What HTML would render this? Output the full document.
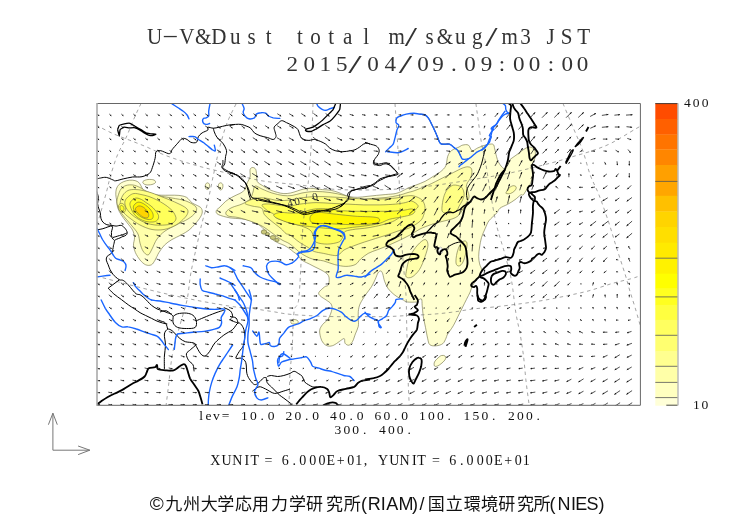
<!DOCTYPE html>
<html><head><meta charset="utf-8"><title>U-V&amp;Dust</title>
<style>
html,body{margin:0;padding:0;background:#fff;}
body{width:752px;height:532px;position:relative;overflow:hidden;}
</style></head><body>
<svg width="752" height="532" viewBox="0 0 752 532" style="position:absolute;left:0;top:0">
<defs><clipPath id="c"><rect x="96.8" y="103.5" width="543.6" height="301.8"/></clipPath></defs>
<g clip-path="url(#c)">
<path d="M216.3,210.7 C216.6,209.4 218.4,208.6 220.0,207.0 C221.6,205.4 223.8,202.9 225.7,201.3 C227.6,199.7 229.4,198.7 231.3,197.6 C233.2,196.5 235.0,195.8 236.9,194.8 C238.8,193.9 241.2,193.0 242.6,191.9 C244.0,190.8 244.6,189.8 245.4,188.2 C246.2,186.6 246.5,184.5 247.3,182.6 C248.1,180.7 249.6,179.1 250.1,176.9 C250.6,174.7 249.6,171.0 250.1,169.4 C250.6,167.8 252.0,167.5 252.9,167.5 C253.8,167.5 255.1,168.2 255.7,169.4 C256.3,170.7 256.4,173.0 256.7,175.0 C257.0,177.0 256.3,179.8 257.3,181.6 C258.3,183.4 260.6,184.3 262.6,185.6 C264.6,186.9 266.9,188.5 269.3,189.6 C271.7,190.7 274.8,191.6 277.2,192.3 C279.6,193.0 281.7,193.5 283.9,193.6 C286.1,193.7 288.3,193.4 290.5,193.0 C292.7,192.6 295.0,191.7 297.2,191.0 C299.4,190.3 301.6,189.4 303.8,189.0 C306.0,188.6 308.3,188.3 310.5,188.3 C312.7,188.3 315.1,188.8 317.1,189.0 C319.1,189.2 320.0,189.4 322.4,189.6 C324.8,189.8 328.6,189.9 331.3,190.4 C334.0,190.9 336.0,191.6 338.8,192.6 C341.6,193.6 345.1,195.6 348.2,196.4 C351.3,197.2 354.5,197.3 357.6,197.3 C360.7,197.3 363.9,196.7 367.0,196.4 C370.1,196.1 373.3,195.7 376.4,195.4 C379.5,195.1 382.7,194.8 385.8,194.5 C388.9,194.2 392.7,194.1 395.2,193.6 C397.7,193.1 398.6,192.6 400.8,191.7 C403.0,190.8 405.8,189.0 408.3,187.9 C410.8,186.8 413.0,186.2 415.8,185.1 C418.6,184.0 422.4,182.7 425.2,181.3 C428.0,179.9 430.3,178.2 432.8,176.6 C435.3,175.0 438.1,173.7 440.3,171.9 C442.5,170.1 444.6,168.4 445.8,165.8 C447.0,163.2 446.8,158.9 447.7,156.4 C448.6,153.9 449.5,152.3 451.4,150.7 C453.3,149.1 457.1,147.9 459.0,147.0 C460.9,146.1 461.1,145.4 462.7,145.1 C464.3,144.8 466.8,144.2 468.4,145.1 C470.0,146.0 470.5,150.2 472.1,150.7 C473.7,151.2 475.6,148.8 477.8,147.9 C480.0,147.0 482.8,145.7 485.3,145.1 C487.8,144.5 491.2,143.6 492.8,144.2 C494.4,144.8 494.1,146.9 494.7,148.9 C495.3,150.9 495.9,154.2 496.5,156.4 C497.1,158.6 497.5,160.3 498.4,162.0 C499.3,163.7 500.6,165.7 501.7,166.8 C502.8,167.9 503.9,169.1 504.7,168.8 C505.5,168.5 505.9,166.2 506.7,164.8 C507.5,163.4 507.8,161.8 509.5,160.1 C511.2,158.4 514.5,156.4 517.0,154.5 C519.5,152.6 522.6,150.2 524.6,148.9 C526.6,147.7 527.6,147.1 529.0,147.0 C530.4,146.9 532.1,147.6 533.1,148.3 C534.1,149.0 534.9,149.8 535.2,151.2 C535.6,152.6 535.4,155.2 535.2,156.8 C535.0,158.4 534.4,159.6 533.8,161.0 C533.2,162.4 532.3,164.1 531.7,165.3 C531.1,166.5 530.2,167.4 530.3,168.1 C530.4,168.8 532.0,168.1 532.4,169.5 C532.8,170.9 532.6,174.5 532.4,176.6 C532.2,178.7 531.6,180.6 531.0,182.2 C530.4,183.8 529.7,185.0 528.9,186.4 C528.1,187.8 527.0,189.3 526.0,190.7 C525.0,192.1 524.1,194.2 523.2,194.9 C522.3,195.6 522.1,194.2 520.7,195.0 C519.3,195.8 517.2,198.1 515.0,199.7 C512.8,201.3 510.0,203.0 507.5,204.4 C505.0,205.8 501.8,206.7 500.0,208.2 C498.2,209.7 498.3,211.1 496.5,213.2 C494.7,215.3 490.9,218.2 489.0,220.7 C487.1,223.2 486.6,225.4 485.3,228.2 C484.1,231.0 482.4,234.5 481.5,237.6 C480.6,240.7 480.1,243.9 479.6,247.0 C479.1,250.1 478.7,253.6 478.7,256.4 C478.7,259.2 479.1,261.7 479.6,263.9 C480.1,266.1 481.5,267.6 481.5,269.5 C481.5,271.4 480.5,273.3 479.6,275.2 C478.7,277.1 477.1,278.9 475.9,280.8 C474.6,282.7 473.1,284.5 472.1,286.4 C471.2,288.3 471.1,289.9 470.2,292.0 C469.3,294.1 467.8,296.6 466.5,299.3 C465.2,302.0 463.6,305.1 462.2,308.0 C460.8,310.9 459.3,313.7 457.9,316.6 C456.5,319.5 455.0,322.7 453.6,325.2 C452.2,327.7 450.4,330.1 449.3,331.7 C448.2,333.3 447.7,333.9 447.1,335.0 C446.6,336.1 446.7,336.8 446.0,338.2 C445.3,339.6 444.4,342.3 442.8,343.6 C441.2,344.9 438.5,345.6 436.3,345.8 C434.1,346.0 431.2,346.0 429.8,344.7 C428.4,343.4 428.3,341.1 427.6,338.2 C426.9,335.3 426.2,331.0 425.5,327.4 C424.8,323.8 423.9,320.2 423.3,316.6 C422.8,313.0 422.5,308.7 422.2,305.8 C421.9,302.9 422.2,299.9 421.5,299.0 C420.8,298.1 418.8,300.0 418.0,300.5 C417.2,301.0 418.3,301.8 416.5,302.0 C414.7,302.2 409.3,302.3 407.1,302.0 C404.9,301.7 404.6,300.7 403.4,300.1 C402.1,299.5 401.2,299.1 399.6,298.2 C398.0,297.3 395.9,296.1 394.0,294.5 C392.1,292.9 389.9,291.0 388.3,288.8 C386.7,286.6 385.5,283.8 384.6,281.3 C383.7,278.8 383.3,275.5 382.7,273.8 C382.1,272.1 381.6,271.1 380.8,271.0 C380.0,270.9 378.9,271.5 378.0,272.9 C377.1,274.3 376.3,277.1 375.2,279.4 C374.1,281.7 373.0,284.4 371.4,286.9 C369.8,289.4 367.7,291.7 365.8,294.5 C363.9,297.3 361.4,301.1 360.1,303.9 C358.9,306.7 358.6,308.9 358.3,311.4 C358.0,313.9 358.3,316.4 358.3,318.9 C358.3,321.4 358.8,323.9 358.3,326.4 C357.8,328.9 356.3,331.4 355.4,333.9 C354.4,336.4 353.7,339.5 352.6,341.4 C351.5,343.3 350.1,344.9 348.9,345.2 C347.6,345.5 345.9,344.4 345.1,343.3 C344.3,342.2 345.1,338.9 344.2,338.6 C343.3,338.3 341.2,340.3 339.5,341.4 C337.8,342.5 335.7,344.4 333.8,345.2 C331.9,346.0 329.9,346.4 328.2,346.1 C326.5,345.8 324.8,344.7 323.5,343.3 C322.2,341.9 321.3,339.9 320.7,337.7 C320.1,335.5 319.4,332.4 319.7,330.2 C320.0,328.0 321.2,326.4 322.6,324.5 C324.0,322.6 326.6,321.4 328.2,318.9 C329.8,316.4 331.4,312.0 331.9,309.5 C332.4,307.0 331.9,305.5 331.0,303.9 C330.1,302.3 328.0,301.4 326.3,300.1 C324.6,298.8 321.9,297.6 320.7,296.3 C319.4,295.1 318.2,294.2 318.8,292.6 C319.4,291.1 322.8,288.3 324.4,287.0 C326.0,285.7 327.5,286.3 328.3,285.0 C329.1,283.7 329.2,280.8 329.2,279.2 C329.2,277.6 328.9,276.5 328.3,275.4 C327.7,274.3 326.8,273.5 325.5,272.6 C324.2,271.7 322.5,270.7 320.8,269.8 C319.1,268.9 317.0,267.9 315.1,267.0 C313.2,266.1 311.4,265.1 309.5,264.1 C307.6,263.2 305.4,262.2 303.8,261.3 C302.2,260.4 301.2,259.6 300.1,258.5 C299.0,257.4 298.4,255.8 297.3,254.7 C296.2,253.6 294.9,253.0 293.5,251.9 C292.1,250.8 290.4,249.3 288.8,248.2 C287.2,247.1 285.7,246.1 284.1,245.3 C282.5,244.5 281.1,244.3 279.4,243.5 C277.7,242.7 275.4,241.7 273.8,240.6 C272.2,239.5 271.7,238.8 270.0,236.9 C268.3,235.0 265.8,231.2 263.8,229.1 C261.8,227.0 260.4,225.8 258.2,224.4 C256.0,223.0 253.5,221.6 250.7,220.7 C247.9,219.8 244.8,219.3 241.3,218.8 C237.9,218.3 233.8,218.6 230.0,217.9 C226.2,217.2 220.5,215.7 218.2,214.5 C215.9,213.3 216.0,211.9 216.3,210.7Z" fill="#ffffd0" stroke="#6b6b40" stroke-width="0.6"/>
<path d="M115.8,194.7 C115.8,192.9 115.8,190.8 116.3,189.1 C116.8,187.4 117.8,185.7 119.1,184.4 C120.3,183.2 122.1,182.3 123.8,181.6 C125.5,180.9 127.5,180.4 129.4,180.2 C131.3,180.0 133.5,180.2 135.1,180.6 C136.7,181.0 137.9,181.7 138.8,182.5 C139.7,183.3 140.1,184.2 140.7,185.3 C141.3,186.4 142.0,188.0 142.6,189.1 C143.2,190.2 143.7,191.1 144.5,191.9 C145.3,192.7 146.1,193.3 147.3,193.8 C148.6,194.3 149.7,194.5 152.0,194.7 C154.3,194.9 158.4,195.1 161.4,195.2 C164.4,195.3 167.1,195.2 170.0,195.2 C172.9,195.2 176.2,195.1 178.9,195.4 C181.7,195.8 184.3,196.1 186.5,197.3 C188.7,198.6 190.2,201.5 192.1,202.9 C194.0,204.3 196.1,204.8 197.7,205.7 C199.3,206.6 200.8,207.2 201.5,208.5 C202.2,209.8 202.5,211.5 202.1,213.2 C201.7,214.9 200.6,216.9 199.3,218.8 C198.1,220.7 196.3,222.5 194.6,224.4 C192.9,226.3 191.2,228.4 189.0,230.1 C186.8,231.8 184.2,233.2 181.4,234.8 C178.6,236.4 174.8,237.8 172.0,239.5 C169.2,241.2 166.7,242.9 164.5,245.1 C162.3,247.3 160.5,250.1 158.9,252.6 C157.3,255.1 156.3,258.1 155.1,260.1 C153.8,262.1 153.0,264.0 151.4,264.8 C149.8,265.6 147.6,265.6 145.7,264.8 C143.8,264.0 141.8,262.1 140.1,260.1 C138.4,258.1 136.5,255.1 135.4,252.6 C134.3,250.1 133.7,247.6 133.5,245.1 C133.3,242.6 134.7,240.1 134.5,237.6 C134.3,235.1 133.8,232.6 132.6,230.1 C131.3,227.6 128.9,225.1 127.0,222.6 C125.1,220.1 122.9,217.5 121.3,215.0 C119.7,212.5 118.4,210.0 117.6,207.5 C116.8,205.0 116.9,202.1 116.6,200.0 C116.3,197.9 115.8,196.5 115.8,194.7Z" fill="#ffffd0" stroke="#6b6b40" stroke-width="0.6"/>
<path d="M143.5,181.0 C144.3,180.4 146.2,179.7 148.0,179.5 C149.8,179.3 152.8,179.5 154.0,180.0 C155.2,180.5 155.8,181.8 155.5,182.5 C155.2,183.2 153.6,184.1 152.0,184.5 C150.4,184.9 147.5,185.1 146.0,184.8 C144.5,184.6 143.4,183.6 143.0,183.0 C142.6,182.4 142.7,181.6 143.5,181.0Z" fill="#ffffd0" stroke="#6b6b40" stroke-width="0.6"/>
<path d="M205.5,184.5 C205.8,183.6 206.8,182.8 207.5,182.8 C208.2,182.8 209.2,183.6 209.5,184.5 C209.8,185.4 209.7,187.2 209.3,188.0 C208.9,188.8 207.9,189.5 207.3,189.5 C206.7,189.5 205.8,188.8 205.5,188.0 C205.2,187.2 205.2,185.4 205.5,184.5Z" fill="#ffffd0" stroke="#6b6b40" stroke-width="0.6"/>
<path d="M218.5,184.5 C218.8,183.6 219.8,182.8 220.5,182.8 C221.2,182.8 222.5,183.6 222.8,184.5 C223.1,185.4 222.9,187.6 222.5,188.5 C222.1,189.4 221.2,190.1 220.5,190.0 C219.8,189.9 218.8,188.9 218.5,188.0 C218.2,187.1 218.2,185.4 218.5,184.5Z" fill="#ffffd0" stroke="#6b6b40" stroke-width="0.6"/>
<path d="M434.5,362.0 C435.1,360.7 436.8,359.1 438.0,358.0 C439.2,356.9 440.3,355.8 441.5,355.5 C442.7,355.2 444.3,355.4 445.0,356.0 C445.7,356.6 446.0,357.8 445.5,359.0 C445.0,360.2 443.3,361.8 442.0,363.0 C440.7,364.2 438.8,365.5 437.5,366.0 C436.2,366.5 435.0,366.7 434.5,366.0 C434.0,365.3 433.9,363.3 434.5,362.0Z" fill="#ffffd0" stroke="#6b6b40" stroke-width="0.6"/>
<path d="M291.0,321.0 C291.4,320.3 292.9,319.6 294.0,319.5 C295.1,319.4 296.8,319.9 297.5,320.5 C298.2,321.1 298.5,322.4 298.0,323.0 C297.5,323.6 295.6,323.9 294.5,324.0 C293.4,324.1 292.1,324.0 291.5,323.5 C290.9,323.0 290.6,321.7 291.0,321.0Z" fill="#ffffd0" stroke="#6b6b40" stroke-width="0.6"/>
<path d="M118.0,196.0 C118.7,193.7 119.7,190.8 121.0,189.0 C122.3,187.2 124.0,186.2 126.0,185.5 C128.0,184.8 130.7,184.7 133.0,185.0 C135.3,185.3 137.7,186.4 140.0,187.5 C142.3,188.6 144.0,190.2 147.0,191.5 C150.0,192.8 153.8,194.4 158.0,195.5 C162.2,196.6 167.3,197.1 172.0,198.0 C176.7,198.9 182.0,199.5 186.0,201.0 C190.0,202.5 194.5,205.0 196.0,207.0 C197.5,209.0 196.3,211.0 195.0,213.0 C193.7,215.0 191.2,217.0 188.0,219.0 C184.8,221.0 179.8,223.0 176.0,225.0 C172.2,227.0 168.2,228.7 165.0,231.0 C161.8,233.3 159.2,236.0 157.0,239.0 C154.8,242.0 153.5,246.3 152.0,249.0 C150.5,251.7 149.5,254.7 148.0,255.0 C146.5,255.3 144.3,253.0 143.0,251.0 C141.7,249.0 140.8,245.8 140.0,243.0 C139.2,240.2 139.3,236.8 138.0,234.0 C136.7,231.2 134.0,228.5 132.0,226.0 C130.0,223.5 128.0,221.5 126.0,219.0 C124.0,216.5 121.5,213.7 120.0,211.0 C118.5,208.3 117.3,205.5 117.0,203.0 C116.7,200.5 117.3,198.3 118.0,196.0Z" fill="#ffffaa" stroke="#6b6b40" stroke-width="0.6"/>
<path d="M120.5,201.0 C120.9,199.0 121.8,196.8 123.0,195.0 C124.2,193.2 126.0,191.4 128.0,190.5 C130.0,189.6 132.5,189.5 135.0,189.5 C137.5,189.5 140.2,189.9 143.0,190.5 C145.8,191.1 149.0,192.0 152.0,193.0 C155.0,194.0 158.0,195.3 161.0,196.5 C164.0,197.7 167.0,198.8 170.0,200.0 C173.0,201.2 176.3,202.7 179.0,204.0 C181.7,205.3 184.5,206.7 186.0,208.0 C187.5,209.3 188.2,210.4 188.0,212.0 C187.8,213.6 187.0,215.3 185.0,217.5 C183.0,219.7 179.5,223.0 176.0,225.0 C172.5,227.0 168.0,228.8 164.0,229.5 C160.0,230.2 156.0,230.2 152.0,229.5 C148.0,228.8 143.5,226.8 140.0,225.0 C136.5,223.2 133.7,221.0 131.0,219.0 C128.3,217.0 125.8,215.0 124.0,213.0 C122.2,211.0 121.1,209.0 120.5,207.0 C119.9,205.0 120.1,203.0 120.5,201.0Z" fill="#ffff84" stroke="#6b6b40" stroke-width="0.6"/>
<path d="M125.0,201.0 C125.5,199.1 127.5,197.2 129.0,196.0 C130.5,194.8 132.0,193.8 134.0,193.5 C136.0,193.2 138.5,194.0 141.0,194.5 C143.5,195.0 146.3,195.6 149.0,196.5 C151.7,197.4 154.5,198.8 157.0,200.0 C159.5,201.2 161.8,202.6 164.0,204.0 C166.2,205.4 168.3,207.0 170.0,208.5 C171.7,210.0 173.0,211.2 174.0,213.0 C175.0,214.8 176.3,217.2 176.0,219.0 C175.7,220.8 173.8,222.5 172.0,223.5 C170.2,224.5 167.8,224.8 165.0,225.0 C162.2,225.2 158.2,225.3 155.0,225.0 C151.8,224.7 148.8,224.0 146.0,223.0 C143.2,222.0 140.5,220.5 138.0,219.0 C135.5,217.5 133.0,215.9 131.0,214.0 C129.0,212.1 127.0,209.7 126.0,207.5 C125.0,205.3 124.5,202.9 125.0,201.0Z" fill="#ffff5a" stroke="#6b6b40" stroke-width="0.6"/>
<path d="M130.0,203.0 C130.4,201.4 132.3,199.8 133.5,199.0 C134.7,198.2 135.7,197.9 137.0,198.0 C138.3,198.1 140.0,198.8 141.5,199.5 C143.0,200.2 144.4,201.4 146.0,202.5 C147.6,203.6 149.5,204.8 151.0,206.0 C152.5,207.2 153.8,208.4 155.0,210.0 C156.2,211.6 158.1,213.8 158.5,215.5 C158.9,217.2 158.4,218.9 157.5,220.0 C156.6,221.1 154.9,221.8 153.0,222.0 C151.1,222.2 148.3,222.1 146.0,221.5 C143.7,220.9 141.0,219.8 139.0,218.5 C137.0,217.2 135.3,215.7 134.0,214.0 C132.7,212.3 131.7,210.3 131.0,208.5 C130.3,206.7 129.6,204.6 130.0,203.0Z" fill="#ffff2a" stroke="#6b6b40" stroke-width="0.6"/>
<path d="M133.5,206.0 C134.0,204.8 135.8,203.1 137.0,202.5 C138.2,201.9 139.6,202.1 141.0,202.5 C142.4,202.9 144.0,203.9 145.5,205.0 C147.0,206.1 148.8,207.5 150.0,209.0 C151.2,210.5 152.6,212.4 153.0,214.0 C153.4,215.6 153.3,217.6 152.5,218.5 C151.7,219.4 149.8,219.7 148.0,219.5 C146.2,219.3 143.8,218.4 142.0,217.5 C140.2,216.6 138.3,215.2 137.0,214.0 C135.7,212.8 134.6,211.3 134.0,210.0 C133.4,208.7 133.0,207.2 133.5,206.0Z" fill="#fff600" stroke="#6b6b40" stroke-width="0.6"/>
<path d="M135.5,208.5 C135.8,207.6 137.4,206.3 138.5,206.0 C139.6,205.7 140.8,206.0 142.0,206.5 C143.2,207.0 144.4,207.8 145.5,209.0 C146.6,210.2 148.1,212.1 148.5,213.5 C148.9,214.9 148.8,216.8 148.0,217.5 C147.2,218.2 145.4,218.0 144.0,217.5 C142.6,217.0 140.8,215.5 139.5,214.5 C138.2,213.5 137.2,212.5 136.5,211.5 C135.8,210.5 135.2,209.4 135.5,208.5Z" fill="#ffd400" stroke="#6b6b40" stroke-width="0.6"/>
<path d="M118.5,206.0 C118.7,204.8 119.7,203.8 120.5,203.5 C121.3,203.2 122.7,203.3 123.5,204.0 C124.3,204.7 125.2,206.2 125.5,207.5 C125.8,208.8 125.6,210.7 125.0,211.5 C124.4,212.3 122.9,212.7 122.0,212.5 C121.1,212.3 120.1,211.6 119.5,210.5 C118.9,209.4 118.3,207.2 118.5,206.0Z" fill="#ffff5a" stroke="#6b6b40" stroke-width="0.6"/>
<path d="M120.0,206.5 C120.2,205.7 121.3,205.2 122.0,205.5 C122.7,205.8 123.8,207.2 124.0,208.0 C124.2,208.8 124.0,210.1 123.5,210.5 C123.0,210.9 121.6,211.2 121.0,210.5 C120.4,209.8 119.8,207.3 120.0,206.5Z" fill="#ffff2a" stroke="#6b6b40" stroke-width="0.6"/>
<path d="M226.0,212.0 C226.7,210.6 229.3,208.8 232.0,207.5 C234.7,206.2 239.0,205.4 242.0,204.0 C245.0,202.6 248.2,201.0 250.0,199.0 C251.8,197.0 252.2,194.2 253.0,192.0 C253.8,189.8 253.5,186.5 255.0,186.0 C256.5,185.5 259.2,187.8 262.0,189.0 C264.8,190.2 268.5,191.9 272.0,193.0 C275.5,194.1 279.7,195.1 283.0,195.5 C286.3,195.9 288.8,195.9 292.0,195.5 C295.2,195.1 298.2,193.7 302.0,193.0 C305.8,192.3 310.3,191.6 315.0,191.5 C319.7,191.4 325.0,191.8 330.0,192.5 C335.0,193.2 340.3,194.3 345.0,195.5 C349.7,196.7 353.5,199.0 358.0,199.5 C362.5,200.0 367.3,198.8 372.0,198.5 C376.7,198.2 381.7,198.0 386.0,197.5 C390.3,197.0 394.3,196.3 398.0,195.5 C401.7,194.7 405.3,193.3 408.0,192.5 C410.7,191.7 410.7,192.0 414.1,190.8 C417.5,189.6 423.5,187.2 428.2,185.1 C432.9,183.0 438.1,180.2 442.3,178.1 C446.5,176.0 450.3,174.1 453.6,172.4 C456.9,170.8 459.8,169.1 462.1,168.2 C464.5,167.3 466.2,166.8 467.7,166.8 C469.2,166.8 470.5,167.3 471.2,168.2 C471.9,169.1 472.0,170.8 471.9,172.4 C471.8,174.1 471.2,176.4 470.5,178.1 C469.8,179.8 468.4,180.9 467.7,182.3 C467.0,183.7 466.3,185.1 466.3,186.5 C466.3,187.9 467.2,189.2 467.7,190.8 C468.2,192.5 469.1,194.8 469.1,196.4 C469.1,198.0 468.4,199.2 467.7,200.6 C467.0,202.0 465.8,203.2 464.9,204.9 C464.0,206.6 463.2,208.7 462.1,210.5 C461.0,212.3 459.7,214.6 458.0,216.0 C456.3,217.4 454.3,218.2 452.0,219.0 C449.7,219.8 446.7,220.3 444.0,221.0 C441.3,221.7 438.3,222.3 436.0,223.0 C433.7,223.7 432.7,224.0 430.0,225.0 C427.3,226.0 423.3,227.3 420.0,229.0 C416.7,230.7 413.7,233.0 410.0,235.0 C406.3,237.0 401.9,239.2 398.0,241.0 C394.1,242.8 390.2,244.6 386.8,246.0 C383.4,247.4 380.6,248.5 377.5,249.7 C374.4,250.9 371.0,251.8 368.2,253.4 C365.4,255.0 362.9,257.1 360.7,259.0 C358.5,260.9 357.7,263.4 355.2,264.6 C352.7,265.8 349.3,266.4 345.9,266.4 C342.5,266.4 338.4,265.5 334.7,264.6 C331.0,263.7 327.2,261.8 323.5,260.9 C319.8,260.0 316.0,260.2 312.3,259.0 C308.6,257.8 304.9,255.9 301.2,253.4 C297.5,250.9 293.2,246.3 290.0,244.1 C286.8,241.9 285.0,241.8 282.0,240.0 C279.0,238.2 275.3,235.3 272.0,233.0 C268.7,230.7 265.7,228.0 262.0,226.0 C258.3,224.0 254.0,222.4 250.0,221.0 C246.0,219.6 241.7,218.3 238.0,217.5 C234.3,216.7 230.0,216.9 228.0,216.0 C226.0,215.1 225.3,213.4 226.0,212.0Z" fill="#ffffaa" stroke="#6b6b40" stroke-width="0.6"/>
<path d="M245.0,203.0 C245.5,201.8 251.7,199.3 255.0,198.5 C258.3,197.7 261.2,197.7 265.0,198.0 C268.8,198.3 273.8,200.2 278.0,200.5 C282.2,200.8 286.3,200.4 290.0,200.0 C293.7,199.6 295.7,198.6 300.0,198.0 C304.3,197.4 310.7,196.7 316.0,196.5 C321.3,196.3 326.7,196.8 332.0,197.0 C337.3,197.2 342.7,197.7 348.0,198.0 C353.3,198.3 358.7,198.8 364.0,199.0 C369.3,199.2 374.7,199.2 380.0,199.0 C385.3,198.8 391.7,198.5 396.0,198.0 C400.3,197.5 403.0,196.3 406.0,196.0 C409.0,195.7 411.3,195.3 414.0,196.0 C416.7,196.7 420.2,198.2 422.0,200.0 C423.8,201.8 424.7,204.7 425.0,207.0 C425.3,209.3 424.8,211.7 424.0,214.0 C423.2,216.3 422.8,218.7 420.3,221.0 C417.8,223.3 412.9,226.3 409.2,228.0 C405.5,229.7 401.7,229.8 398.0,231.0 C394.3,232.2 390.5,233.8 386.8,235.0 C383.1,236.2 379.3,237.3 375.6,238.5 C371.9,239.7 368.2,240.8 364.5,242.0 C360.8,243.2 356.7,244.7 353.3,246.0 C349.9,247.3 346.5,248.5 344.0,250.0 C341.5,251.5 340.3,254.1 338.4,255.0 C336.5,255.9 335.3,255.6 332.8,255.3 C330.3,255.0 326.6,254.0 323.5,253.4 C320.4,252.8 316.7,252.4 314.2,251.5 C311.7,250.6 311.1,249.4 308.6,247.8 C306.1,246.2 302.4,244.3 299.3,242.2 C296.2,240.1 292.2,236.4 290.0,235.0 C287.8,233.6 287.6,234.7 286.1,233.7 C284.6,232.7 283.0,230.4 281.2,228.8 C279.4,227.2 277.1,225.6 275.1,224.0 C273.1,222.4 270.8,220.7 269.0,219.1 C267.2,217.5 265.3,216.0 264.1,214.2 C262.9,212.4 263.6,209.5 261.6,208.1 C259.6,206.7 254.8,206.8 252.0,206.0 C249.2,205.2 244.5,204.2 245.0,203.0Z" fill="#ffff84" stroke="#6b6b40" stroke-width="0.6"/>
<path d="M262.0,205.0 C262.3,203.8 267.0,203.9 270.0,204.0 C273.0,204.1 276.7,205.2 280.0,205.5 C283.3,205.8 286.7,206.2 290.0,206.0 C293.3,205.8 295.7,204.7 300.0,204.1 C304.3,203.5 310.7,202.7 316.0,202.6 C321.3,202.5 326.6,203.2 331.9,203.4 C337.2,203.7 342.6,203.8 347.9,204.1 C353.2,204.3 358.5,204.8 363.8,204.9 C369.1,205.0 374.5,205.0 379.8,204.9 C385.1,204.8 391.4,204.5 395.7,204.1 C399.9,203.7 402.6,203.1 405.3,202.6 C408.0,202.1 409.6,200.5 411.7,201.0 C413.8,201.5 417.6,204.2 418.1,205.7 C418.7,207.2 416.4,208.8 415.0,210.0 C413.6,211.2 412.2,212.0 410.0,213.0 C407.8,214.0 404.3,214.9 401.7,216.2 C399.1,217.5 396.8,219.6 394.3,220.8 C391.8,222.0 389.9,222.7 386.8,223.6 C383.7,224.5 379.3,225.6 375.6,226.4 C371.9,227.2 367.9,227.8 364.5,228.3 C361.1,228.8 358.3,228.7 355.2,229.2 C352.1,229.7 347.8,230.3 345.9,231.1 C343.9,231.9 344.1,232.8 343.5,234.0 C342.9,235.2 343.0,237.1 342.1,238.5 C341.2,239.9 340.9,241.3 338.4,242.2 C335.9,243.1 330.9,244.1 327.2,244.1 C323.5,244.1 318.4,243.5 316.1,242.2 C313.8,240.8 314.5,238.0 313.5,236.0 C312.5,234.0 312.1,231.7 310.0,230.0 C307.9,228.3 304.5,227.2 301.2,226.0 C297.9,224.8 293.1,223.9 290.0,223.0 C286.9,222.1 284.7,221.2 282.4,220.3 C280.1,219.5 277.7,218.9 276.3,217.9 C274.9,216.9 275.2,215.3 273.8,214.2 C272.4,213.0 270.0,212.5 268.0,211.0 C266.0,209.5 261.7,206.2 262.0,205.0Z" fill="#ffff5a" stroke="#6b6b40" stroke-width="0.6"/>
<path d="M274.0,214.5 C274.8,213.8 277.3,212.8 280.0,212.5 C282.7,212.2 286.7,212.9 290.0,213.0 C293.3,213.1 297.0,213.3 300.0,212.9 C303.0,212.5 305.3,211.2 308.0,210.5 C310.7,209.8 312.6,209.2 316.0,208.9 C319.4,208.6 324.7,208.6 328.7,208.9 C332.7,209.2 335.4,210.1 339.9,210.5 C344.4,210.9 350.6,211.2 355.9,211.3 C361.2,211.4 366.5,211.3 371.8,211.3 C377.1,211.3 382.8,211.4 387.8,211.3 C392.9,211.2 398.1,210.9 402.1,210.5 C406.1,210.1 409.6,208.8 411.7,208.9 C413.8,209.0 414.9,210.4 414.9,211.3 C414.9,212.2 413.8,213.6 411.7,214.5 C409.6,215.4 405.8,216.1 402.1,216.9 C398.4,217.7 393.1,218.2 389.4,219.3 C385.7,220.4 383.5,222.2 379.8,223.3 C376.1,224.4 371.5,225.0 367.0,225.7 C362.5,226.4 357.2,226.8 352.7,227.3 C348.2,227.8 344.7,228.8 339.9,228.9 C335.1,229.0 328.9,228.5 323.9,228.1 C318.8,227.7 313.9,227.0 309.6,226.5 C305.3,226.0 301.6,225.7 298.0,225.0 C294.4,224.3 291.0,223.4 288.0,222.5 C285.0,221.6 282.2,220.4 280.0,219.5 C277.8,218.6 276.0,217.8 275.0,217.0 C274.0,216.2 273.2,215.2 274.0,214.5Z" fill="#ffff2a" stroke="#6b6b40" stroke-width="0.6"/>
<path d="M310.5,216.2 C311.4,214.5 313.6,212.7 317.9,212.4 C322.2,212.1 330.3,213.7 336.5,214.3 C342.7,214.9 349.0,215.7 355.2,216.2 C361.4,216.7 369.8,216.6 373.8,217.1 C377.8,217.6 378.8,218.1 379.4,219.0 C380.0,219.9 380.0,221.8 377.5,222.7 C375.0,223.6 369.8,224.2 364.5,224.5 C359.2,224.8 352.1,224.7 345.9,224.5 C339.7,224.3 332.8,223.9 327.2,223.6 C321.6,223.3 315.1,223.9 312.3,222.7 C309.5,221.5 309.6,217.9 310.5,216.2Z" fill="#fff600" stroke="#6b6b40" stroke-width="0.6"/>
<path d="M442.0,210.5 C441.6,208.3 442.4,203.1 443.0,200.0 C443.6,196.9 444.6,194.2 445.6,192.2 C446.6,190.2 447.7,189.2 449.0,188.0 C450.3,186.8 451.7,185.3 453.6,185.1 C455.5,184.8 459.0,185.6 460.6,186.5 C462.2,187.4 462.9,189.2 463.5,190.8 C464.1,192.4 464.2,194.2 464.0,195.9 C463.8,197.6 462.9,199.3 462.1,201.0 C461.3,202.7 460.1,204.3 459.2,206.0 C458.2,207.7 457.8,209.8 456.4,211.0 C454.9,212.2 452.3,212.7 450.5,213.0 C448.7,213.3 447.0,213.4 445.6,213.0 C444.2,212.6 442.4,212.7 442.0,210.5Z" fill="#ffff84" stroke="#6b6b40" stroke-width="0.6"/>
<path d="M406.3,271.4 C406.9,268.0 408.2,260.8 410.1,256.4 C412.0,252.0 415.1,247.9 417.6,245.1 C420.1,242.3 423.4,239.5 425.1,239.5 C426.8,239.5 428.0,242.3 428.0,245.1 C428.0,247.9 426.5,252.3 425.1,256.4 C423.7,260.5 421.7,266.1 419.5,269.5 C417.3,272.9 414.2,275.8 412.0,277.0 C409.8,278.2 407.2,277.9 406.3,277.0 C405.4,276.1 405.7,274.8 406.3,271.4Z" fill="#ffffaa" stroke="#6b6b40" stroke-width="0.6"/>
<path d="M457.0,253.0 C457.7,250.0 458.8,247.0 460.0,245.0 C461.2,243.0 462.8,241.3 464.0,241.0 C465.2,240.7 466.7,241.2 467.0,243.0 C467.3,244.8 466.7,248.8 466.0,252.0 C465.3,255.2 464.2,259.7 463.0,262.0 C461.8,264.3 460.2,265.8 459.0,266.0 C457.8,266.2 456.3,265.2 456.0,263.0 C455.7,260.8 456.3,256.0 457.0,253.0Z" fill="#ffffaa" stroke="#6b6b40" stroke-width="0.6"/>
<path d="M506.3,192.1 C506.8,191.2 507.9,189.0 509.1,187.9 C510.3,186.8 512.1,185.8 513.3,185.7 C514.5,185.6 516.0,186.3 516.2,187.1 C516.5,187.9 515.8,189.6 514.8,190.7 C513.8,191.8 511.9,193.0 510.5,193.5 C509.1,194.0 507.0,193.7 506.3,193.5 C505.6,193.3 505.8,193.0 506.3,192.1Z" fill="#ffffaa" stroke="#6b6b40" stroke-width="0.6"/>
<ellipse cx="264.0" cy="232.0" rx="2.8" ry="2.2" fill="#c9c77a" stroke="#6b6b40" stroke-width="0.6"/>
<ellipse cx="267.5" cy="234.0" rx="2.0" ry="1.5" fill="#c9c77a" stroke="#6b6b40" stroke-width="0.6"/>
<ellipse cx="273.0" cy="237.5" rx="2.8" ry="2.0" fill="#c9c77a" stroke="#6b6b40" stroke-width="0.6"/>
<ellipse cx="277.0" cy="240.0" rx="2.2" ry="1.6" fill="#c9c77a" stroke="#6b6b40" stroke-width="0.6"/>
<ellipse cx="440.3" cy="250.5" rx="2.4" ry="3.4" fill="#f4f4f4" stroke="#8a8a7a" stroke-width="0.5"/>
<path d="M141.0,103.5 C140.0,105.7 137.3,111.1 134.8,116.8 C132.3,122.5 129.0,131.2 126.1,137.6 C123.2,143.9 120.1,148.6 117.5,154.9 C114.9,161.2 112.3,169.8 110.6,175.7 C108.8,181.5 108.4,184.6 107.0,190.0 C105.6,195.4 103.8,201.7 102.0,208.0 C100.2,214.3 97.0,224.7 96.0,228.0" fill="none" stroke="#666" stroke-width="0.6" stroke-dasharray="3.5,3.5"/>
<path d="M236.0,104.0 C234.4,107.4 229.3,116.7 226.5,124.4 C223.7,132.1 221.2,141.5 219.0,150.0 C216.8,158.5 215.3,166.5 213.4,175.2 C211.5,183.8 209.7,194.0 207.8,201.9 C205.9,209.8 204.0,215.1 202.1,222.6 C200.2,230.1 198.4,238.6 196.5,247.0 C194.6,255.4 192.4,264.5 190.8,273.3 C189.2,282.1 188.9,291.0 187.1,299.6 C185.3,308.2 182.4,316.0 180.0,325.0 C177.6,334.0 174.4,343.5 172.5,353.8 C170.6,364.1 169.5,378.1 168.4,386.8 C167.3,395.5 166.4,402.8 166.0,406.0" fill="none" stroke="#666" stroke-width="0.6" stroke-dasharray="3.5,3.5"/>
<path d="M313.0,103.5 C312.8,109.2 312.4,125.7 311.7,137.6 C311.0,149.5 309.9,164.6 309.0,175.0 C308.1,185.4 307.0,191.5 306.0,200.0 C305.0,208.5 303.8,216.7 303.0,226.0 C302.2,235.3 302.1,243.7 301.4,256.0 C300.7,268.3 299.8,290.7 298.6,300.0 C297.4,309.3 295.1,303.4 294.0,312.0 C292.9,320.6 292.7,341.6 292.0,351.7 C291.3,361.8 290.5,363.3 290.0,372.4 C289.5,381.4 289.2,400.4 289.0,406.0" fill="none" stroke="#666" stroke-width="0.6" stroke-dasharray="3.5,3.5"/>
<path d="M395.0,103.5 C395.5,111.2 397.2,135.6 398.0,150.0 C398.8,164.4 399.0,176.7 399.5,190.0 C400.0,203.3 400.4,218.3 401.0,230.0 C401.6,241.7 402.2,249.2 403.0,260.0 C403.8,270.8 405.4,285.6 406.0,295.0 C406.6,304.4 406.3,309.4 406.5,316.6 C406.7,323.8 406.8,331.0 407.1,338.2 C407.4,345.4 408.0,352.6 408.2,359.8 C408.4,367.0 408.0,373.7 408.2,381.4 C408.4,389.1 409.1,401.9 409.3,406.0" fill="none" stroke="#666" stroke-width="0.6" stroke-dasharray="3.5,3.5"/>
<path d="M475.9,103.5 C476.2,106.0 477.1,112.2 478.0,118.8 C478.9,125.4 480.2,135.5 481.5,143.2 C482.8,150.9 484.6,157.2 486.0,165.0 C487.4,172.8 488.3,180.3 490.0,190.0 C491.7,199.7 493.7,212.8 496.0,222.9 C498.3,233.1 502.0,243.7 504.0,250.9 C506.0,258.1 506.7,260.7 508.0,266.0 C509.3,271.3 510.6,275.1 511.9,282.8 C513.2,290.6 514.4,303.8 515.8,312.5 C517.2,321.2 519.0,327.5 520.3,335.0 C521.6,342.5 522.8,350.1 523.7,357.6 C524.6,365.1 525.0,371.9 525.9,380.0 C526.8,388.1 528.7,401.7 529.3,406.0" fill="none" stroke="#666" stroke-width="0.6" stroke-dasharray="3.5,3.5"/>
<path d="M563.0,103.5 C564.7,107.6 570.1,120.3 573.4,128.2 C576.7,136.1 580.0,142.9 582.8,150.7 C585.6,158.5 587.6,167.8 590.3,175.2 C593.0,182.6 595.9,187.0 599.0,195.0 C602.1,203.0 606.1,214.4 609.0,223.2 C611.9,232.0 613.8,239.2 616.5,247.6 C619.2,256.1 622.8,266.8 625.0,273.9 C627.2,281.0 627.9,284.3 629.6,290.0 C631.3,295.7 633.3,301.7 635.2,308.0 C637.1,314.3 640.0,324.7 641.0,328.0" fill="none" stroke="#666" stroke-width="0.6" stroke-dasharray="3.5,3.5"/>
<path d="M96.0,125.0 C98.7,126.4 106.7,130.8 112.3,133.3 C117.9,135.8 123.8,137.9 129.6,140.2 C135.4,142.5 141.1,144.6 146.9,147.1 C152.7,149.6 158.4,152.6 164.2,154.9 C170.0,157.2 175.7,159.1 181.5,161.0 C187.3,162.9 193.0,164.6 198.8,166.2 C204.6,167.8 209.2,168.9 216.1,170.5 C223.0,172.1 231.8,174.2 240.0,176.0 C248.2,177.8 255.0,179.8 265.0,181.3 C275.0,182.8 289.2,183.7 300.0,185.0 C310.8,186.3 320.0,188.2 330.0,189.0 C340.0,189.8 348.7,190.0 360.0,190.0 C371.3,190.0 386.3,189.7 398.0,189.0 C409.7,188.3 418.0,187.5 430.0,186.0 C442.0,184.5 456.7,182.2 470.0,180.0 C483.3,177.8 496.4,175.9 510.0,173.0 C523.6,170.1 541.5,165.5 551.8,162.8 C562.1,160.1 565.1,158.9 571.8,156.9 C578.4,154.9 585.1,153.2 591.7,150.9 C598.4,148.6 604.4,146.6 611.7,142.9 C619.0,139.2 630.7,131.7 635.6,128.9 C640.5,126.1 640.1,126.5 641.0,126.0" fill="none" stroke="#666" stroke-width="0.6" stroke-dasharray="3.5,3.5"/>
<path d="M96.0,276.0 C105.0,278.3 134.3,286.2 150.0,290.0 C165.7,293.8 176.7,296.3 190.0,299.0 C203.3,301.7 219.9,304.6 230.0,306.2 C240.1,307.8 243.8,307.4 250.7,308.3 C257.6,309.2 264.5,310.4 271.4,311.4 C278.3,312.4 282.2,313.6 292.0,314.5 C301.8,315.4 317.8,316.1 330.0,316.5 C342.2,316.9 355.6,316.6 365.0,316.6 C374.4,316.6 379.4,316.8 386.6,316.6 C393.8,316.4 401.0,315.9 408.2,315.5 C415.4,315.1 422.6,314.9 429.8,314.4 C437.0,313.9 444.2,313.2 451.4,312.3 C458.6,311.4 465.8,309.9 473.0,309.0 C480.2,308.1 486.4,307.8 494.6,306.9 C502.9,306.0 514.1,304.6 522.5,303.5 C530.9,302.4 537.5,301.4 545.0,300.1 C552.5,298.8 560.1,297.2 567.6,295.6 C575.1,294.0 582.5,292.6 590.0,290.5 C597.5,288.4 605.9,285.3 612.8,283.3 C619.7,281.3 626.8,279.9 631.5,278.6 C636.2,277.3 639.4,276.0 641.0,275.5" fill="none" stroke="#666" stroke-width="0.6" stroke-dasharray="3.5,3.5"/>
<path d="M96.9,178.9 C97.5,178.8 99.1,178.2 100.6,178.0 C102.2,177.7 104.2,177.1 106.3,177.4 C108.3,177.7 111.3,179.3 112.9,179.9 C114.4,180.4 113.9,181.0 115.7,180.8 C117.4,180.6 120.4,179.6 123.2,178.9 C126.0,178.3 129.5,177.4 132.6,177.0 C135.7,176.7 139.2,177.3 142.0,176.7 C144.8,176.0 147.8,174.8 149.5,173.3 C151.2,171.8 151.4,170.2 152.3,167.7 C153.3,165.1 154.5,160.9 155.1,158.3 C155.8,155.6 155.1,152.9 156.1,151.7 C157.0,150.4 158.7,150.4 160.8,150.7 C162.8,151.1 166.6,153.2 168.3,153.6 C170.0,153.9 170.5,153.2 171.1,152.6 C171.7,152.0 171.0,151.4 172.0,149.8 C173.1,148.2 176.0,145.1 177.7,143.2 C179.4,141.3 180.8,139.1 182.4,138.5 C183.9,137.9 185.7,138.8 187.1,139.5 C188.5,140.1 189.3,141.8 190.8,142.3 C192.4,142.8 195.2,143.2 196.5,142.3 C197.7,141.3 197.4,138.2 198.4,136.6 C199.3,135.1 200.5,134.0 202.1,132.9 C203.7,131.8 206.8,131.0 207.8,130.1 C208.7,129.1 206.8,127.6 207.8,127.2 C208.7,126.9 211.5,128.2 213.4,128.2 C215.3,128.2 216.8,127.7 219.0,127.2 C221.2,126.8 223.9,125.8 226.5,125.4 C229.2,124.9 233.6,124.6 235.0,124.4" fill="none" stroke="#000" stroke-width="1.0" stroke-linejoin="round"/>
<path d="M213.4,128.2 C213.5,128.8 213.7,130.4 214.3,131.9 C215.0,133.5 215.7,135.7 217.1,137.6 C218.6,139.5 221.2,141.0 222.8,143.2 C224.4,145.4 226.1,148.5 226.5,150.7 C227.0,152.9 225.9,154.2 225.6,156.4 C225.3,158.6 225.1,162.0 224.7,163.9 C224.2,165.8 222.2,166.4 222.8,167.7 C223.4,168.9 226.4,170.3 228.4,171.4 C230.5,172.5 233.9,173.8 235.0,174.2" fill="none" stroke="#000" stroke-width="1.0" stroke-linejoin="round"/>
<path d="M230.0,125.4 C230.9,125.2 233.8,124.6 235.6,124.4 C237.5,124.3 239.4,124.1 241.3,124.4 C243.2,124.7 245.3,125.7 246.9,126.3 C248.5,126.9 249.4,127.1 250.7,128.2 C251.9,129.3 252.9,131.6 254.4,132.9 C256.0,134.1 257.9,134.9 260.1,135.7 C262.3,136.5 265.4,137.0 267.6,137.6 C269.8,138.2 271.8,139.6 273.2,139.5 C274.6,139.3 275.7,137.9 276.0,136.6 C276.4,135.4 275.4,133.5 275.1,131.9 C274.8,130.4 273.7,128.7 274.2,127.2 C274.6,125.8 276.7,124.6 277.9,123.5 C279.2,122.4 280.3,120.8 281.7,120.7 C283.1,120.5 284.7,121.8 286.4,122.6 C288.1,123.3 290.3,124.4 292.0,125.4 C293.7,126.3 295.6,127.2 296.7,128.2 C297.8,129.1 298.0,129.6 298.6,131.0 C299.2,132.4 299.7,135.2 300.5,136.6 C301.3,138.1 301.9,138.8 303.3,139.5 C304.7,140.1 307.0,140.4 308.9,140.4 C310.8,140.4 312.7,139.3 314.6,139.5 C316.4,139.6 318.3,140.6 320.2,141.3 C322.1,142.1 324.3,143.1 325.8,144.2 C327.4,145.3 328.0,146.8 329.6,147.9 C331.2,149.0 333.0,150.1 335.2,150.7 C337.4,151.4 340.2,151.7 342.8,151.7 C345.3,151.7 348.2,151.1 350.3,150.7 C352.3,150.4 353.4,150.4 355.0,149.8 C356.5,149.2 358.3,147.9 359.7,147.0 C361.1,146.0 362.2,144.8 363.4,144.2 C364.7,143.5 366.1,143.2 367.2,143.2 C368.3,143.2 369.5,144.0 370.0,144.2" fill="none" stroke="#000" stroke-width="1.0" stroke-linejoin="round"/>
<path d="M230.0,173.3 C231.3,173.6 235.3,174.1 237.5,175.2 C239.7,176.3 241.6,178.0 243.2,179.9 C244.7,181.7 246.0,184.1 246.9,186.4 C247.9,188.8 248.2,191.8 248.8,194.0 C249.4,196.2 250.4,198.7 250.7,199.6" fill="none" stroke="#000" stroke-width="1.0" stroke-linejoin="round"/>
<path d="M348.4,199.6 C348.7,198.3 349.3,193.6 350.3,192.1 C351.2,190.5 352.5,190.8 354.0,190.2 C355.6,189.6 357.8,188.9 359.7,188.3 C361.5,187.7 363.6,186.9 365.3,186.4 C367.0,186.0 369.2,185.7 370.0,185.5" fill="none" stroke="#000" stroke-width="1.0" stroke-linejoin="round"/>
<path d="M419.5,114.1 C420.4,114.3 423.6,114.3 425.1,115.0 C426.7,115.8 427.8,117.2 428.9,118.8 C430.0,120.4 430.8,122.6 431.7,124.4 C432.7,126.3 433.6,128.0 434.5,130.1 C435.5,132.1 436.4,134.5 437.3,136.6 C438.3,138.8 439.1,142.0 440.2,143.2 C441.3,144.5 442.4,144.0 443.9,144.2 C445.5,144.3 448.0,143.7 449.6,144.2 C451.1,144.6 452.1,146.0 453.3,147.0 C454.6,147.9 456.1,148.9 457.1,149.8 C458.0,150.7 458.3,151.5 459.0,152.6 C459.6,153.7 460.5,155.7 460.8,156.4" fill="none" stroke="#000" stroke-width="1.0" stroke-linejoin="round"/>
<path d="M365.0,142.3 C365.9,142.6 368.8,143.5 370.6,144.2 C372.5,144.8 374.9,145.1 376.3,146.0 C377.7,147.0 378.8,148.4 379.1,149.8 C379.4,151.2 378.8,153.1 378.2,154.5 C377.5,155.9 376.1,157.0 375.3,158.3 C374.6,159.5 373.6,160.9 373.5,162.0 C373.3,163.1 373.3,164.5 374.4,164.8 C375.5,165.1 378.0,164.2 380.0,163.9 C382.1,163.6 384.7,162.5 386.6,163.0 C388.5,163.4 389.9,165.5 391.3,166.7 C392.7,168.0 394.0,169.2 395.1,170.5 C396.2,171.7 398.5,173.3 397.9,174.2 C397.3,175.2 393.3,175.6 391.3,176.1 C389.3,176.6 387.6,176.6 385.7,177.0 C383.8,177.5 381.8,178.0 380.0,178.9 C378.3,179.9 376.9,181.6 375.3,182.7 C373.8,183.8 372.4,184.6 370.6,185.5 C368.9,186.4 365.9,187.9 365.0,188.3" fill="none" stroke="#000" stroke-width="1.0" stroke-linejoin="round"/>
<path d="M485.3,148.9 C485.0,150.1 484.0,153.9 483.4,156.4 C482.8,158.9 482.4,161.1 481.5,163.9 C480.6,166.7 479.0,170.8 477.8,173.3 C476.5,175.8 475.2,177.2 474.0,178.9 C472.7,180.6 471.3,182.1 470.2,183.6 C469.1,185.2 468.0,186.6 467.4,188.3 C466.8,190.0 466.5,192.0 466.5,194.0 C466.5,195.9 467.3,199.0 467.4,200.0" fill="none" stroke="#000" stroke-width="1.0" stroke-linejoin="round"/>
<path d="M258.2,200.0 C259.8,200.3 264.5,201.3 267.6,201.9 C270.7,202.5 273.8,203.1 277.0,203.8 C280.1,204.4 283.2,204.7 286.4,205.6 C289.5,206.6 293.0,208.1 295.8,209.4 C298.6,210.6 301.1,212.7 303.3,213.2 C305.5,213.6 306.7,212.7 308.9,212.2 C311.1,211.7 313.9,210.6 316.4,210.3 C318.9,210.0 321.5,210.6 324.0,210.3 C326.5,210.0 329.0,209.2 331.5,208.5 C334.0,207.7 336.8,206.6 339.0,205.6 C341.2,204.7 343.1,203.8 344.6,202.8 C346.2,201.9 347.8,200.5 348.4,200.0" fill="none" stroke="#000" stroke-width="1.0" stroke-linejoin="round"/>
<path d="M222.9,160.0 C222.9,160.6 223.0,162.5 222.9,163.8 C222.7,165.0 221.4,166.3 221.9,167.5 C222.4,168.8 223.8,170.3 225.7,171.3 C227.6,172.2 231.0,172.2 233.2,173.2 C235.4,174.1 237.3,175.7 238.8,176.9 C240.4,178.2 241.5,179.7 242.6,180.7 C243.7,181.6 244.5,181.3 245.4,182.6 C246.3,183.8 247.4,186.3 248.2,188.2 C249.0,190.1 249.5,192.3 250.1,193.8 C250.7,195.4 250.7,196.8 252.0,197.6 C253.2,198.4 255.4,198.1 257.6,198.5 C259.8,199.0 262.6,199.8 265.1,200.4 C267.6,201.0 270.1,201.7 272.7,202.3 C275.2,202.9 277.7,203.4 280.2,204.2 C282.7,204.9 285.2,205.9 287.7,207.0 C290.2,208.1 293.0,209.6 295.2,210.7 C297.4,211.8 299.3,212.9 300.8,213.6 C302.4,214.2 303.0,214.5 304.6,214.5 C306.2,214.5 308.0,214.0 310.2,213.6 C312.4,213.1 315.2,212.1 317.8,211.7 C320.3,211.2 322.8,211.1 325.3,210.7 C327.8,210.4 330.6,210.3 332.8,209.8 C335.0,209.3 336.9,208.7 338.4,207.9 C340.0,207.1 341.1,205.9 342.2,205.1 C343.3,204.3 344.5,203.5 345.0,203.2" fill="none" stroke="#000" stroke-width="1.0" stroke-linejoin="round"/>
<path d="M373.8,160.0 C374.0,160.6 373.8,162.8 374.8,163.8 C375.7,164.7 377.7,165.6 379.5,165.6 C381.2,165.6 383.2,163.8 385.1,163.8 C387.0,163.8 389.2,164.7 390.7,165.6 C392.3,166.6 393.4,168.1 394.5,169.4 C395.6,170.6 397.6,172.2 397.3,173.2 C397.0,174.1 394.3,174.4 392.6,175.0 C390.9,175.7 388.5,176.3 387.0,176.9 C385.4,177.5 384.8,178.0 383.2,178.8 C381.7,179.6 379.0,180.7 377.6,181.6 C376.2,182.6 376.0,183.6 374.8,184.4 C373.5,185.2 371.8,185.7 370.1,186.3 C368.3,186.9 366.3,187.7 364.4,188.2 C362.6,188.7 360.7,188.8 358.8,189.1 C356.9,189.4 354.7,189.6 353.2,190.1 C351.6,190.5 350.3,191.2 349.4,191.9 C348.5,192.7 347.7,193.8 347.5,194.8 C347.4,195.7 348.8,196.5 348.5,197.6 C348.1,198.7 346.6,200.1 345.6,201.3 C344.7,202.6 343.8,204.2 342.8,205.1 C341.9,206.0 340.5,206.7 340.0,207.0" fill="none" stroke="#000" stroke-width="1.0" stroke-linejoin="round"/>
<path d="M267.2,376.5 C267.9,376.3 269.6,375.5 271.4,375.5 C273.1,375.5 275.5,376.5 277.6,376.5 C279.6,376.5 281.7,376.0 283.8,375.5 C285.8,375.0 288.2,374.1 290.0,373.4 C291.7,372.7 292.7,371.3 294.1,371.3 C295.5,371.3 296.9,372.6 298.2,373.4 C299.6,374.3 301.3,375.1 302.4,376.5 C303.4,377.9 303.4,380.3 304.4,381.7 C305.5,383.1 307.2,383.9 308.6,384.8 C310.0,385.6 311.3,386.5 312.7,386.9 C314.1,387.2 316.2,386.9 316.9,386.9" fill="none" stroke="#000" stroke-width="1.0" stroke-linejoin="round"/>
<path d="M266.2,377.5 C266.4,378.4 266.4,381.2 267.2,382.7 C268.1,384.3 270.0,385.5 271.4,386.9 C272.7,388.2 274.1,389.6 275.5,391.0 C276.9,392.4 278.3,393.9 279.6,395.1 C281.0,396.3 282.4,397.2 283.8,398.2 C285.1,399.3 286.5,400.3 287.9,401.3 C289.3,402.4 291.3,403.9 292.0,404.4" fill="none" stroke="#000" stroke-width="1.0" stroke-linejoin="round"/>
<path d="M164.4,369.2 C164.4,367.0 164.2,360.0 164.4,356.0 C164.6,352.0 165.5,348.7 165.5,345.0 C165.5,341.3 164.0,336.6 164.4,334.0 C164.8,331.4 166.4,329.8 167.7,329.2 C169.0,328.6 170.8,329.9 172.1,330.7 C173.4,331.5 174.1,332.7 175.4,334.0 C176.7,335.3 178.2,337.1 179.8,338.4 C181.5,339.7 183.1,341.0 185.3,341.7 C187.5,342.4 191.3,342.2 193.0,342.8 C194.7,343.4 196.0,343.9 195.6,345.0 C195.2,346.1 192.3,347.9 190.8,349.4 C189.3,350.9 186.8,352.0 186.4,353.8 C186.0,355.6 187.5,358.6 188.6,360.4 C189.7,362.2 192.1,363.0 193.0,364.8 C193.9,366.6 193.9,370.3 194.1,371.4" fill="none" stroke="#000" stroke-width="1.0" stroke-linejoin="round"/>
<path d="M195.6,345.0 C196.4,346.5 199.1,352.0 200.7,353.8 C202.3,355.6 203.6,356.4 205.1,356.0 C206.6,355.6 207.8,353.8 209.5,351.6 C211.2,349.4 212.6,345.6 215.0,342.8 C217.4,340.1 220.9,337.3 223.8,335.1 C226.7,332.9 230.2,331.6 232.6,329.6 C235.0,327.6 236.4,323.6 238.1,323.0 C239.8,322.4 241.4,324.5 242.5,326.3 C243.6,328.1 244.5,330.9 244.7,334.0 C244.9,337.1 244.5,342.1 243.6,345.0 C242.7,347.9 240.5,349.4 239.2,351.6 C237.9,353.8 235.5,357.1 235.9,358.2 C236.3,359.3 239.8,357.5 241.4,358.2 C243.1,358.9 244.9,360.0 245.8,362.6 C246.7,365.2 246.2,370.7 246.9,373.6 C247.6,376.5 248.9,378.4 250.2,380.2 C251.5,382.0 253.1,384.2 254.6,384.6 C256.1,385.0 257.5,383.5 259.0,382.4 C260.5,381.3 262.2,378.8 263.4,378.0 C264.6,377.2 265.7,377.6 266.2,377.5" fill="none" stroke="#000" stroke-width="1.0" stroke-linejoin="round"/>
<path d="M223.8,307.6 C224.9,308.2 228.9,309.4 230.4,310.9 C231.9,312.4 232.6,314.9 232.6,316.4 C232.6,317.9 230.0,318.8 230.4,319.7 C230.8,320.6 233.5,321.3 234.8,321.9 C236.1,322.4 237.6,322.8 238.1,323.0" fill="none" stroke="#000" stroke-width="1.0" stroke-linejoin="round"/>
<path d="M252.4,391.2 C253.5,390.5 256.8,387.2 259.0,386.8 C261.2,386.4 263.0,387.9 265.6,389.0 C268.2,390.1 271.5,393.0 274.4,393.4 C277.3,393.8 280.6,391.9 283.2,391.2 C285.8,390.5 288.9,389.4 290.0,389.0" fill="none" stroke="#000" stroke-width="1.0" stroke-linejoin="round"/>
<path d="M173.2,316.4 C173.9,316.0 175.4,314.4 177.6,313.8 C179.8,313.2 183.8,312.9 186.4,313.1 C189.0,313.4 191.3,314.0 193.0,315.3 C194.7,316.6 195.9,318.8 196.3,320.8 C196.7,322.8 196.8,326.1 195.2,327.4 C193.5,328.7 189.3,328.5 186.4,328.5 C183.5,328.5 179.8,328.3 177.6,327.4 C175.4,326.5 173.9,324.8 173.2,323.0 C172.5,321.2 173.2,317.5 173.2,316.4" fill="none" stroke="#000" stroke-width="1.0" stroke-linejoin="round"/>
<path d="M160.0,312.0 C161.1,311.8 164.4,310.2 166.6,310.9 C168.8,311.6 172.1,315.5 173.2,316.4" fill="none" stroke="#000" stroke-width="1.0" stroke-linejoin="round"/>
<path d="M196.3,320.8 C197.6,320.2 200.9,318.8 204.0,317.5 C207.1,316.2 212.1,314.2 215.0,313.1 C217.9,312.0 219.9,311.4 221.6,310.9 C223.2,310.3 224.3,310.0 224.9,309.8" fill="none" stroke="#000" stroke-width="1.0" stroke-linejoin="round"/>
<path d="M160.0,320.8 C160.9,321.2 164.2,321.6 165.5,323.0 C166.8,324.4 167.3,328.2 167.7,329.2" fill="none" stroke="#000" stroke-width="1.0" stroke-linejoin="round"/>
<path d="M230.0,316.5 C231.0,316.8 234.7,316.9 236.0,318.0 C237.3,319.1 237.8,322.2 238.1,323.0" fill="none" stroke="#000" stroke-width="1.0" stroke-linejoin="round"/>
<path d="M96.3,190.5 C96.6,191.6 98.1,194.9 98.3,197.1 C98.5,199.3 97.5,201.7 97.6,203.7 C97.7,205.7 98.5,207.4 98.9,208.9 C99.4,210.4 100.0,211.4 100.3,212.9 C100.6,214.4 100.5,216.7 100.9,218.2 C101.3,219.7 101.9,221.0 102.9,222.1 C103.9,223.2 105.3,224.1 106.8,224.7 C108.3,225.2 110.5,225.2 112.1,225.4 C113.6,225.6 114.6,226.1 116.1,226.1 C117.6,226.1 119.8,225.0 121.3,225.4 C122.8,225.8 124.3,227.5 125.3,228.7 C126.3,229.9 127.1,231.5 127.2,232.6 C127.3,233.7 126.7,234.6 125.9,235.3 C125.1,236.0 123.6,236.2 122.6,236.6 C121.6,237.0 121.0,237.5 120.0,237.9 C119.0,238.3 117.6,238.8 116.7,239.2 C115.8,239.6 115.1,239.8 114.7,240.5 C114.3,241.2 114.3,242.3 114.1,243.2 C113.9,244.1 113.6,244.8 113.4,245.8 C113.2,246.8 113.2,248.1 112.9,249.0 C112.7,249.9 111.8,251.2 111.9,251.5 C112.1,251.8 114.1,250.2 113.8,250.7 C113.5,251.2 111.1,253.5 110.0,254.4 C108.9,255.3 107.8,255.4 107.2,256.3 C106.6,257.2 106.1,258.7 106.3,260.1 C106.5,261.5 107.6,263.2 108.2,264.8 C108.8,266.4 109.2,267.9 110.0,269.5 C110.8,271.1 112.0,272.9 112.9,274.2 C113.9,275.4 114.6,276.1 115.7,277.0 C116.8,277.9 118.2,279.2 119.4,279.8 C120.7,280.4 121.8,279.6 123.2,280.4 C124.6,281.2 126.3,282.9 127.9,284.5 C129.5,286.1 131.2,288.5 132.6,290.1 C134.0,291.7 135.1,293.1 136.3,293.9 C137.6,294.7 138.8,294.2 140.1,294.8 C141.4,295.4 142.7,296.5 143.9,297.6 C145.2,298.7 146.3,300.1 147.6,301.4 C148.8,302.7 149.8,303.9 151.4,305.2 C153.0,306.4 155.1,308.0 157.0,308.9 C158.9,309.8 160.9,310.2 162.6,310.8 C164.3,311.4 165.8,312.1 167.3,312.7 C168.9,313.2 171.1,313.9 171.9,314.1" fill="none" stroke="#000" stroke-width="1.0" stroke-linejoin="round"/>
<path d="M96.3,230.0 C97.4,229.8 100.3,229.3 102.9,228.7 C105.5,228.0 110.7,225.4 112.1,226.1 C113.5,226.8 111.4,230.6 111.4,232.6 C111.4,234.6 111.5,236.6 112.1,237.9 C112.6,239.2 114.3,240.1 114.7,240.5" fill="none" stroke="#000" stroke-width="1.0" stroke-linejoin="round"/>
<path d="M112.9,237.5 C114.0,237.2 117.4,236.2 119.4,235.6 C121.4,235.0 123.8,234.3 125.1,233.8 C126.4,233.3 126.8,232.8 127.2,232.6" fill="none" stroke="#000" stroke-width="1.0" stroke-linejoin="round"/>
<path d="M108.2,288.2 L119.4,279.8" fill="none" stroke="#000" stroke-width="1.0" stroke-linejoin="round"/>
<path d="M108.2,288.2 C109.1,289.1 111.6,292.0 113.8,293.9 C116.0,295.8 118.8,297.6 121.3,299.5 C123.8,301.4 126.6,303.6 128.8,305.2 C131.0,306.8 132.6,307.6 134.5,308.9 C136.4,310.1 138.2,311.6 140.1,312.7 C142.0,313.8 143.8,314.6 145.7,315.5 C147.6,316.4 149.5,317.4 151.4,318.3 C153.3,319.2 155.1,320.3 157.0,321.1 C158.9,321.9 160.9,322.5 162.6,323.0 C164.3,323.5 166.5,323.8 167.3,324.0" fill="none" stroke="#000" stroke-width="1.0" stroke-linejoin="round"/>
<path d="M445.7,249.3 C446.0,249.0 446.8,247.9 447.5,247.3 C448.2,246.7 448.7,246.3 449.8,245.7 C450.9,245.1 452.7,244.1 453.9,243.6 C455.1,243.1 456.0,242.9 457.0,242.6 C458.0,242.3 459.3,242.1 460.1,242.0 C460.9,241.9 461.7,242.2 462.0,242.3" fill="none" stroke="#000" stroke-width="1.0" stroke-linejoin="round"/>
<path d="M172.0,103.8 C173.0,104.4 175.8,106.3 177.7,107.5 C179.6,108.8 181.8,110.0 183.3,111.3 C184.9,112.5 186.1,113.8 187.1,115.0 C188.0,116.3 188.6,118.2 189.0,118.8" fill="none" stroke="#1a66ff" stroke-width="1.4" stroke-linejoin="round" stroke-linecap="round"/>
<path d="M210.0,103.8 C209.8,105.0 208.9,109.2 208.7,111.3 C208.5,113.3 209.2,114.9 208.7,116.0 C208.2,117.1 206.8,117.4 205.9,117.9 C204.9,118.3 203.5,118.0 203.1,118.8 C202.6,119.6 202.6,121.6 203.1,122.6 C203.5,123.5 204.8,124.3 205.9,124.4 C207.0,124.6 209.0,123.6 209.6,123.5" fill="none" stroke="#1a66ff" stroke-width="1.4" stroke-linejoin="round" stroke-linecap="round"/>
<path d="M189.0,136.6 C189.9,136.6 193.0,136.2 194.6,136.6 C196.2,137.1 196.9,138.5 198.4,139.5 C199.8,140.4 201.5,141.2 203.1,142.3 C204.6,143.4 206.2,144.8 207.8,146.0 C209.3,147.3 211.2,149.0 212.4,149.8 C213.7,150.6 215.0,151.5 215.3,150.7 C215.6,150.0 214.5,146.0 214.3,145.1" fill="none" stroke="#1a66ff" stroke-width="1.4" stroke-linejoin="round" stroke-linecap="round"/>
<path d="M242.2,103.8 C242.5,104.5 243.9,107.0 244.1,108.5 C244.3,109.9 243.0,111.0 243.2,112.2 C243.3,113.5 244.1,114.9 245.0,116.0 C246.0,117.1 247.2,118.5 248.8,118.8 C250.4,119.1 253.2,118.6 254.4,117.9 C255.7,117.1 255.2,114.9 256.3,114.1 C257.4,113.2 259.4,112.9 261.0,112.8 C262.6,112.6 264.5,112.6 265.7,113.2 C267.0,113.7 267.3,115.2 268.5,116.0 C269.8,116.8 271.3,117.4 273.2,117.9 C275.1,118.3 278.7,118.3 279.8,118.4" fill="none" stroke="#1a66ff" stroke-width="1.4" stroke-linejoin="round" stroke-linecap="round"/>
<path d="M316.8,103.8 C317.1,104.2 317.4,105.6 318.3,106.6 C319.2,107.5 320.8,108.8 322.1,109.4 C323.3,110.0 324.4,110.5 325.8,110.3 C327.2,110.2 329.1,108.9 330.5,108.5 C331.9,108.0 333.7,107.7 334.3,107.5" fill="none" stroke="#1a66ff" stroke-width="1.4" stroke-linejoin="round" stroke-linecap="round"/>
<path d="M385.7,151.7 C386.3,151.1 388.2,149.2 389.4,147.9 C390.7,146.7 392.2,145.9 393.2,144.2 C394.1,142.4 394.4,139.9 395.1,137.6 C395.7,135.2 396.3,132.1 396.9,130.1 C397.6,128.0 399.0,126.6 398.8,125.4 C398.7,124.1 396.3,123.8 396.0,122.6 C395.7,121.3 396.2,118.9 396.9,117.9 C397.7,116.8 399.1,116.6 400.7,116.0 C402.3,115.3 404.1,114.6 406.3,114.1 C408.5,113.6 411.7,113.2 413.9,113.2 C416.1,113.2 417.6,113.8 419.5,114.1 C421.4,114.4 423.6,114.3 425.1,115.0 C426.7,115.8 427.8,117.2 428.9,118.8 C430.0,120.4 430.8,122.6 431.7,124.4 C432.7,126.3 433.6,128.0 434.5,130.1 C435.5,132.1 436.4,134.5 437.3,136.6 C438.3,138.8 439.1,142.0 440.2,143.2 C441.3,144.5 442.4,144.0 443.9,144.2 C445.5,144.3 448.0,143.7 449.6,144.2 C451.1,144.6 452.1,146.0 453.3,147.0 C454.6,147.9 456.1,148.9 457.1,149.8 C458.0,150.7 458.3,151.5 459.0,152.6 C459.6,153.7 460.2,155.3 460.8,156.4 C461.5,157.5 461.3,158.9 462.7,159.2 C464.1,159.5 467.4,159.0 469.3,158.3 C471.2,157.5 472.6,155.6 474.0,154.5 C475.4,153.4 476.2,152.6 477.8,151.7 C479.3,150.7 481.8,150.0 483.4,148.9 C485.0,147.8 486.2,146.5 487.1,145.1 C488.1,143.7 488.4,142.0 489.0,140.4 C489.7,138.8 490.4,137.1 490.9,135.7 C491.4,134.3 491.5,133.2 491.8,131.9 C492.2,130.7 492.0,129.4 492.8,128.2 C493.6,126.9 495.6,125.7 496.5,124.4 C497.5,123.2 497.5,122.2 498.4,120.7 C499.4,119.1 501.1,116.6 502.2,115.0 C503.3,113.5 504.5,111.9 505.0,111.3" fill="none" stroke="#1a66ff" stroke-width="1.4" stroke-linejoin="round" stroke-linecap="round"/>
<path d="M387.6,151.7 C389.4,151.8 395.4,153.1 398.8,152.6 C402.3,152.1 406.7,149.2 408.2,148.5" fill="none" stroke="#1a66ff" stroke-width="1.4" stroke-linejoin="round" stroke-linecap="round"/>
<path d="M469.3,158.3 C468.5,158.9 466.0,160.9 464.6,162.0 C463.2,163.1 461.8,164.0 460.8,164.8 C459.9,165.6 459.3,166.4 459.0,166.7" fill="none" stroke="#1a66ff" stroke-width="1.4" stroke-linejoin="round" stroke-linecap="round"/>
<path d="M96.9,228.2 C97.3,229.1 98.8,231.9 99.7,233.8 C100.6,235.7 101.4,237.6 102.5,239.5 C103.6,241.3 105.0,243.4 106.3,245.1 C107.5,246.8 108.9,248.2 110.0,249.8 C111.1,251.4 111.9,253.1 112.9,254.5 C113.8,255.9 114.4,257.3 115.7,258.3 C116.9,259.2 119.0,259.5 120.4,260.1 C121.8,260.8 123.2,261.1 124.1,262.0 C125.1,263.0 125.9,264.4 126.0,265.8 C126.2,267.2 125.2,269.7 125.1,270.5" fill="none" stroke="#1a66ff" stroke-width="1.4" stroke-linejoin="round" stroke-linecap="round"/>
<path d="M96.9,277.0 C97.8,276.9 100.3,276.4 102.5,276.1 C104.7,275.8 108.8,275.3 110.0,275.2" fill="none" stroke="#1a66ff" stroke-width="1.4" stroke-linejoin="round" stroke-linecap="round"/>
<path d="M133.5,282.7 C133.8,283.3 134.5,285.2 135.4,286.4 C136.3,287.7 137.9,288.9 139.2,290.2 C140.4,291.5 141.5,292.7 142.9,294.0 C144.3,295.2 146.2,296.7 147.6,297.7 C149.0,298.7 150.7,299.6 151.4,300.0" fill="none" stroke="#1a66ff" stroke-width="1.4" stroke-linejoin="round" stroke-linecap="round"/>
<path d="M205.9,265.8 C206.8,266.1 209.3,267.5 211.5,267.7 C213.7,267.8 216.8,267.0 219.0,266.7 C221.2,266.4 222.8,265.6 224.7,265.8 C226.5,265.9 228.6,266.9 230.3,267.7 C232.0,268.4 234.2,270.0 235.0,270.5" fill="none" stroke="#1a66ff" stroke-width="1.4" stroke-linejoin="round" stroke-linecap="round"/>
<path d="M200.2,278.9 C200.2,279.9 199.9,282.7 200.2,284.6 C200.5,286.4 200.9,288.9 202.1,290.2 C203.4,291.5 205.6,291.5 207.8,292.1 C209.9,292.7 212.8,293.3 215.3,294.0 C217.8,294.6 220.3,295.1 222.8,295.8 C225.3,296.6 228.3,298.0 230.3,298.7 C232.3,299.3 234.2,299.8 235.0,300.0" fill="none" stroke="#1a66ff" stroke-width="1.4" stroke-linejoin="round" stroke-linecap="round"/>
<path d="M220.0,278.0 C221.1,278.5 224.5,279.9 226.5,280.8 C228.6,281.7 230.8,282.8 232.2,283.6 C233.6,284.4 234.5,285.2 235.0,285.5" fill="none" stroke="#1a66ff" stroke-width="1.4" stroke-linejoin="round" stroke-linecap="round"/>
<path d="M279.8,284.6 C279.3,284.3 278.1,283.6 277.0,282.7 C275.9,281.7 274.5,280.2 273.2,278.9 C272.0,277.7 270.4,276.4 269.5,275.2 C268.5,273.9 268.1,273.0 267.6,271.4 C267.1,269.8 266.3,267.3 266.6,265.8 C267.0,264.2 268.1,262.8 269.5,262.0 C270.9,261.2 273.2,261.1 275.1,261.1 C277.0,261.1 278.9,261.4 280.7,262.0 C282.6,262.6 284.5,264.7 286.4,264.8 C288.3,265.0 290.4,263.7 292.0,263.0 C293.6,262.2 294.7,261.2 295.8,260.1 C296.9,259.0 298.3,257.5 298.6,256.4 C298.9,255.3 297.2,254.3 297.7,253.6 C298.1,252.8 299.8,252.1 301.4,251.7 C303.0,251.2 305.5,251.4 307.0,250.7 C308.6,250.1 309.7,249.2 310.8,247.9 C311.9,246.7 312.8,244.9 313.6,243.2 C314.4,241.5 315.2,239.5 315.5,237.6 C315.8,235.7 315.0,233.7 315.5,231.9 C316.0,230.2 317.1,228.3 318.3,227.2 C319.6,226.2 321.5,225.5 323.0,225.4 C324.6,225.2 326.2,225.8 327.7,226.3 C329.3,226.8 330.5,227.6 332.4,228.2 C334.3,228.8 337.1,229.3 339.0,230.1 C340.9,230.9 342.8,231.6 343.7,232.9 C344.6,234.1 344.9,235.9 344.6,237.6 C344.3,239.3 342.8,241.3 341.8,243.2 C340.9,245.1 339.6,247.0 339.0,248.9 C338.4,250.7 338.2,252.3 338.1,254.5 C337.9,256.7 338.1,259.5 338.1,262.0 C338.1,264.5 338.4,267.0 338.1,269.5 C337.7,272.0 335.7,275.8 336.2,277.0 C336.6,278.3 339.1,277.4 340.9,277.0 C342.6,276.7 344.3,275.3 346.5,275.2 C348.7,275.0 351.5,275.8 354.0,276.1 C356.5,276.4 358.9,277.4 361.5,277.0 C364.2,276.7 368.6,274.7 370.0,274.2" fill="none" stroke="#1a66ff" stroke-width="1.4" stroke-linejoin="round" stroke-linecap="round"/>
<path d="M243.2,265.8 C244.4,266.1 248.8,266.6 250.7,267.7 C252.6,268.7 252.9,270.8 254.4,272.3 C256.0,273.9 257.9,275.8 260.1,277.0 C262.3,278.3 265.1,279.1 267.6,279.9 C270.1,280.6 273.1,281.1 275.1,281.7 C277.1,282.4 279.0,283.3 279.8,283.6" fill="none" stroke="#1a66ff" stroke-width="1.4" stroke-linejoin="round" stroke-linecap="round"/>
<path d="M230.0,267.7 C230.6,268.3 232.5,269.5 233.8,271.4 C235.0,273.3 236.3,276.7 237.5,278.9 C238.8,281.1 240.0,282.7 241.3,284.6 C242.5,286.4 243.8,288.3 245.0,290.2 C246.3,292.1 247.7,294.2 248.8,295.8 C249.9,297.5 251.1,299.3 251.6,300.0" fill="none" stroke="#1a66ff" stroke-width="1.4" stroke-linejoin="round" stroke-linecap="round"/>
<path d="M230.0,282.7 C230.6,283.6 232.5,286.4 233.8,288.3 C235.0,290.2 236.6,292.0 237.5,294.0 C238.5,295.9 239.1,299.0 239.4,300.0" fill="none" stroke="#1a66ff" stroke-width="1.4" stroke-linejoin="round" stroke-linecap="round"/>
<path d="M297.1,254.0 C298.0,253.6 300.5,252.6 302.7,252.1 C304.9,251.6 308.4,251.8 310.2,251.1 C312.1,250.5 313.2,249.7 314.0,248.3 C314.8,246.9 314.9,244.9 314.9,242.7 C314.9,240.5 313.8,237.4 314.0,235.2 C314.1,233.0 314.6,231.1 315.9,229.5 C317.1,228.0 319.6,226.2 321.5,225.8 C323.4,225.3 325.3,226.2 327.1,226.7 C329.0,227.2 330.6,227.8 332.8,228.6 C335.0,229.4 338.4,230.3 340.3,231.4 C342.2,232.5 343.3,233.9 344.1,235.2 C344.8,236.4 344.8,238.3 345.0,238.9" fill="none" stroke="#1a66ff" stroke-width="1.4" stroke-linejoin="round" stroke-linecap="round"/>
<path d="M101.2,300.0 C101.9,301.4 104.0,305.9 105.3,308.3 C106.7,310.7 107.8,312.1 109.5,314.5 C111.2,316.9 113.6,320.7 115.7,322.7 C117.7,324.8 119.8,326.2 121.9,326.9 C124.0,327.6 125.7,326.5 128.1,326.9 C130.5,327.2 133.6,328.1 136.4,329.0 C139.1,329.8 142.2,331.2 144.6,332.1 C147.0,332.9 148.8,333.4 150.8,334.1 C152.9,334.8 155.3,335.2 157.0,336.2 C158.8,337.2 160.0,338.9 161.2,340.3 C162.4,341.7 163.1,342.9 164.3,344.5 C165.5,346.0 167.7,348.8 168.4,349.6" fill="none" stroke="#1a66ff" stroke-width="1.4" stroke-linejoin="round" stroke-linecap="round"/>
<path d="M252.7,331.0 C253.4,331.9 255.8,336.0 256.9,336.2 C257.9,336.4 258.4,331.2 259.0,332.1 C259.5,332.9 259.6,339.3 260.0,341.4 C260.3,343.4 260.0,344.1 261.0,344.5 C262.1,344.8 264.8,343.8 266.2,343.4 C267.6,343.1 268.6,342.0 269.3,342.4 C270.0,342.7 269.5,344.8 270.3,345.5 C271.2,346.2 273.1,346.7 274.5,346.5 C275.8,346.4 277.7,345.8 278.6,344.5 C279.5,343.1 278.8,340.2 279.6,338.3 C280.5,336.4 282.4,334.8 283.8,333.1 C285.1,331.4 286.5,329.1 287.9,327.9 C289.3,326.7 290.3,326.5 292.0,325.8 C293.8,325.2 296.2,324.6 298.2,323.8 C300.3,322.9 302.4,321.5 304.4,320.7 C306.5,319.8 308.6,319.5 310.6,318.6 C312.7,317.7 314.8,316.9 316.9,315.5 C318.9,314.1 321.0,311.5 323.1,310.3 C325.1,309.1 327.2,308.4 329.3,308.3 C331.3,308.1 333.4,308.6 335.5,309.3 C337.5,310.0 339.9,311.2 341.7,312.4 C343.4,313.6 344.1,315.2 345.8,316.5 C347.5,317.9 350.3,320.0 352.0,320.7 C353.7,321.4 354.8,321.4 356.1,320.7 C357.5,320.0 358.9,317.7 360.3,316.5 C361.7,315.3 362.8,313.8 364.4,313.4 C366.0,313.1 369.1,314.3 370.0,314.5" fill="none" stroke="#1a66ff" stroke-width="1.4" stroke-linejoin="round" stroke-linecap="round"/>
<path d="M283.8,351.7 C283.6,352.4 283.4,355.0 282.7,355.8 C282.0,356.7 280.5,356.2 279.6,356.9 C278.8,357.6 277.7,358.4 277.6,360.0 C277.4,361.5 277.9,365.8 278.6,366.2 C279.3,366.5 280.1,363.1 281.7,362.0 C283.2,361.0 285.8,360.5 287.9,360.0 C290.0,359.5 292.0,359.3 294.1,358.9 C296.2,358.6 298.2,358.2 300.3,357.9 C302.4,357.6 304.8,356.2 306.5,356.9 C308.2,357.6 309.6,360.5 310.6,362.0 C311.7,363.6 311.3,365.1 312.7,366.2 C314.1,367.2 316.9,367.6 318.9,368.2 C321.0,368.9 323.1,369.8 325.1,370.3 C327.2,370.8 329.3,370.8 331.3,371.3 C333.4,371.9 335.5,372.7 337.5,373.4 C339.6,374.1 341.7,375.0 343.7,375.5 C345.8,376.0 348.2,375.7 349.9,376.5 C351.7,377.4 353.4,380.0 354.1,380.6" fill="none" stroke="#1a66ff" stroke-width="1.4" stroke-linejoin="round" stroke-linecap="round"/>
<path d="M365.0,312.3 C365.7,313.0 367.9,315.5 369.3,316.6 C370.8,317.7 372.2,318.0 373.6,318.8 C375.1,319.5 377.1,319.7 378.0,320.9 C378.9,322.2 378.5,325.2 379.0,326.3 C379.6,327.4 381.4,328.1 381.2,327.4 C381.0,326.7 377.8,323.4 378.0,322.0 C378.1,320.6 380.8,319.8 382.3,318.8 C383.7,317.7 385.5,317.0 386.6,315.5 C387.7,314.1 387.9,311.6 388.8,310.1 C389.7,308.7 390.9,308.1 392.0,306.9 C393.1,305.6 394.5,303.8 395.2,302.6 C396.0,301.3 395.1,299.9 396.3,299.3 C397.6,298.7 401.7,299.0 402.8,298.9" fill="none" stroke="#1a66ff" stroke-width="1.4" stroke-linejoin="round" stroke-linecap="round"/>
<path d="M365.0,277.0 C365.9,276.1 368.7,272.9 370.6,271.4 C372.5,269.8 374.4,268.9 376.3,267.7 C378.2,266.4 380.0,265.5 381.9,263.9 C383.8,262.3 386.0,259.9 387.6,258.3 C389.2,256.7 390.2,255.9 391.3,254.5 C392.4,253.1 393.6,250.6 394.1,249.8" fill="none" stroke="#1a66ff" stroke-width="1.4" stroke-linejoin="round" stroke-linecap="round"/>
<path d="M235.0,300.0 C235.8,300.8 238.5,303.2 240.0,305.0 C241.5,306.8 242.8,309.2 244.0,311.0 C245.2,312.8 246.2,314.5 247.0,316.0 C247.8,317.5 248.2,319.3 248.5,320.0" fill="none" stroke="#1a66ff" stroke-width="1.4" stroke-linejoin="round" stroke-linecap="round"/>
<path d="M151.4,300.0 C152.1,300.1 154.1,300.4 155.5,300.6 C156.9,300.8 157.4,300.6 160.0,301.0 C162.6,301.4 167.3,302.5 171.0,303.2 C174.7,303.9 178.3,304.7 182.0,305.4 C185.7,306.1 189.3,306.6 193.0,307.2 C196.7,307.8 200.3,308.3 204.0,308.7 C207.7,309.1 212.1,309.4 215.0,309.4 C217.9,309.4 219.9,308.6 221.6,308.7 C223.2,308.8 224.5,309.1 224.9,309.8 C225.3,310.5 224.4,311.8 223.8,313.1 C223.2,314.4 221.6,315.9 221.2,317.5 C220.8,319.1 221.9,321.4 221.6,323.0 C221.3,324.6 220.9,326.3 219.4,327.4 C217.9,328.5 215.4,328.9 212.8,329.6 C210.2,330.3 207.3,331.0 204.0,331.4 C200.7,331.8 196.3,331.9 193.0,332.2 C189.7,332.5 186.8,333.0 184.2,333.3 C181.6,333.6 179.0,333.3 177.6,334.0 C176.2,334.7 176.2,335.8 175.8,337.3 C175.4,338.8 175.2,340.8 175.0,342.8 C174.8,344.8 174.4,348.3 174.3,349.4" fill="none" stroke="#1a66ff" stroke-width="1.4" stroke-linejoin="round" stroke-linecap="round"/>
<path d="M234.8,290.0 C235.5,291.1 237.7,294.4 239.2,296.6 C240.7,298.8 242.3,300.6 243.6,303.2 C244.9,305.8 246.2,309.1 246.9,312.0 C247.6,314.9 248.2,317.9 248.0,320.8 C247.8,323.7 246.4,326.7 245.8,329.6 C245.2,332.5 245.1,335.8 244.7,338.4 C244.3,341.0 244.0,342.4 243.6,345.0 C243.2,347.6 242.9,350.9 242.5,353.8 C242.1,356.7 241.8,360.0 241.4,362.6 C241.0,365.2 240.7,366.6 240.3,369.2 C239.9,371.8 239.8,375.1 239.2,378.0 C238.6,380.9 238.1,383.9 237.0,386.8 C235.9,389.7 234.1,392.3 232.6,395.6 C231.1,398.9 228.9,404.8 228.2,406.6" fill="none" stroke="#1a66ff" stroke-width="1.4" stroke-linejoin="round" stroke-linecap="round"/>
<path d="M249.1,290.0 C249.5,291.5 251.1,295.9 251.3,298.8 C251.5,301.7 250.6,304.7 250.2,307.6 C249.8,310.5 249.3,313.5 249.1,316.4 C248.9,319.3 249.3,322.3 249.1,325.2 C248.9,328.1 248.2,331.1 248.0,334.0 C247.8,336.9 247.6,339.9 248.0,342.8 C248.4,345.7 249.5,348.7 250.2,351.6 C250.9,354.5 251.8,357.5 252.4,360.4 C253.0,363.3 252.9,366.3 253.5,369.2 C254.1,372.1 255.0,375.4 255.7,378.0 C256.4,380.6 258.1,382.4 257.9,384.6 C257.7,386.8 254.8,389.0 254.6,391.2 C254.4,393.4 255.7,396.3 256.8,397.8 C257.9,399.3 259.4,400.0 261.2,400.0 C263.0,400.0 266.7,398.2 267.8,397.8" fill="none" stroke="#1a66ff" stroke-width="1.4" stroke-linejoin="round" stroke-linecap="round"/>
<path d="M232.6,345.0 C231.9,346.1 229.7,349.4 228.2,351.6 C226.7,353.8 225.3,356.0 223.8,358.2 C222.3,360.4 220.9,362.2 219.4,364.8 C217.9,367.4 216.3,370.7 215.0,373.6 C213.7,376.5 212.6,379.5 211.7,382.4 C210.8,385.3 210.1,388.3 209.5,391.2 C208.9,394.1 208.6,397.4 208.4,400.0 C208.2,402.6 208.4,405.5 208.4,406.6" fill="none" stroke="#1a66ff" stroke-width="1.4" stroke-linejoin="round" stroke-linecap="round"/>
<path d="M278.8,362.6 C279.0,361.5 279.2,357.5 279.9,356.0 C280.6,354.5 281.5,353.4 283.2,353.8 C284.9,354.2 288.9,357.5 290.0,358.2" fill="none" stroke="#1a66ff" stroke-width="1.4" stroke-linejoin="round" stroke-linecap="round"/>
<path d="M502.6,103.3 C503.1,103.7 504.9,104.6 505.4,105.6 C505.9,106.6 505.5,108.3 505.8,109.4 C506.1,110.5 506.8,111.6 507.3,112.2 C507.9,112.8 509.4,112.9 509.1,113.2 C508.8,113.5 506.6,113.5 505.4,114.1 C504.1,114.7 502.7,115.8 501.6,116.9 C500.5,118.0 499.7,119.5 498.8,120.7 C497.9,122.0 497.1,123.3 496.0,124.4 C494.9,125.5 493.0,126.5 492.2,127.3 C491.4,128.1 491.0,128.8 491.3,129.1 C491.6,129.4 494.0,128.8 494.1,129.1 C494.2,129.4 492.8,130.2 492.2,131.0 C491.6,131.8 490.8,133.0 490.3,133.8 C489.8,134.6 489.2,135.2 489.4,135.7 C489.6,136.2 491.1,136.1 491.3,136.7 C491.5,137.3 490.6,138.6 490.3,139.5 C490.0,140.4 490.0,141.4 489.4,142.3 C488.8,143.2 487.5,144.2 486.6,145.1 C485.7,146.0 484.6,147.1 483.8,147.9 C483.0,148.7 482.2,149.7 481.9,150.0" fill="none" stroke="#1a66ff" stroke-width="1.4" stroke-linejoin="round" stroke-linecap="round"/>
<path d="M426.3,232.8 C426.8,232.2 428.2,230.8 429.5,229.4 C430.8,228.0 432.7,225.9 434.3,224.6 C435.9,223.3 437.9,222.5 439.0,221.4 C440.1,220.3 440.3,219.3 441.1,218.2 C441.9,217.1 443.0,215.7 443.9,214.8 C444.8,213.9 445.7,213.1 446.7,212.6 C447.7,212.1 449.0,212.0 450.1,212.0 C451.2,212.0 452.4,212.8 453.5,212.6 C454.6,212.4 455.8,211.5 456.9,210.9 C458.0,210.3 459.4,209.9 460.3,209.2 C461.2,208.5 461.6,207.7 462.5,206.9 C463.4,206.2 464.9,205.4 465.9,204.7 C466.8,203.9 467.5,202.8 468.2,202.4 C468.9,202.0 469.8,202.1 470.1,202.0" fill="none" stroke="#000" stroke-width="1.3" stroke-linejoin="round"/>
<path d="M336.4,102.0 C336.2,102.4 333.5,109.0 333.1,109.6 C332.7,110.2 328.6,114.1 328.1,114.6 C327.6,115.1 323.6,119.1 323.1,119.6 C322.6,120.1 318.6,123.4 318.1,123.8 C317.6,124.2 313.7,126.8 313.1,127.1 C312.5,127.3 306.9,128.6 306.5,128.8 C306.1,129.0 305.4,130.4 305.5,130.5 C305.6,130.6 307.9,131.5 308.2,131.5 C308.5,131.5 311.1,131.4 311.5,131.3 C311.9,131.2 315.9,129.1 316.5,128.8 C317.1,128.5 322.4,125.0 323.1,124.6 C323.8,124.2 329.2,121.7 329.8,121.3 C330.4,120.9 334.2,116.9 334.7,116.3 C335.2,115.7 339.4,110.3 339.7,109.6 C340.0,108.9 340.6,102.4 340.6,102.0" fill="none" stroke="#000" stroke-width="1.3" stroke-linejoin="round"/>
<path d="M117.6,129.6 C117.7,129.4 119.0,125.7 119.3,125.4 C119.6,125.1 123.8,123.9 124.3,123.8 C124.8,123.7 129.6,123.2 130.1,123.3 C130.6,123.4 134.6,126.0 135.1,126.3 C135.6,126.6 140.4,129.3 140.9,129.6 C141.4,129.9 145.4,132.7 145.9,132.9 C146.4,133.1 150.4,133.7 150.9,133.8 C151.4,133.9 155.7,134.2 155.8,134.3 C155.9,134.4 153.6,135.3 153.3,135.4 C153.0,135.5 149.7,135.5 149.2,135.4 C148.7,135.3 144.7,133.2 144.2,132.9 C143.7,132.6 139.7,129.9 139.2,129.6 C138.7,129.3 134.7,127.7 134.2,127.6 C133.7,127.5 129.7,127.9 129.2,127.9 C128.7,127.9 124.8,127.0 124.3,127.1 C123.8,127.2 120.3,129.1 120.1,129.6 C119.8,130.1 119.4,136.2 119.3,136.2 C119.2,136.2 117.7,129.9 117.6,129.6" fill="none" stroke="#000" stroke-width="1.3" stroke-linejoin="round"/>
<path d="M565.5,162.5 C565.6,162.2 568.1,157.4 568.4,156.8 C568.7,156.2 571.0,151.5 571.2,151.2 C571.4,150.8 573.3,149.7 573.3,149.8 C573.3,149.9 572.1,152.9 571.9,153.3 C571.7,153.7 569.4,157.7 569.1,158.2 C568.8,158.7 566.5,163.0 566.3,163.2 C566.1,163.4 565.5,162.5 565.5,162.5" fill="none" stroke="#000" stroke-width="1.3" stroke-linejoin="round"/>
<path d="M575.0,147.0 C575.1,146.8 577.6,143.5 578.0,143.0 C578.4,142.5 583.4,137.6 583.5,137.5 C583.6,137.4 580.9,141.5 580.5,142.0 C580.1,142.5 575.3,146.8 575.0,147.0" fill="none" stroke="#000" stroke-width="1.3" stroke-linejoin="round"/>
<path d="M505.0,169.5 C504.2,170.5 501.7,173.0 500.3,175.2 C498.9,177.4 497.5,180.5 496.5,182.7 C495.6,184.9 495.3,186.4 494.7,188.3 C494.0,190.2 493.4,192.0 492.8,194.0 C492.2,195.9 491.2,199.0 490.9,200.0" fill="none" stroke="#000" stroke-width="1.85" stroke-linejoin="round"/>
<path d="M97.1,404.4 C97.8,403.9 99.5,402.5 101.2,401.3 C102.9,400.1 105.0,398.6 107.4,397.2 C109.8,395.8 112.9,394.4 115.7,393.1 C118.4,391.7 121.2,390.5 124.0,388.9 C126.7,387.4 129.8,385.1 132.2,383.8 C134.6,382.4 136.4,381.9 138.4,380.6 C140.5,379.4 143.3,377.9 144.6,376.5 C146.0,375.1 146.0,373.8 146.7,372.4 C147.4,371.0 147.4,369.1 148.8,368.2 C150.1,367.4 153.6,367.7 155.0,367.2 C156.3,366.7 156.5,364.8 157.0,365.1 C157.6,365.5 156.7,368.4 158.1,369.3 C159.5,370.1 162.7,370.1 165.3,370.3 C167.9,370.5 171.2,371.0 173.6,370.3 C176.0,369.6 178.1,367.2 179.8,366.2 C181.5,365.1 182.9,364.1 183.9,364.1 C185.0,364.1 185.3,364.8 186.0,366.2 C186.7,367.6 187.4,370.3 188.1,372.4 C188.7,374.4 189.1,376.5 190.1,378.6 C191.2,380.6 192.9,382.7 194.3,384.8 C195.6,386.9 197.4,388.9 198.4,391.0 C199.4,393.1 199.8,395.0 200.5,397.2 C201.2,399.4 202.2,403.2 202.5,404.4" fill="none" stroke="#000" stroke-width="1.85" stroke-linejoin="round"/>
<path d="M296.2,404.4 C297.2,403.2 300.3,399.4 302.4,397.2 C304.4,395.0 306.5,392.5 308.6,391.0 C310.6,389.4 312.7,388.6 314.8,387.9 C316.9,387.2 318.9,386.7 321.0,386.9 C323.1,387.0 325.8,387.9 327.2,388.9 C328.6,390.0 328.7,391.7 329.3,393.1 C329.8,394.4 329.6,396.8 330.3,397.2 C331.0,397.5 332.2,396.2 333.4,395.1 C334.6,394.1 335.5,392.0 337.5,391.0 C339.6,390.0 343.0,389.6 345.8,388.9 C348.6,388.2 352.0,387.9 354.1,386.9 C356.1,385.8 356.8,383.8 358.2,382.7 C359.6,381.7 360.4,381.2 362.3,380.6 C364.3,380.1 368.7,379.8 370.0,379.6" fill="none" stroke="#000" stroke-width="1.85" stroke-linejoin="round"/>
<path d="M323.1,405.5 C324.1,405.0 327.2,403.2 329.3,402.8 C331.3,402.3 334.0,402.3 335.5,402.8 C336.9,403.2 337.5,405.0 337.9,405.5" fill="none" stroke="#000" stroke-width="1.85" stroke-linejoin="round"/>
<path d="M414.7,295.0 C415.2,295.9 417.6,298.8 417.9,300.4 C418.3,302.0 417.4,303.6 416.9,304.7 C416.3,305.8 414.5,306.0 414.7,306.9 C414.9,307.8 418.1,309.0 417.9,310.1 C417.8,311.2 415.1,312.6 413.6,313.4 C412.2,314.1 408.8,314.1 409.3,314.4 C409.8,314.8 415.2,314.8 416.9,315.5 C418.5,316.2 418.8,317.5 419.0,318.8 C419.2,320.0 418.3,321.3 417.9,323.1 C417.6,324.9 417.6,327.8 416.9,329.6 C416.1,331.4 414.7,332.4 413.6,333.9 C412.5,335.3 411.5,336.6 410.4,338.2 C409.3,339.8 408.0,342.0 407.1,343.6 C406.2,345.2 405.7,346.5 405.0,347.9 C404.2,349.4 403.7,350.8 402.8,352.3 C401.9,353.7 400.6,355.3 399.6,356.6 C398.5,357.8 397.4,358.7 396.3,359.8 C395.2,360.9 394.3,361.6 393.1,363.1 C391.8,364.5 390.2,366.8 388.8,368.5 C387.3,370.1 385.9,371.5 384.4,372.8 C383.0,374.0 381.9,375.1 380.1,376.0 C378.3,376.9 376.2,377.6 373.6,378.2 C371.1,378.7 366.4,379.1 365.0,379.3" fill="none" stroke="#000" stroke-width="1.85" stroke-linejoin="round"/>
<path d="M419.0,357.7 C419.4,358.0 421.2,358.4 421.6,359.8 C422.0,361.3 421.6,364.1 421.2,366.3 C420.7,368.5 419.9,370.6 419.0,372.8 C418.1,374.9 416.7,377.5 415.8,379.3 C414.9,381.1 414.3,383.2 413.6,383.6 C412.9,383.9 412.2,382.7 411.5,381.4 C410.7,380.2 409.7,378.2 409.3,376.0 C408.9,373.9 408.8,370.8 409.3,368.5 C409.8,366.1 411.3,363.7 412.5,362.0 C413.8,360.2 415.8,358.8 416.9,358.1 C417.9,357.4 418.7,357.7 419.0,357.7" fill="none" stroke="#000" stroke-width="1.85" stroke-linejoin="round"/>
<path d="M464.4,345.8 C464.6,345.1 464.9,342.5 465.5,341.5 C466.0,340.4 467.4,338.9 467.6,339.3 C467.8,339.7 466.9,342.4 466.5,343.6 C466.2,344.9 465.6,346.3 465.5,346.9" fill="none" stroke="#000" stroke-width="1.85" stroke-linejoin="round"/>
<path d="M474.1,327.0 L476.9,324.8" fill="none" stroke="#000" stroke-width="1.85" stroke-linejoin="round"/>
<path d="M477.3,295.0 C477.7,295.7 478.4,298.4 479.5,299.3 C480.6,300.2 482.7,300.8 483.8,300.4 C484.9,300.0 485.8,298.1 486.0,297.2 C486.2,296.3 485.1,295.4 484.9,295.0" fill="none" stroke="#000" stroke-width="1.85" stroke-linejoin="round"/>
<path d="M508.7,103.3 C509.1,103.7 510.7,104.3 511.0,105.6 C511.3,106.9 510.6,109.1 510.5,111.3 C510.4,113.5 509.9,116.3 510.1,118.8 C510.4,121.3 511.4,123.9 512.0,126.3 C512.6,128.7 513.5,130.6 513.8,132.9 C514.1,135.2 514.1,138.4 513.8,140.4 C513.5,142.4 512.6,143.5 512.0,145.1 C511.4,146.7 510.6,148.8 510.1,150.0 C509.6,151.2 509.5,150.8 509.1,152.6 C508.7,154.4 508.4,158.2 507.7,161.0 C507.0,163.8 505.8,167.2 504.9,169.5 C504.0,171.8 503.1,173.2 502.1,175.1 C501.2,177.0 500.1,178.9 499.2,180.8 C498.2,182.7 497.6,184.7 496.4,186.4 C495.2,188.1 493.3,189.6 492.0,191.0 C490.7,192.4 489.6,193.5 488.4,194.7 C487.2,195.9 485.9,197.5 484.7,198.3 C483.5,199.1 482.2,199.5 481.0,199.5 C479.8,199.5 478.5,198.8 477.4,198.3 C476.3,197.8 475.1,196.5 474.3,196.5 C473.5,196.5 473.2,197.4 472.5,198.3 C471.8,199.2 471.0,200.9 470.1,202.0 C469.2,203.1 468.0,203.7 467.1,204.7 C466.2,205.7 465.4,206.8 464.8,208.1 C464.2,209.4 464.1,211.1 463.7,212.6 C463.3,214.1 463.1,215.6 462.5,217.1 C461.9,218.6 461.2,220.3 460.3,221.6 C459.4,222.9 458.0,223.9 456.9,225.0 C455.8,226.1 454.4,227.5 453.5,228.4 C452.6,229.3 451.8,229.8 451.3,230.6 C450.9,231.4 450.5,232.6 450.8,233.3 C451.1,234.0 452.0,234.3 452.9,234.8 C453.8,235.3 455.0,235.6 456.0,236.4 C457.0,237.2 458.2,238.7 459.1,239.5 C460.0,240.3 460.5,240.8 461.2,241.5 C461.9,242.2 462.5,242.7 463.2,243.6 C463.9,244.5 464.8,245.5 465.3,246.7 C465.8,247.9 466.1,249.4 466.3,250.8 C466.6,252.2 466.6,253.4 466.8,255.0 C467.0,256.6 467.3,258.6 467.4,260.1 C467.5,261.7 467.6,262.9 467.4,264.3 C467.2,265.7 467.0,267.1 466.3,268.4 C465.6,269.7 464.4,271.1 463.2,272.0 C462.0,272.9 460.5,273.2 459.1,273.6 C457.7,274.0 456.2,274.2 455.0,274.6 C453.8,275.0 452.8,275.8 451.9,276.1 C451.0,276.5 450.4,277.1 449.8,276.7 C449.2,276.3 448.6,274.6 448.2,273.6 C447.8,272.6 447.3,271.7 447.2,270.5 C447.1,269.3 447.7,267.7 447.7,266.3 C447.7,264.9 447.4,263.4 447.2,262.2 C447.0,261.0 446.9,260.1 446.7,259.1 C446.4,258.1 445.6,256.7 445.7,256.0 C445.8,255.3 446.9,255.7 447.2,255.0 C447.4,254.3 447.4,252.8 447.2,251.9 C446.9,251.0 446.5,249.7 445.7,249.3 C444.9,249.0 443.5,249.4 442.6,249.8 C441.7,250.2 440.9,251.1 440.5,251.9 C440.1,252.7 440.4,254.2 440.0,254.4 C439.6,254.6 438.3,253.7 437.9,252.9 C437.5,252.1 437.3,250.6 437.4,249.8 C437.5,249.0 438.8,248.6 438.4,248.2 C438.0,247.8 436.0,247.6 435.3,247.2 C434.6,246.8 434.3,246.8 434.3,245.7 C434.3,244.6 435.0,242.2 435.3,240.5 C435.6,238.8 436.4,236.5 436.4,235.3 C436.4,234.1 436.0,233.7 435.3,233.3 C434.6,232.9 432.7,233.1 432.0,232.9 C431.3,232.7 431.9,232.3 431.0,232.3 C430.1,232.3 427.9,232.5 426.3,232.8 C424.7,233.1 423.1,233.6 421.5,234.1 C419.9,234.6 418.0,235.2 416.7,235.7 C415.4,236.2 414.3,237.6 413.5,237.3 C412.7,237.0 411.9,235.2 411.9,234.1 C411.9,233.0 413.1,232.1 413.5,231.0 C413.9,229.9 414.6,228.9 414.3,227.8 C414.0,226.7 412.8,225.0 411.9,224.6 C411.0,224.2 409.8,224.9 408.7,225.4 C407.6,225.9 406.6,226.9 405.5,227.8 C404.4,228.7 403.4,229.9 402.3,231.0 C401.2,232.1 400.2,233.0 399.1,234.1 C398.1,235.2 397.3,236.4 396.0,237.3 C394.7,238.2 392.5,239.0 391.2,239.7 C389.9,240.4 388.8,240.4 388.0,241.3 C387.2,242.2 386.1,244.4 386.4,245.3 C386.7,246.2 388.5,246.2 389.6,246.9 C390.7,247.6 392.0,248.2 392.8,249.3 C393.6,250.4 393.9,252.2 394.4,253.3 C394.9,254.4 394.9,255.2 396.0,255.7 C397.1,256.2 399.1,256.6 400.7,256.5 C402.3,256.4 403.9,255.3 405.5,254.9 C407.1,254.5 408.7,254.2 410.3,254.1 C411.9,254.0 413.8,253.8 415.1,254.1 C416.4,254.4 417.9,255.0 418.3,255.7 C418.7,256.4 418.3,257.6 417.5,258.1 C416.7,258.6 415.0,258.6 413.5,258.9 C412.0,259.2 410.0,259.3 408.7,259.7 C407.4,260.1 406.6,260.5 405.5,261.3 C404.4,262.1 403.1,263.2 402.3,264.5 C401.5,265.8 401.2,267.7 400.7,269.3 C400.2,270.9 399.5,272.8 399.1,274.0 C398.7,275.2 397.9,275.6 398.4,276.4 C398.9,277.2 401.1,277.9 402.3,278.8 C403.5,279.7 404.4,280.7 405.5,282.0 C406.6,283.3 407.9,285.2 408.7,286.8 C409.5,288.4 409.8,290.3 410.3,291.6 C410.8,292.9 411.2,293.4 411.9,294.8 C412.6,296.2 413.9,299.0 414.3,299.9" fill="none" stroke="#000" stroke-width="1.85" stroke-linejoin="round"/>
<path d="M512.4,103.3 C512.6,104.0 513.2,106.3 513.8,107.5 C514.3,108.7 515.0,109.3 515.7,110.3 C516.4,111.2 517.5,111.8 518.1,113.2 C518.7,114.6 519.0,117.1 519.5,118.8 C520.0,120.5 520.9,121.9 521.4,123.5 C521.9,125.1 522.5,126.3 522.8,128.2 C523.1,130.1 522.8,133.2 523.2,134.8 C523.6,136.4 524.5,136.5 525.1,137.6 C525.7,138.7 526.5,140.0 527.0,141.4 C527.5,142.8 527.5,144.1 527.8,146.0 C528.1,147.9 528.6,150.6 528.9,152.6 C529.2,154.6 529.2,156.9 529.6,158.2 C530.0,159.5 530.4,160.3 531.0,160.3 C531.6,160.3 532.3,159.0 533.1,158.2 C533.9,157.4 535.1,156.2 535.9,155.4 C536.7,154.6 538.0,154.2 538.0,153.3 C538.0,152.4 536.6,150.9 535.9,149.8 C535.2,148.8 534.5,147.9 533.6,147.0 C532.8,146.1 531.6,145.3 530.8,144.2 C530.0,143.1 529.3,141.8 528.9,140.4 C528.5,139.0 528.5,137.4 528.4,135.7 C528.3,134.0 528.2,131.4 528.4,130.1 C528.6,128.8 529.1,128.2 529.8,127.7 C530.5,127.2 531.5,127.3 532.6,127.3 C533.7,127.3 536.0,128.1 536.4,127.7 C536.8,127.3 535.8,126.2 535.0,124.9 C534.2,123.6 532.9,121.5 531.7,119.7 C530.5,117.9 529.1,116.0 527.9,114.1 C526.6,112.2 525.5,110.3 524.2,108.5 C523.0,106.7 521.0,104.2 520.4,103.3" fill="none" stroke="#000" stroke-width="1.85" stroke-linejoin="round"/>
<path d="M531.7,164.6 C532.2,164.7 533.6,164.8 534.5,165.3 C535.4,165.8 536.1,166.7 537.3,167.4 C538.5,168.1 540.2,168.9 541.6,169.5 C543.0,170.1 544.4,170.6 545.8,170.9 C547.2,171.2 548.6,171.6 550.0,171.6 C551.4,171.6 553.3,171.4 554.3,170.9 C555.2,170.4 555.2,168.8 555.7,168.8 C556.2,168.8 556.6,170.0 557.1,170.9 C557.6,171.8 558.0,173.7 558.5,174.4 C559.0,175.1 560.1,174.5 559.9,175.1 C559.7,175.7 558.0,177.1 557.1,178.0 C556.2,178.9 555.5,179.9 554.3,180.8 C553.1,181.7 551.2,182.7 550.0,183.6 C548.8,184.5 548.1,185.4 547.2,186.4 C546.3,187.4 545.8,188.6 544.4,189.3 C543.0,190.0 540.4,190.2 538.7,190.7 C537.1,191.2 535.7,191.9 534.5,192.1 C533.3,192.3 532.6,191.9 531.7,192.1 C530.8,192.3 529.2,192.8 528.9,193.5 C528.5,194.2 529.1,195.4 529.6,196.3 C530.1,197.2 530.9,198.4 531.7,199.1 C532.5,199.8 534.0,200.9 534.5,200.5 C535.0,200.1 535.1,197.8 534.8,196.9 C534.5,196.0 533.5,195.7 532.9,195.0 C532.3,194.3 531.3,193.3 531.0,193.0" fill="none" stroke="#000" stroke-width="1.85" stroke-linejoin="round"/>
<path d="M531.7,164.6 C531.8,165.4 532.2,167.8 532.4,169.5 C532.6,171.2 533.1,173.2 533.1,175.1 C533.1,177.0 532.6,179.2 532.4,180.8 C532.2,182.5 532.3,184.1 531.7,185.0 C531.1,185.9 529.6,185.7 528.9,186.4 C528.2,187.1 527.5,188.4 527.5,189.3 C527.5,190.2 528.3,191.5 528.9,192.1 C529.5,192.7 530.6,192.8 531.0,193.0" fill="none" stroke="#000" stroke-width="1.85" stroke-linejoin="round"/>
<path d="M557.1,170.9 L560.6,166.0" fill="none" stroke="#000" stroke-width="1.85" stroke-linejoin="round"/>
<path d="M586.0,131.5 L588.5,127.0" fill="none" stroke="#000" stroke-width="1.85" stroke-linejoin="round"/>
<path d="M533.8,200.6 C534.3,200.8 535.8,201.0 536.6,201.6 C537.4,202.2 537.9,203.6 538.5,204.4 C539.1,205.2 539.6,205.5 540.4,206.3 C541.2,207.1 542.4,207.8 543.2,209.1 C544.0,210.3 544.6,212.1 545.1,213.8 C545.6,215.5 546.0,217.5 546.0,219.4 C546.0,221.3 545.4,222.9 545.1,225.1 C544.8,227.3 544.2,230.1 544.2,232.6 C544.2,235.1 544.8,237.6 545.1,240.1 C545.4,242.6 546.0,245.9 546.0,247.6 C546.0,249.2 545.7,249.2 545.4,250.0 C545.1,250.8 544.8,251.6 544.2,252.4 C543.6,253.2 542.6,254.6 541.8,254.8 C541.0,255.0 540.2,253.6 539.4,253.6 C538.6,253.6 537.8,254.2 537.0,254.8 C536.2,255.4 535.4,256.6 534.6,257.2 C533.8,257.8 532.8,257.8 532.2,258.4 C531.6,259.0 531.8,260.1 531.0,260.8 C530.2,261.5 528.6,262.2 527.4,262.6 C526.2,263.0 525.0,263.3 523.9,263.2 C522.8,263.1 521.7,262.0 520.9,262.0 C520.1,262.0 519.3,262.2 519.1,263.2 C518.9,264.2 519.8,266.7 519.7,268.0 C519.6,269.3 518.9,269.9 518.5,270.9 C518.1,271.9 517.8,273.1 517.3,273.9 C516.8,274.7 516.2,275.5 515.5,275.7 C514.8,275.9 513.9,275.6 513.1,275.1 C512.3,274.6 511.0,273.7 510.7,272.7 C510.4,271.7 511.3,270.2 511.3,269.1 C511.3,268.0 511.2,266.8 510.7,266.2 C510.2,265.6 509.3,265.6 508.3,265.6 C507.3,265.6 506.1,265.8 504.7,266.2 C503.3,266.6 501.7,267.3 499.9,268.0 C498.1,268.7 495.9,269.5 493.9,270.3 C491.9,271.1 489.8,271.9 488.0,272.7 C486.2,273.5 484.6,274.5 483.2,275.1 C481.8,275.7 480.2,276.1 479.6,276.3" fill="none" stroke="#000" stroke-width="1.85" stroke-linejoin="round"/>
<path d="M533.8,200.6 C533.6,201.6 533.0,204.1 532.9,206.3 C532.8,208.5 533.1,211.0 532.9,213.8 C532.7,216.6 532.2,220.1 531.9,223.2 C531.6,226.3 531.6,230.4 531.0,232.6 C530.4,234.8 529.3,235.2 528.2,236.3 C527.1,237.4 525.6,238.4 524.4,239.2 C523.1,240.0 521.8,240.5 520.7,241.0 C519.6,241.5 518.7,241.2 517.9,242.0 C517.1,242.8 516.6,244.4 516.0,245.7 C515.4,246.9 514.5,248.4 514.1,249.5 C513.7,250.6 514.0,251.3 513.7,252.4 C513.4,253.5 513.0,255.1 512.5,256.0 C512.0,256.9 511.8,257.6 510.7,257.8 C509.6,258.0 507.7,257.0 505.9,257.2 C504.1,257.4 501.9,258.4 499.9,259.0 C497.9,259.6 495.5,260.3 493.9,260.8 C492.3,261.3 491.5,261.2 490.3,262.0 C489.1,262.8 488.0,264.4 486.8,265.6 C485.6,266.8 484.2,267.9 483.2,269.1 C482.2,270.3 481.4,271.5 480.8,272.7 C480.2,273.9 479.8,275.7 479.6,276.3" fill="none" stroke="#000" stroke-width="1.85" stroke-linejoin="round"/>
<path d="M491.5,276.3 C491.9,275.9 492.7,274.6 493.9,273.9 C495.1,273.2 497.3,272.6 498.7,272.1 C500.1,271.6 501.2,271.0 502.3,270.9 C503.4,270.8 504.7,271.0 505.3,271.5 C505.9,272.0 506.2,272.9 505.9,273.9 C505.6,274.9 504.5,276.6 503.5,277.5 C502.5,278.4 501.1,278.5 499.9,279.3 C498.7,280.1 497.3,281.4 496.3,282.3 C495.3,283.2 494.7,284.5 493.9,284.7 C493.1,284.9 492.0,284.3 491.5,283.5 C491.0,282.7 490.9,281.1 490.9,279.9 C490.9,278.7 491.4,276.9 491.5,276.3" fill="none" stroke="#000" stroke-width="1.85" stroke-linejoin="round"/>
<path d="M479.6,276.3 C479.2,276.7 478.0,277.9 477.2,278.7 C476.4,279.5 475.7,280.3 474.8,281.1 C473.9,281.9 472.4,282.7 471.8,283.5 C471.2,284.3 470.9,285.3 471.2,285.9 C471.5,286.5 472.8,287.1 473.6,287.1 C474.4,287.1 475.4,285.7 476.0,285.9 C476.6,286.1 477.0,287.1 477.2,288.3 C477.4,289.5 477.1,291.5 477.2,293.1 C477.3,294.7 477.6,296.6 477.8,297.9 C478.0,299.2 477.7,300.3 478.4,300.9 C479.1,301.5 481.0,301.8 482.0,301.5 C483.0,301.2 483.8,300.1 484.4,299.1 C485.0,298.1 485.2,296.7 485.6,295.5 C486.0,294.3 486.4,293.3 486.8,291.9 C487.2,290.5 487.7,288.5 488.0,287.1 C488.3,285.7 489.0,284.7 488.6,283.5 C488.2,282.3 486.5,280.8 485.6,279.9 C484.7,279.0 484.0,278.5 483.2,278.1 C482.4,277.7 481.4,277.8 480.8,277.5 C480.2,277.2 479.8,276.5 479.6,276.3" fill="none" stroke="#000" stroke-width="1.85" stroke-linejoin="round"/>
<path d="M96.3,404.3L100.1,404.9M108.3,404.3L112.2,404.9M120.4,404.3L124.3,404.9M132.5,404.3L136.3,404.9M144.4,404.4L148.5,404.8M156.3,404.6L160.8,404.6M168.4,404.6L172.9,404.6M180.5,404.6L184.9,404.6M192.8,404.5L196.8,404.7M204.9,404.5L208.8,404.7M216.8,404.6L221.0,404.6M228.8,404.6L233.2,404.6M241.1,404.6L245.0,404.6M253.8,404.5L256.4,404.7M266.6,404.4L267.8,404.8M279.8,404.2L278.7,405.0M292.9,404.0L289.7,405.2M305.4,404.0L301.4,405.2M318.0,404.0L312.9,405.2M330.1,404.0L325.0,405.2M341.7,404.0L337.5,405.2M354.0,403.9L349.4,405.3M366.3,403.8L361.2,405.4M378.7,403.6L372.9,405.6M390.7,403.6L385.1,405.6M402.4,403.6L397.5,405.6M414.3,403.6L409.7,405.6M426.4,403.6L421.8,405.6M438.8,403.6L433.5,405.6M451.2,403.6L445.3,405.6M463.1,403.6L457.5,405.6M474.8,403.8L470.0,405.4M486.8,404.0L482.1,405.2M498.9,404.0L494.2,405.2M511.1,404.0L506.1,405.2M523.2,404.0L518.1,405.2M535.2,404.0L530.2,405.2M547.3,403.9L542.3,405.3M559.5,403.6L554.3,405.6M571.5,403.6L566.4,405.6M583.4,403.6L578.6,405.6M595.5,403.3L590.6,405.9M607.9,402.9L602.4,406.3M620.1,402.7L614.3,406.5M632.2,402.7L626.4,406.5M96.3,392.2L100.1,392.9M108.3,392.2L112.2,392.9M120.4,392.2L124.3,392.9M132.5,392.2L136.3,392.9M144.4,392.3L148.5,392.7M156.3,392.5L160.8,392.6M168.3,392.5L172.9,392.5M180.5,392.5L184.9,392.6M192.7,392.4L196.8,392.7M204.8,392.4L208.8,392.6M216.7,392.5L221.1,392.6M228.7,392.5L233.2,392.5M241.1,392.5L245.0,392.6M253.8,392.5L256.4,392.6M266.1,392.5L268.2,392.6M279.6,392.2L278.9,392.9M293.1,391.9L289.5,393.2M305.3,391.9L301.4,393.2M317.6,391.9L313.3,393.2M329.6,391.9L325.5,393.2M341.5,391.9L337.7,393.2M354.2,391.9L349.2,393.2M366.3,391.9L361.2,393.2M378.4,391.6L373.2,393.5M390.4,391.6L385.3,393.5M402.4,391.4L397.5,393.7M414.6,391.3L409.5,393.8M426.4,391.4L421.7,393.6M438.7,391.4L433.7,393.6M450.9,391.3L445.6,393.7M462.9,391.4L457.7,393.6M474.8,391.7L470.0,393.3M487.0,391.9L481.9,393.2M499.0,391.9L494.0,393.2M511.0,392.0L506.2,393.1M523.2,392.0L518.1,393.0M535.3,392.1L530.2,392.9M547.3,391.9L542.3,393.1M559.4,391.7L554.4,393.4M571.4,391.5L566.5,393.6M583.5,391.2L578.5,393.9M595.5,391.2L590.6,393.8M607.9,390.9L602.4,394.2M620.1,390.6L614.3,394.5M632.1,390.6L626.4,394.4M96.3,380.1L100.1,380.9M108.4,380.1L112.2,380.8M120.5,380.1L124.2,380.8M132.5,380.1L136.3,380.8M144.5,380.2L148.4,380.8M156.4,380.3L160.7,380.6M168.4,380.4L172.8,380.6M180.6,380.3L184.8,380.6M192.8,380.2L196.7,380.7M204.9,380.3L208.8,380.6M216.9,380.4L220.9,380.6M228.9,380.4L233.0,380.5M241.4,380.4L244.7,380.5M253.8,380.5L256.4,380.5M265.9,380.4L268.4,380.5M278.9,380.2L279.6,380.7M292.6,379.9L290.0,381.0M305.0,379.9L301.8,381.1M316.8,379.9L314.2,381.0M328.6,379.8L326.5,381.1M340.8,379.8L338.4,381.1M353.7,379.8L349.7,381.1M366.0,379.7L361.5,381.2M378.1,379.5L373.6,381.4M390.1,379.5L385.7,381.4M402.3,379.3L397.6,381.6M414.6,379.2L409.4,381.7M426.4,379.3L421.8,381.6M438.5,379.3L433.8,381.6M450.8,379.2L445.6,381.7M462.8,379.3L457.8,381.6M474.6,379.7L470.1,381.2M487.0,379.8L481.9,381.1M499.0,379.8L494.0,381.1M510.9,380.0L506.3,380.9M523.1,380.1L518.2,380.8M535.3,380.1L530.1,380.8M547.4,379.8L542.2,381.1M559.3,379.8L554.4,381.1M571.4,379.2L566.5,381.7M583.6,378.8L578.4,382.1M595.5,379.1L590.6,381.8M607.7,379.0L602.6,381.9M620.0,378.7L614.4,382.3M632.0,378.8L626.5,382.2M96.5,367.8L99.9,369.0M108.6,367.8L112.0,369.0M120.6,367.8L124.1,368.9M132.6,367.9L136.2,368.9M144.6,367.9L148.3,368.9M156.6,367.9L160.5,368.9M168.7,367.9L172.6,368.9M180.7,368.0L184.6,368.8M192.9,368.0L196.6,368.7M205.0,368.1L208.7,368.7M217.0,368.2L220.8,368.6M229.1,368.2L232.8,368.6M241.4,368.3L244.7,368.5M253.8,368.3L256.5,368.4M265.9,368.3L268.4,368.4M278.5,368.2L280.0,368.6M291.5,368.0L291.2,368.7M303.9,368.0L302.8,368.8M316.2,367.9L314.7,368.9M328.5,367.7L326.6,369.0M340.6,367.8L338.6,369.0M353.0,367.6L350.4,369.2M365.3,367.5L362.2,369.3M377.7,367.4L373.9,369.4M389.8,367.4L386.0,369.4M401.8,367.3L398.1,369.5M414.0,367.3L410.0,369.5M426.0,367.4L422.2,369.4M438.1,367.4L434.2,369.4M450.3,367.3L446.1,369.5M462.3,367.4L458.3,369.4M474.3,367.7L470.4,369.1M486.5,367.8L482.4,369.0M498.6,367.9L494.5,368.9M510.5,368.0L506.6,368.8M522.7,368.1L518.6,368.7M534.9,368.1L530.5,368.7M547.1,368.0L542.4,368.8M559.0,368.2L554.7,368.6M571.1,367.8L566.7,369.0M583.3,367.4L578.7,369.4M595.3,367.5L590.8,369.2M607.5,367.2L602.7,369.6M619.8,366.9L614.7,369.9M631.7,367.0L626.8,369.8M96.6,355.7L99.8,357.0M108.6,355.7L111.9,357.0M120.7,355.7L124.0,357.0M132.7,355.7L136.1,356.9M144.6,355.7L148.3,356.9M156.6,355.7L160.5,356.9M168.7,355.7L172.6,357.0M180.8,355.7L184.6,356.9M192.9,355.9L196.6,356.8M205.0,356.0L208.7,356.7M217.0,356.0L220.8,356.6M229.0,356.0L232.9,356.6M241.2,356.1L244.9,356.6M253.4,356.2L256.8,356.4M265.6,356.2L268.8,356.4M278.1,356.2L280.4,356.5M290.7,356.1L292.0,356.5M303.0,356.1L303.8,356.6M315.1,356.1L315.8,356.6M327.8,355.9L327.3,356.8M340.3,355.8L338.9,356.9M352.9,355.4L350.4,357.2M365.0,355.4L362.4,357.3M377.3,355.3L374.3,357.3M389.5,355.0L386.3,357.6M401.6,355.1L398.3,357.5M413.9,355.1L410.1,357.6M425.8,355.3L422.4,357.4M437.9,355.3L434.4,357.4M450.2,355.1L446.3,357.6M462.1,355.2L458.5,357.4M474.0,355.6L470.7,357.0M486.1,355.7L482.8,356.9M498.1,355.8L494.9,356.9M510.2,356.0L507.0,356.6M522.1,356.2L519.2,356.4M534.2,356.3L531.2,356.3M546.6,356.6L543.0,356.1M558.8,356.9L554.9,355.7M570.8,356.5L567.0,356.1M582.9,356.3L579.1,356.3M595.1,356.1L591.1,356.5M607.5,355.3L602.8,357.3M619.8,354.7L614.6,357.9M631.7,355.1L626.8,357.5M96.6,343.6L99.8,344.9M108.6,343.6L111.9,344.9M120.7,343.6L124.0,344.9M132.7,343.6L136.1,344.9M144.7,343.6L148.3,344.9M156.6,343.6L160.5,344.9M168.7,343.6L172.6,344.9M180.8,343.6L184.6,344.9M192.9,343.8L196.6,344.7M205.0,343.9L208.7,344.6M217.0,343.9L220.8,344.6M229.0,343.9L232.9,344.6M241.1,344.0L244.9,344.5M253.2,344.2L257.0,344.3M265.3,344.2L269.1,344.3M277.7,344.2L280.8,344.3M290.2,344.1L292.5,344.4M302.3,344.2L304.5,344.3M314.2,344.2L316.7,344.3M326.4,344.2L328.7,344.3M339.4,343.9L339.8,344.6M352.5,343.6L350.9,344.9M364.8,343.5L362.7,345.0M376.9,343.5L374.8,345.0M389.3,343.2L386.5,345.3M401.6,343.1L398.3,345.4M413.9,343.0L410.1,345.5M425.6,343.3L422.5,345.2M437.8,343.2L434.6,345.3M450.1,343.0L446.3,345.5M462.0,343.2L458.6,345.3M473.8,343.6L470.9,344.9M486.1,343.6L482.8,344.9M498.1,343.6L494.9,344.9M510.0,344.0L507.2,344.5M522.0,344.2L519.3,344.3M534.0,344.3L531.4,344.2M546.4,344.6L543.2,343.9M558.7,344.9L555.0,343.6M570.7,344.7L567.1,343.8M582.9,344.4L579.1,344.1M595.0,344.4L591.1,344.1M607.3,344.1L603.0,344.4M619.5,343.5L614.9,345.0M631.9,343.3L626.7,345.2M96.7,331.4L99.7,332.9M108.7,331.4L111.8,332.9M120.8,331.4L123.9,332.9M132.8,331.4L136.0,332.9M144.7,331.5L148.2,332.9M156.7,331.5L160.4,332.9M168.8,331.5L172.5,332.9M180.9,331.5L184.5,332.8M192.9,331.6L196.6,332.7M204.9,331.8L208.7,332.6M217.0,331.8L220.8,332.6M229.0,331.8L232.9,332.5M241.1,332.0L245.0,332.4M253.1,332.2L257.1,332.2M265.2,332.2L269.1,332.2M277.5,332.1L281.0,332.2M289.8,332.1L292.8,332.3M302.0,332.1L304.8,332.2M314.1,332.2L316.8,332.2M326.3,332.2L328.8,332.2M338.8,332.1L340.4,332.3M351.4,332.0L351.9,332.4M363.6,332.0L363.9,332.4M375.6,332.0L376.0,332.4M388.0,331.9L387.7,332.5M400.7,331.6L399.2,332.8M413.1,331.5L411.0,332.9M425.1,331.5L423.1,332.8M437.3,331.4L435.0,333.0M449.5,331.2L446.9,333.2M461.6,331.3L459.0,333.0M473.6,331.6L471.2,332.7M485.7,331.7L483.2,332.7M497.8,331.7L495.2,332.6M509.8,332.0L507.4,332.4M521.7,332.3L519.6,332.0M533.8,332.5L531.7,331.9M546.1,332.9L543.5,331.5M558.2,333.5L555.6,330.9M570.5,333.0L567.4,331.3M582.9,333.1L579.1,331.2M594.8,332.6L591.3,331.7M607.4,332.2L602.9,332.2M619.2,331.9L615.3,332.4M631.5,331.4L627.0,332.9M96.8,319.2L99.6,321.0M108.9,319.2L111.6,321.1M120.9,319.2L123.7,321.0M132.9,319.3L136.0,320.9M144.8,319.3L148.2,320.9M156.9,319.3L160.2,321.0M169.0,319.2L172.3,321.0M181.0,319.3L184.4,320.9M192.9,319.5L196.6,320.7M204.9,319.6L208.8,320.6M216.9,319.6L220.9,320.6M229.0,319.6L232.9,320.7M241.0,319.8L245.1,320.4M252.8,320.1L257.5,320.2M264.9,320.1L269.5,320.1M277.3,320.1L281.2,320.2M289.6,320.1L293.1,320.2M301.6,320.1L305.2,320.1M313.3,320.1L317.6,320.1M325.5,320.1L329.6,320.1M338.2,320.2L341.0,320.0M350.6,320.3L352.8,319.9M362.5,320.4L365.0,319.8M374.0,320.3L377.6,319.9M386.5,320.3L389.2,320.0M400.2,319.7L399.7,320.5M413.0,319.2L411.1,321.0M424.8,319.6L423.4,320.6M437.0,319.3L435.3,320.9M449.5,318.6L447.0,321.7M461.4,318.9L459.2,321.3M473.3,319.7L471.5,320.5M485.2,319.8L483.7,320.4M497.3,319.8L495.7,320.5M509.7,319.8L507.5,320.4M521.4,320.6L519.9,319.7M533.4,320.8L532.1,319.5M545.9,320.6L543.7,319.6M558.0,321.0L555.7,319.2M569.5,320.7L568.3,319.5M582.0,320.8L580.0,319.5M593.5,321.1L592.6,319.1M605.5,321.2L604.8,319.1M618.4,320.2L616.0,320.0M630.6,319.8L628.0,320.4M96.9,307.1L99.5,309.0M109.0,307.1L111.6,309.0M121.0,307.1L123.7,309.0M132.9,307.2L136.0,308.9M144.8,307.2L148.2,308.8M156.8,307.2L160.3,308.9M169.0,307.1L172.2,309.0M180.9,307.2L184.4,308.9M192.9,307.5L196.7,308.6M204.8,307.6L208.8,308.5M216.9,307.5L220.9,308.6M229.0,307.4L232.9,308.7M240.9,307.7L245.2,308.4M252.6,308.0L257.6,308.0M264.8,308.0L269.6,308.0M277.2,308.0L281.3,308.1M289.4,308.0L293.2,308.1M301.4,308.0L305.4,308.0M313.0,308.0L317.9,308.0M325.2,308.1L329.8,308.0M337.9,308.2L341.3,307.9M350.2,308.6L353.2,307.5M362.1,308.7L365.4,307.3M373.6,308.2L378.0,307.9M385.9,308.4L389.8,307.7M400.3,307.6L399.6,308.4M413.3,306.8L410.7,309.3M424.5,307.9L423.7,308.2M436.6,307.8L435.7,308.3M449.4,306.7L447.1,309.4M461.2,307.2L459.4,308.9M473.1,307.8L471.6,308.3M485.2,307.7L483.6,308.4M497.9,307.2L495.2,308.8M510.1,307.2L507.0,308.9M521.8,307.9L519.5,308.2M533.7,308.2L531.7,307.9M546.1,307.8L543.5,308.3M557.6,308.2L556.1,307.9M568.9,308.7L568.9,307.4M581.4,308.6L580.6,307.5M593.3,309.1L592.9,307.0M605.3,309.2L605.0,306.9M617.6,309.2L616.8,306.9M629.6,309.0L628.9,307.1M96.8,294.9L99.6,297.1M108.8,294.8L111.7,297.1M120.9,294.9L123.8,297.0M132.8,295.0L136.0,296.9M144.7,295.2L148.3,296.7M156.5,295.4L160.6,296.5M168.4,295.6L172.8,296.3M180.6,295.5L184.7,296.5M192.8,295.5L196.7,296.5M204.7,295.6L208.9,296.3M216.5,295.8L221.3,296.2M228.4,295.9L233.5,296.0M240.8,295.8L245.3,296.1M253.1,296.0L257.1,296.0M265.2,296.0L269.2,296.0M277.2,295.9L281.3,296.0M289.4,295.9L293.2,296.0M301.5,296.0L305.3,296.0M313.8,296.0L317.1,296.0M325.8,296.0L329.3,295.9M337.9,296.3L341.3,295.6M350.0,296.8L353.3,295.2M362.0,297.3L365.5,294.7M373.9,298.2L377.7,293.8M386.2,298.0L389.6,293.9M399.1,297.7L400.8,294.2M411.6,296.9L412.4,295.0M423.5,297.1L424.6,294.8M435.7,297.0L436.6,295.0M447.7,297.1L448.8,294.8M460.4,296.5L460.2,295.4M472.8,296.5L471.9,295.5M485.4,295.9L483.5,296.1M498.4,294.8L494.6,297.2M510.4,294.9L506.8,297.0M522.4,295.1L518.9,296.8M534.6,294.8L530.9,297.2M546.9,294.2L542.7,297.8M558.7,294.4L555.0,297.5M570.0,295.3L567.8,296.6M581.1,296.8L580.9,295.1M592.6,297.7L593.5,294.3M605.3,297.4L605.0,294.6M617.2,297.9L617.2,294.0M629.3,297.3L629.3,294.7M96.8,282.8L99.6,285.0M108.8,282.7L111.7,285.1M120.9,282.8L123.8,285.0M132.8,282.8L136.0,285.0M144.8,282.9L148.2,284.9M156.5,283.4L160.6,284.4M168.4,283.6L172.9,284.2M180.6,283.5L184.8,284.3M192.7,283.4L196.8,284.4M204.7,283.6L209.0,284.2M216.5,283.8L221.3,284.0M228.4,283.9L233.5,283.9M240.7,283.8L245.3,284.0M253.1,283.8L257.1,284.0M265.2,283.8L269.2,284.0M277.3,283.8L281.2,284.0M289.4,283.8L293.3,284.0M301.5,283.9L305.3,283.9M313.6,283.9L317.3,283.9M325.7,284.0L329.4,283.8M337.8,284.4L341.4,283.4M350.0,284.8L353.4,283.0M361.9,285.3L365.6,282.5M374.1,285.9L377.5,281.9M386.6,286.5L389.2,281.3M399.0,286.8L400.9,281.0M411.2,285.6L412.8,282.2M423.4,285.2L424.7,282.6M435.6,285.1L436.7,282.7M447.6,285.2L448.8,282.6M460.2,285.0L460.4,282.8M472.2,285.7L472.5,282.1M484.4,285.6L484.5,282.2M497.6,284.0L495.4,283.8M510.4,283.1L506.8,284.7M522.9,282.6L518.4,285.2M535.0,282.2L530.5,285.6M547.4,281.3L542.2,286.5M559.5,281.3L554.3,286.5M570.2,282.6L567.6,285.2M581.5,284.1L580.5,283.7M592.6,285.5L593.5,282.3M605.4,284.8L604.8,283.0M617.5,285.2L616.9,282.6M629.6,285.0L629.0,282.8M96.8,270.7L99.6,272.9M108.8,270.7L111.7,273.0M120.8,270.7L123.9,272.9M132.8,270.7L136.0,273.0M144.8,270.7L148.1,273.0M156.7,271.0L160.4,272.6M168.6,271.3L172.6,272.4M180.7,271.3L184.7,272.4M192.8,271.3L196.8,272.3M204.8,271.4L208.9,272.3M216.7,271.5L221.1,272.2M228.8,271.5L233.2,272.1M240.9,271.6L245.1,272.1M253.2,271.6L257.1,272.0M265.2,271.6L269.1,272.0M277.2,271.6L281.3,272.0M289.3,271.7L293.3,272.0M301.4,271.8L305.4,271.9M313.5,271.8L317.4,271.8M325.6,271.9L329.5,271.8M337.8,272.3L341.4,271.4M350.0,272.5L353.3,271.2M361.8,273.8L365.7,269.9M373.6,273.6L378.0,270.0M386.0,273.9L389.8,269.8M398.6,274.1L401.3,269.6M410.9,273.6L413.1,270.0M423.2,273.3L425.0,270.4M435.5,273.1L436.8,270.5M447.9,273.1L448.6,270.5M460.3,273.3L460.3,270.3M472.1,273.9L472.6,269.7M484.1,274.0L484.7,269.6M497.8,272.2L495.2,271.5M510.2,271.4L506.9,272.2M522.8,270.7L518.5,273.0M535.1,270.1L530.3,273.6M547.3,269.9L542.2,273.8M559.0,269.9L554.7,273.8M570.6,270.1L567.3,273.6M582.3,270.7L579.7,273.0M594.3,270.9L591.9,272.7M606.5,270.8L603.8,272.9M618.1,272.0L616.3,271.6M630.0,272.7L628.5,270.9M96.9,258.6L99.5,261.0M108.9,258.5L111.6,261.0M120.9,258.6L123.8,260.9M132.8,258.6L136.0,260.9M144.8,258.7L148.1,260.8M156.7,259.0L160.4,260.5M168.7,259.1L172.6,260.4M180.7,259.1L184.6,260.4M192.8,259.2L196.7,260.3M204.8,259.2L208.8,260.3M216.9,259.2L220.9,260.3M229.0,259.1L232.9,260.4M241.0,259.3L245.1,260.2M253.1,259.5L257.1,260.1M265.1,259.5L269.2,260.0M277.1,259.5L281.4,260.1M289.1,259.5L293.5,260.0M301.2,259.6L305.6,259.9M313.4,259.7L317.6,259.8M325.5,259.6L329.6,259.9M337.7,259.4L341.5,260.1M349.8,259.8L353.5,259.7M362.1,259.4L365.4,260.1M373.9,261.7L377.8,257.8M385.9,262.0L389.8,257.5M398.1,261.7L401.8,257.8M410.6,261.5L413.4,258.0M422.9,261.6L425.3,258.0M435.3,261.4L437.0,258.2M447.9,261.5L448.6,258.1M460.3,262.1L460.3,257.4M472.8,261.8L472.0,257.8M486.1,259.8L482.8,259.8M498.5,259.8L494.6,259.8M510.1,259.8L507.0,259.8M522.2,259.3L519.1,260.2M534.7,258.5L530.7,261.1M547.0,258.1L542.6,261.4M558.7,257.9L555.0,261.6M570.9,257.2L567.0,262.4M582.7,257.8L579.3,261.8M594.9,257.7L591.2,261.9M607.1,257.6L603.2,261.9M618.3,260.0L616.1,259.5M629.9,261.6L628.6,257.9M96.9,246.5L99.5,248.9M109.0,246.4L111.6,249.0M121.0,246.5L123.7,248.9M132.9,246.7L135.9,248.7M144.8,246.8L148.2,248.5M156.6,247.0L160.5,248.4M168.7,247.0L172.6,248.3M180.7,247.0L184.6,248.3M192.8,247.1L196.7,248.3M204.9,247.1L208.8,248.3M216.9,247.0L220.9,248.3M229.0,247.0L232.9,248.3M241.0,247.1L245.1,248.3M252.9,247.1L257.4,248.3M264.9,247.1L269.4,248.3M277.0,247.2L281.5,248.2M288.9,247.3L293.7,248.0M300.7,247.4L306.0,248.0M312.4,247.4L318.5,248.0M324.9,247.2L330.1,248.2M337.6,246.7L341.6,248.7M349.7,246.7L353.6,248.7M361.7,247.8L365.7,247.6M373.2,248.7L378.4,246.7M385.4,249.0L390.3,246.3M398.0,249.3L401.9,246.1M410.6,249.6L413.4,245.8M422.8,249.6L425.4,245.8M435.1,249.5L437.3,245.9M447.7,249.8L448.8,245.6M460.1,250.8L460.5,244.6M472.1,251.4L472.6,243.9M485.1,248.7L483.8,246.7M498.1,247.7L494.9,247.7M510.2,247.7L507.0,247.7M522.0,247.2L519.3,248.2M534.1,247.1L531.4,248.2M546.3,246.8L543.3,248.6M558.5,246.3L555.3,249.1M570.7,245.8L567.2,249.6M582.7,246.1L579.3,249.3M594.8,246.0L591.3,249.3M606.9,246.1L603.4,249.2M618.5,247.6L615.9,247.7M630.1,249.2L628.4,246.2M97.0,234.6L99.4,236.6M109.0,234.5L111.5,236.7M121.0,234.6L123.6,236.6M132.9,234.7L135.9,236.5M144.8,234.9L148.2,236.4M156.6,235.0L160.5,236.3M168.7,235.0L172.6,236.2M180.7,235.0L184.6,236.2M192.8,235.0L196.7,236.3M204.9,234.9L208.8,236.3M216.9,234.9L220.9,236.4M229.0,234.9L233.0,236.3M240.9,234.9L245.2,236.3M252.8,235.0L257.4,236.3M264.9,235.0L269.5,236.3M276.8,235.0L281.7,236.2M288.7,235.1L294.0,236.1M300.5,235.2L306.3,236.0M312.3,235.3L318.7,235.9M324.5,235.3L330.6,236.0M337.4,235.0L341.8,236.2M349.6,235.1L353.8,236.1M361.3,235.8L366.2,235.4M372.7,236.3L379.0,235.0M384.9,236.4L390.9,234.8M397.6,237.1L402.3,234.2M410.2,237.4L413.9,233.8M422.6,237.6L425.6,233.6M434.8,237.9L437.5,233.3M447.3,238.1L449.1,233.2M460.0,238.3L460.6,232.9M472.4,238.1L472.3,233.2M485.1,236.8L483.8,234.5M497.6,236.0L495.4,235.3M509.8,235.6L507.4,235.7M521.9,235.0L519.4,236.2M533.9,235.3L531.6,236.0M546.1,235.1L543.5,236.1M558.4,234.7L555.3,236.6M570.5,234.5L567.3,236.7M582.7,234.4L579.3,236.8M595.5,233.8L590.6,237.5M607.7,233.7L602.6,237.6M619.4,234.0L615.0,237.2M632.1,233.2L626.5,238.0M97.2,222.8L99.2,224.3M109.3,222.9L111.3,224.2M121.2,222.8L123.4,224.3M133.0,222.8L135.8,224.3M144.7,222.9L148.2,224.2M156.5,223.1L160.6,224.0M168.4,223.2L172.8,223.9M180.6,223.0L184.7,224.1M192.8,222.9L196.7,224.2M204.9,222.7L208.7,224.4M217.1,222.6L220.7,224.5M229.2,222.6L232.7,224.5M240.8,222.7L245.3,224.4M252.2,222.8L258.1,224.3M264.2,222.9L270.1,224.2M276.5,222.8L282.0,224.3M288.4,222.9L294.3,224.2M300.1,223.0L306.6,224.1M311.8,223.2L319.1,223.9M324.1,223.2L331.0,223.9M336.9,223.2L342.3,223.9M349.1,223.4L354.2,223.7M360.8,223.7L366.7,223.4M372.3,223.8L379.3,223.3M384.6,224.2L391.2,222.9M397.1,225.9L402.8,221.2M409.4,226.0L414.7,221.1M422.1,226.1L426.1,221.0M434.3,227.1L438.0,220.0M446.6,226.9L449.8,220.2M459.8,227.1L460.8,220.0M472.0,227.7L472.7,219.4M484.6,225.4L484.3,221.7M497.1,223.3L495.9,223.8M509.2,223.6L508.0,223.5M521.4,223.9L519.9,223.2M533.5,223.7L531.9,223.4M546.2,222.9L543.3,224.2M559.3,221.8L554.4,225.3M571.1,222.2L566.8,224.9M582.9,222.5L579.1,224.6M596.1,221.2L590.1,225.9M608.3,221.1L602.0,226.0M619.5,221.7L614.9,225.4M632.1,221.1L626.5,226.0M97.2,210.8L99.2,212.1M109.3,210.8L111.2,212.1M121.3,210.8L123.4,212.2M133.1,210.8L135.7,212.2M144.8,210.8L148.2,212.2M156.6,210.9L160.5,212.0M168.4,211.1L172.9,211.8M180.7,210.9L184.6,212.0M192.9,210.7L196.6,212.2M204.9,210.6L208.7,212.4M217.1,210.5L220.7,212.5M229.3,210.5L232.6,212.5M240.8,210.3L245.3,212.7M251.9,210.8L258.3,212.2M264.0,210.8L270.3,212.2M276.2,210.6L282.3,212.4M287.9,210.4L294.8,212.5M299.7,210.5L307.0,212.5M311.6,211.1L319.3,211.8M323.8,211.1L331.3,211.9M336.5,211.1L342.7,211.9M348.7,211.2L354.7,211.8M360.3,211.1L367.2,211.9M372.0,211.5L379.6,211.5M384.3,212.0L391.5,211.0M397.0,214.2L402.9,208.7M409.2,214.2L414.9,208.8M421.9,214.2L426.3,208.8M434.2,215.3L438.1,207.7M446.2,215.1L450.2,207.9M459.1,214.9L461.5,208.0M471.9,215.2L472.9,207.7M484.1,213.7L484.8,209.3M496.8,212.0L496.2,210.9M508.4,213.4L508.7,209.6M520.5,213.4L520.8,209.5M533.1,212.4L532.4,210.6M546.1,211.1L543.5,211.8M559.7,209.4L554.1,213.6M571.2,210.1L566.7,212.8M582.8,211.0L579.2,212.0M595.1,210.4L591.1,212.6M607.4,210.0L602.9,213.0M619.2,210.0L615.2,213.0M631.4,209.8L627.2,213.2M97.2,198.8L99.2,200.1M109.3,198.8L111.3,200.1M121.3,198.7L123.4,200.1M133.1,198.7L135.7,200.1M144.9,198.7L148.0,200.2M157.1,198.6L160.0,200.3M169.3,198.4L171.9,200.4M181.2,198.6L184.2,200.3M193.0,198.6L196.5,200.3M204.9,198.4L208.8,200.4M216.9,198.2L220.9,200.6M228.8,197.9L233.2,200.9M240.8,197.8L245.3,201.0M252.3,198.0L257.9,200.8M264.2,198.2L270.1,200.6M276.1,198.3L282.4,200.5M287.6,198.2L295.1,200.7M299.5,198.1L307.3,200.7M311.9,198.2L319.0,200.7M324.1,198.3L331.0,200.6M336.5,198.7L342.7,200.2M348.5,198.9L354.9,199.9M359.9,198.5L367.6,200.3M372.0,198.5L379.6,200.3M384.7,200.2L391.1,198.6M396.7,202.3L403.2,196.5M409.1,201.8L414.9,197.0M421.8,201.7L426.4,197.1M434.0,202.5L438.4,196.3M445.6,203.0L450.8,195.8M458.1,202.7L462.5,196.1M470.8,202.7L473.9,196.1M482.9,202.7L486.0,196.1M495.7,202.3L497.3,196.5M507.6,203.6L509.6,195.2M519.9,202.7L521.4,196.1M532.6,201.0L532.9,197.8M545.4,200.2L544.2,198.6M558.0,199.8L555.7,199.0M570.4,199.6L567.4,199.2M583.3,199.1L578.7,199.7M594.9,198.7L591.2,200.1M607.7,197.8L602.5,201.0M619.3,197.9L615.2,201.0M631.9,197.5L626.7,201.4M97.2,186.7L99.2,188.0M109.3,186.7L111.3,188.0M121.2,186.6L123.5,188.1M133.1,186.6L135.7,188.1M145.1,186.5L147.9,188.2M157.1,186.5L160.0,188.2M169.2,186.4L172.0,188.3M181.2,186.4L184.2,188.2M193.1,186.4L196.5,188.3M204.9,186.3L208.8,188.4M216.7,186.1L221.1,188.6M228.6,185.9L233.3,188.8M240.3,185.7L245.8,189.0M251.9,185.4L258.4,189.3M264.1,185.6L270.2,189.0M276.2,186.0L282.3,188.7M287.9,186.1L294.8,188.6M299.8,185.9L307.0,188.8M311.9,185.1L319.0,189.6M324.0,185.2L331.0,189.5M336.5,186.1L342.7,188.5M348.6,186.7L354.7,188.0M360.4,186.6L367.1,188.1M372.6,185.9L379.1,188.8M384.6,185.2L391.1,189.5M397.0,188.7L402.9,186.0M409.3,189.1L414.7,185.6M421.8,189.2L426.4,185.5M433.9,189.8L438.5,184.9M445.7,190.3L450.7,184.4M458.1,190.2L462.5,184.5M470.5,191.0L474.2,183.7M482.5,191.2L486.3,183.5M495.3,190.5L497.7,184.2M507.5,190.8L509.6,183.9M519.7,190.3L521.6,184.4M531.8,189.7L533.6,184.9M544.8,189.0L544.8,185.7M558.2,188.3L555.6,186.4M570.6,188.3L567.3,186.4M582.9,187.3L579.1,187.3M595.0,187.0L591.1,187.7M607.4,185.7L602.9,189.0M619.5,185.7L614.9,189.0M631.2,185.4L627.3,189.3M97.3,174.5L99.1,176.0M109.4,174.5L111.2,176.0M121.3,174.5L123.4,176.0M133.2,174.5L135.6,176.1M145.2,174.4L147.8,176.1M157.3,174.3L159.8,176.2M169.5,174.3L171.8,176.3M181.4,174.3L184.0,176.2M193.1,174.3L196.4,176.3M204.9,174.1L208.8,176.4M216.7,174.0L221.1,176.6M228.7,173.8L233.3,176.8M240.4,173.6L245.7,177.0M252.1,173.4L258.1,177.1M264.3,173.5L270.1,177.0M276.4,173.8L282.1,176.7M288.3,173.9L294.3,176.7M300.2,173.6L306.6,177.0M312.1,173.2L318.8,177.3M324.2,173.3L330.8,177.3M336.6,173.9L342.6,176.6M348.9,174.6L354.5,176.0M361.0,174.7L366.5,175.8M373.0,174.4L378.6,176.2M385.1,174.8L390.7,175.7M397.0,177.5L402.9,173.0M409.4,176.9L414.7,173.7M421.8,176.7L426.4,173.9M433.7,177.4L438.6,173.1M445.3,178.2L451.2,172.3M457.8,177.8L462.8,172.7M470.6,177.8L474.2,172.7M482.9,178.1L486.0,172.4M495.2,178.4L497.8,172.1M507.3,179.2L509.9,171.4M519.4,178.5L521.9,172.0M531.0,178.7L534.4,171.8M543.1,178.7L546.4,171.8M556.9,176.6L556.9,174.0M568.9,177.2L568.9,173.3M581.6,175.9L580.4,174.6M594.0,175.3L592.1,175.3M606.8,174.0L603.5,176.6M618.5,173.6L615.9,176.9M629.3,173.0L629.3,177.5M97.4,162.4L99.0,164.0M109.5,162.4L111.1,164.0M121.4,162.4L123.3,164.0M133.3,162.4L135.6,164.0M145.3,162.3L147.7,164.1M157.5,162.2L159.6,164.2M169.6,162.2L171.6,164.2M181.6,162.2L183.8,164.2M193.3,162.2L196.2,164.2M205.0,162.0L208.7,164.4M216.8,161.8L221.0,164.6M228.9,161.7L233.0,164.7M241.0,161.7L245.0,164.7M252.2,161.3L258.0,165.1M264.4,161.4L270.0,165.0M276.6,161.7L281.9,164.7M288.5,161.7L294.1,164.7M300.4,161.4L306.4,165.0M312.2,161.1L318.7,165.3M324.3,161.1L330.7,165.3M336.7,161.8L342.5,164.6M349.1,162.5L354.3,163.9M361.3,162.8L366.2,163.6M373.5,162.7L378.1,163.7M385.6,162.6L390.2,163.8M397.6,163.9L402.3,162.5M409.8,164.0L414.2,162.4M422.0,164.0L426.2,162.4M434.0,164.3L438.3,162.1M445.9,164.6L450.5,161.8M458.2,164.4L462.4,162.0M470.7,164.5L474.0,161.9M483.0,165.0L485.9,161.4M495.0,165.9L498.0,160.5M507.0,166.5L510.2,159.9M519.1,166.1L522.2,160.3M531.0,165.9L534.4,160.5M543.3,165.4L546.3,161.0M555.6,164.5L558.2,161.9M568.0,164.2L569.9,162.2M580.7,163.2L581.3,163.2M592.9,163.0L593.3,163.4M604.5,161.9L605.8,164.5M617.0,161.3L617.4,165.1M629.3,160.9L629.3,165.5M97.4,150.3L99.0,151.9M109.4,150.3L111.1,151.9M121.4,150.3L123.3,151.9M133.3,150.3L135.5,152.0M145.3,150.2L147.6,152.1M157.5,150.1L159.6,152.1M169.6,150.1L171.6,152.2M181.6,150.1L183.8,152.2M193.3,150.1L196.2,152.2M205.0,150.0L208.6,152.3M216.9,149.8L220.9,152.5M228.9,149.7L233.0,152.6M240.9,149.6L245.1,152.6M252.7,149.5L257.5,152.7M264.7,149.6L269.6,152.7M276.8,149.7L281.7,152.6M288.7,149.7L293.9,152.6M300.6,149.4L306.1,152.8M312.7,149.2L318.3,153.0M324.7,149.3L330.3,153.0M337.0,149.8L342.2,152.5M349.3,150.4L354.1,151.8M361.5,150.8L366.0,151.5M373.7,150.8L377.9,151.4M385.9,150.9L389.8,151.3M398.3,151.1L401.6,151.1M410.2,151.3L413.8,151.0M422.2,151.2L426.0,151.0M434.3,151.2L438.1,151.1M446.3,150.8L450.2,151.4M458.6,151.0L462.0,151.3M470.9,151.3L473.8,151.0M483.0,152.1L485.8,150.1M494.7,153.7L498.3,148.6M506.3,154.7L510.9,147.6M518.6,154.2L522.7,148.1M530.6,154.2L534.9,148.0M542.5,153.4L547.1,148.8M554.9,153.1L558.8,149.2M567.1,152.9L570.7,149.3M579.7,151.9L582.3,150.4M591.1,151.1L595.0,151.1M603.5,150.9L606.8,151.3M615.6,150.2L618.8,152.1M628.0,149.5L630.6,152.8M97.3,138.2L99.1,139.9M109.3,138.2L111.2,139.9M121.3,138.2L123.4,139.9M133.3,138.2L135.5,140.0M145.3,138.1L147.6,140.0M157.4,138.0L159.7,140.1M169.5,138.0L171.7,140.1M181.5,138.0L183.9,140.1M193.3,138.0L196.2,140.1M205.1,137.9L208.6,140.2M217.0,137.8L220.8,140.3M229.0,137.7L232.9,140.4M240.9,137.6L245.2,140.5M252.8,137.6L257.4,140.6M264.9,137.6L269.4,140.5M277.0,137.7L281.5,140.4M288.9,137.7L293.7,140.5M300.9,137.4L305.9,140.7M312.9,137.1L318.1,141.0M324.9,137.2L330.1,140.9M337.2,137.7L342.0,140.4M349.4,138.4L353.9,139.8M361.7,138.7L365.8,139.4M373.9,138.8L377.8,139.3M385.9,138.7L389.8,139.4M398.2,139.0L401.7,139.1M410.3,139.1L413.7,139.0M422.2,138.9L426.0,139.2M434.2,138.9L438.1,139.2M446.5,138.8L450.0,139.3M458.7,138.4L461.9,139.7M471.1,138.7L473.7,139.4M483.4,139.8L485.5,138.4M495.1,140.9L498.0,137.2M506.6,142.0L510.6,136.1M518.6,141.7L522.7,136.4M530.4,141.8L535.0,136.4M542.0,141.9L547.6,136.3M554.7,141.3L559.0,136.8M566.7,141.3L571.2,136.8M578.9,140.5L583.1,137.6M590.6,139.8L595.5,138.3M602.9,139.1L607.4,139.1M615.3,138.9L619.2,139.3M627.3,138.4L631.2,139.7M97.2,126.0L99.2,127.9M109.3,126.0L111.3,127.9M121.3,126.1L123.4,127.9M133.3,126.0L135.5,127.9M145.3,126.0L147.6,128.0M157.5,125.9L159.6,128.1M169.5,125.8L171.7,128.1M181.5,125.9L183.8,128.1M193.4,125.9L196.1,128.1M205.2,125.9L208.5,128.1M217.2,125.8L220.6,128.2M229.4,125.8L232.5,128.2M241.4,125.7L244.7,128.3M253.2,125.6L257.0,128.3M265.2,125.6L269.1,128.3M277.2,125.7L281.3,128.3M289.1,125.7L293.5,128.3M301.1,125.5L305.7,128.5M313.2,125.4L317.7,128.6M325.3,125.4L329.8,128.5M337.4,125.8L341.8,128.2M349.6,126.3L353.8,127.7M361.8,126.7L365.6,127.3M374.0,126.7L377.6,127.2M386.2,126.8L389.6,127.2M398.4,126.9L401.5,127.0M410.4,127.0L413.6,127.0M422.4,127.0L425.7,127.0M434.5,127.0L437.9,127.0M446.8,126.9L449.7,127.0M458.9,126.8L461.7,127.2M471.3,127.2L473.5,126.7M484.1,128.3L484.8,125.7M495.4,128.6L497.6,125.4M506.5,129.5L510.6,124.5M518.5,129.5L522.8,124.5M530.2,129.6L535.2,124.4M541.9,129.9L547.7,124.1M554.3,129.5L559.4,124.5M566.1,129.8L571.7,124.2M578.4,129.5L583.6,124.5M590.3,128.3L595.9,125.7M601.9,127.3L608.4,126.7M614.8,127.0L619.6,127.0M626.5,126.7L632.1,127.3M97.2,113.9L99.2,115.9M109.3,114.0L111.3,115.9M121.3,114.0L123.4,115.9M133.3,114.0L135.5,115.9M145.4,113.9L147.6,116.0M157.5,113.8L159.6,116.1M169.6,113.8L171.7,116.1M181.6,113.8L183.8,116.1M193.4,113.8L196.1,116.0M205.3,113.8L208.4,116.0M217.4,113.7L220.4,116.1M229.6,113.7L232.3,116.1M241.7,113.7L244.3,116.1M253.5,113.6L256.7,116.2M265.5,113.6L268.9,116.2M277.3,113.7L281.2,116.2M289.2,113.7L293.4,116.2M301.3,113.6L305.5,116.3M313.5,113.5L317.4,116.3M325.6,113.5L329.5,116.3M337.5,113.8L341.7,116.1M349.7,114.3L353.6,115.5M362.0,114.6L365.5,115.2M374.2,114.6L377.5,115.2M386.3,114.6L389.5,115.2M398.6,114.9L401.3,114.9M410.6,114.9L413.5,114.9M422.5,115.0L425.7,114.9M434.7,115.0L437.6,114.9M446.9,114.9L449.5,114.9M459.0,114.9L461.6,115.0M471.1,114.6L473.7,115.2M483.4,115.6L485.4,114.2M494.8,116.9L498.2,112.9M506.3,117.8L510.9,112.0M518.4,117.5L522.9,112.3M530.3,117.5L535.2,112.3M542.0,117.7L547.6,112.1M554.3,117.5L559.5,112.4M566.1,117.7L571.7,112.1M578.2,117.5L583.8,112.3M590.1,116.5L596.0,113.3M601.9,115.4L608.4,114.4M614.4,115.2L620.0,114.6M626.0,115.1L632.5,114.7" stroke="#222" stroke-width="0.8" fill="none"/>
<path d="M100.13,404.94L98.68,405.60L98.99,403.82ZM112.21,404.93L110.76,405.60L111.06,403.82ZM124.27,404.93L122.82,405.60L123.13,403.82ZM136.33,404.90L134.90,405.59L135.18,403.81ZM148.52,404.77L147.10,405.55L147.25,403.76ZM160.76,404.64L159.32,405.52L159.36,403.72ZM172.88,404.61L171.43,405.50L171.44,403.70ZM184.88,404.64L183.45,405.52L183.49,403.72ZM196.76,404.71L195.38,405.54L195.48,403.74ZM208.80,404.69L207.44,405.53L207.53,403.73ZM221.05,404.63L219.64,405.51L219.67,403.71ZM233.19,404.61L231.76,405.50L231.77,403.70ZM244.99,404.64L243.66,405.51L243.70,403.71ZM256.40,404.71L255.29,405.52L255.44,403.72ZM267.79,404.80L266.78,405.42L267.34,403.71ZM278.69,405.00L278.81,403.81L279.85,405.27ZM289.73,405.18L290.55,403.92L291.17,405.61ZM301.43,405.22L302.45,403.95L302.99,405.67ZM312.89,405.25L314.22,403.98L314.66,405.73ZM325.01,405.24L326.32,403.98L326.76,405.73ZM337.52,405.24L338.60,403.96L339.12,405.69ZM349.36,405.28L350.55,403.99L351.06,405.72ZM361.22,405.37L362.48,404.04L363.01,405.76ZM372.91,405.57L374.30,404.15L374.87,405.86ZM385.06,405.56L386.41,404.15L387.00,405.85ZM397.54,405.57L398.67,404.15L399.34,405.82ZM409.74,405.63L410.77,404.17L411.51,405.82ZM421.80,405.58L422.86,404.15L423.57,405.80ZM433.50,405.58L434.77,404.15L435.38,405.84ZM445.31,405.58L446.71,404.16L447.28,405.87ZM457.50,405.57L458.84,404.15L459.43,405.85ZM469.97,405.40L471.16,404.06L471.73,405.76ZM482.12,405.25L483.33,403.98L483.81,405.71ZM494.16,405.19L495.40,403.95L495.84,405.70ZM506.07,405.22L507.38,403.97L507.81,405.72ZM518.05,405.25L519.40,403.99L519.83,405.73ZM530.21,405.19L531.53,403.95L531.95,405.71ZM542.32,405.35L543.56,404.03L544.08,405.75ZM554.26,405.57L555.49,404.15L556.13,405.84ZM566.37,405.56L567.59,404.14L568.22,405.83ZM578.59,405.63L579.70,404.18L580.41,405.83ZM590.61,405.87L591.67,404.31L592.49,405.91ZM602.38,406.32L603.48,404.58L604.43,406.11ZM614.29,406.55L615.42,404.71L616.42,406.21ZM626.40,406.50L627.52,404.68L628.51,406.19ZM100.13,392.87L98.68,393.53L98.99,391.75ZM112.22,392.86L110.77,393.53L111.06,391.75ZM124.27,392.86L122.82,393.53L123.13,391.75ZM136.32,392.85L134.89,393.52L135.19,391.75ZM148.53,392.72L147.10,393.49L147.26,391.70ZM160.79,392.56L159.34,393.44L159.37,391.64ZM172.89,392.53L171.45,393.43L171.45,391.63ZM184.91,392.57L183.47,393.44L183.50,391.64ZM196.78,392.66L195.39,393.47L195.50,391.67ZM208.83,392.63L207.45,393.46L207.55,391.67ZM221.10,392.55L219.68,393.44L219.70,391.64ZM233.24,392.53L231.80,393.43L231.80,391.63ZM245.02,392.56L243.68,393.44L243.71,391.64ZM256.43,392.57L255.36,393.44L255.41,391.64ZM268.23,392.61L267.23,393.44L267.36,391.64ZM278.91,392.88L278.75,391.75L280.05,393.00ZM289.50,393.16L290.44,391.88L291.02,393.58ZM301.44,393.18L302.44,391.90L303.01,393.60ZM313.33,393.16L314.44,391.89L314.95,393.62ZM325.48,393.15L326.55,391.89L327.07,393.61ZM337.74,393.16L338.70,391.89L339.28,393.59ZM349.19,393.19L350.47,391.92L350.93,393.66ZM361.15,393.19L362.49,391.92L362.93,393.66ZM373.22,393.49L374.45,392.08L375.07,393.76ZM385.32,393.50L386.53,392.08L387.17,393.76ZM397.51,393.65L398.60,392.16L399.36,393.80ZM409.48,393.79L410.58,392.24L411.38,393.85ZM421.73,393.64L422.78,392.15L423.55,393.78ZM433.66,393.61L434.80,392.14L435.52,393.79ZM445.60,393.73L446.77,392.21L447.52,393.84ZM457.72,393.63L458.90,392.15L459.60,393.80ZM469.99,393.32L471.17,391.98L471.74,393.69ZM481.91,393.18L483.22,391.91L483.67,393.66ZM493.99,393.16L495.30,391.90L495.74,393.65ZM506.15,393.09L507.45,391.87L507.85,393.62ZM518.12,393.03L519.49,391.84L519.83,393.61ZM530.16,392.91L531.58,391.79L531.85,393.57ZM542.28,393.13L543.60,391.89L544.02,393.64ZM554.35,393.36L555.59,392.01L556.15,393.71ZM566.45,393.56L567.60,392.11L568.29,393.77ZM578.51,393.88L579.55,392.29L580.41,393.87ZM590.60,393.85L591.65,392.27L592.49,393.86ZM602.42,394.20L603.50,392.48L604.45,394.01ZM614.29,394.47L615.42,392.64L616.42,394.14ZM626.41,394.41L627.53,392.60L628.51,394.11ZM100.07,380.85L98.62,381.47L98.99,379.71ZM112.17,380.83L110.72,381.46L111.06,379.70ZM124.21,380.85L122.76,381.47L123.13,379.70ZM136.27,380.85L134.83,381.47L135.19,379.70ZM148.45,380.76L147.00,381.45L147.27,379.67ZM160.67,380.62L159.22,381.41L159.36,379.62ZM172.80,380.56L171.36,381.39L171.44,379.59ZM184.79,380.61L183.35,381.41L183.48,379.62ZM196.71,380.67L195.31,381.42L195.50,379.63ZM208.75,380.63L207.38,381.41L207.54,379.62ZM220.93,380.55L219.55,381.39L219.63,379.59ZM233.02,380.52L231.64,381.38L231.69,379.58ZM244.66,380.51L243.46,381.37L243.52,379.58ZM256.41,380.46L255.37,381.36L255.37,379.56ZM268.45,380.47L267.41,381.36L267.43,379.56ZM279.55,380.69L278.48,381.01L279.58,379.58ZM290.01,381.00L290.67,379.75L291.36,381.42ZM301.75,381.06L302.59,379.79L303.21,381.48ZM314.16,381.04L314.79,379.77L315.52,381.42ZM326.46,381.08L326.88,379.80L327.79,381.35ZM338.35,381.09L338.91,379.80L339.72,381.41ZM349.67,381.15L350.68,379.85L351.27,381.55ZM361.50,381.22L362.61,379.89L363.19,381.60ZM373.56,381.40L374.61,379.98L375.30,381.65ZM385.67,381.43L386.69,380.00L387.41,381.65ZM397.59,381.62L398.62,380.11L399.42,381.73ZM409.45,381.75L410.56,380.18L411.36,381.79ZM421.80,381.59L422.80,380.09L423.60,381.71ZM433.81,381.59L434.85,380.09L435.63,381.71ZM445.64,381.75L446.77,380.18L447.57,381.80ZM457.83,381.63L458.93,380.11L459.70,381.74ZM470.09,381.23L471.22,379.90L471.80,381.60ZM481.89,381.11L483.21,379.84L483.65,381.59ZM493.97,381.09L495.29,379.84L495.73,381.58ZM506.29,380.95L507.54,379.76L507.92,381.52ZM518.17,380.82L519.56,379.71L519.82,381.49ZM530.14,380.81L531.59,379.71L531.83,381.49ZM542.19,381.11L543.54,379.85L543.97,381.59ZM554.41,381.09L555.69,379.83L556.14,381.58ZM566.46,381.72L567.52,380.17L568.34,381.77ZM578.40,382.08L579.43,380.38L580.38,381.91ZM590.61,381.79L591.64,380.21L592.50,381.79ZM602.60,381.88L603.65,380.26L604.53,381.83ZM614.41,382.25L615.51,380.48L616.48,382.00ZM626.55,382.16L627.63,380.43L628.58,381.95ZM99.90,368.95L98.44,369.42L99.00,367.71ZM111.97,368.96L110.50,369.42L111.07,367.71ZM124.06,368.94L122.59,369.42L123.14,367.70ZM136.18,368.89L134.72,369.41L135.21,367.68ZM148.35,368.85L146.87,369.41L147.30,367.67ZM160.49,368.86L158.99,369.42L159.41,367.67ZM172.58,368.87L171.07,369.43L171.50,367.68ZM184.63,368.82L183.14,369.41L183.53,367.65ZM196.64,368.74L195.21,369.39L195.53,367.62ZM208.68,368.66L207.29,369.37L207.55,367.59ZM220.77,368.63L219.38,369.36L219.61,367.57ZM232.81,368.61L231.44,369.35L231.65,367.57ZM244.65,368.53L243.41,369.32L243.56,367.53ZM256.47,368.43L255.37,369.30L255.43,367.50ZM268.43,368.44L267.37,369.30L267.45,367.50ZM279.97,368.57L278.97,369.25L279.40,367.50ZM291.16,368.73L290.62,367.76L292.25,368.51ZM302.83,368.82L302.91,367.62L304.01,369.05ZM314.71,368.93L314.90,367.68L315.95,369.14ZM326.56,369.04L326.88,367.74L327.88,369.24ZM338.62,369.03L338.96,367.74L339.94,369.24ZM350.37,369.17L350.87,367.82L351.80,369.36ZM362.20,369.28L362.82,367.88L363.72,369.44ZM373.88,369.36L374.72,367.93L375.53,369.54ZM386.01,369.41L386.80,367.95L387.66,369.54ZM398.11,369.48L398.85,368.00L399.76,369.55ZM410.03,369.50L410.85,368.01L411.73,369.58ZM422.18,369.41L422.99,367.96L423.84,369.54ZM434.21,369.41L435.05,367.96L435.88,369.55ZM446.13,369.48L447.03,368.00L447.86,369.60ZM458.27,369.38L459.17,367.94L459.95,369.56ZM470.43,369.12L471.39,367.80L472.02,369.48ZM482.38,368.99L483.46,367.74L483.96,369.47ZM494.45,368.92L495.57,367.71L496.02,369.45ZM506.63,368.78L507.75,367.64L508.11,369.40ZM518.59,368.69L519.81,367.60L520.07,369.38ZM530.51,368.72L531.79,367.62L532.05,369.40ZM542.45,368.81L543.76,367.66L544.07,369.43ZM554.70,368.62L556.00,367.58L556.19,369.37ZM566.75,368.98L567.90,367.73L568.37,369.47ZM578.66,369.42L579.73,367.97L580.46,369.61ZM590.84,369.24L591.91,367.87L592.55,369.55ZM602.75,369.59L603.78,368.06L604.59,369.67ZM614.65,369.92L615.68,368.26L616.61,369.80ZM626.81,369.75L627.84,368.16L628.71,369.73ZM99.83,356.96L98.36,357.35L99.02,355.68ZM111.90,356.97L110.42,357.35L111.09,355.68ZM123.98,356.96L122.51,357.35L123.16,355.67ZM136.12,356.92L134.64,357.35L135.23,355.65ZM148.31,356.90L146.80,357.37L147.34,355.65ZM160.48,356.94L158.92,357.39L159.48,355.67ZM172.57,356.97L171.00,357.39L171.57,355.69ZM184.62,356.92L183.07,357.38L183.60,355.66ZM196.63,356.77L195.15,357.34L195.58,355.59ZM208.69,356.65L207.26,357.31L207.58,355.54ZM220.81,356.63L219.38,357.31L219.67,355.53ZM232.91,356.64L231.47,357.31L231.76,355.54ZM244.88,356.56L243.50,357.29L243.74,355.50ZM256.83,356.41L255.57,357.25L255.66,355.45ZM268.77,356.39L267.57,357.24L267.65,355.44ZM280.43,356.45L279.34,357.24L279.55,355.45ZM291.98,356.53L290.96,357.15L291.50,355.43ZM303.81,356.55L302.76,357.00L303.63,355.43ZM315.78,356.58L314.69,356.85L315.83,355.46ZM327.26,356.75L326.87,355.67L328.40,356.63ZM338.95,356.89L339.01,355.64L340.19,357.00ZM350.45,357.23L350.82,355.83L351.89,357.28ZM362.44,357.29L362.84,355.87L363.92,357.31ZM374.27,357.31L374.85,355.87L375.82,357.38ZM386.26,357.62L386.76,356.06L387.88,357.47ZM398.26,357.53L398.84,356.00L399.89,357.47ZM410.11,357.58L410.83,356.03L411.82,357.53ZM422.38,357.37L423.04,355.91L423.99,357.44ZM434.41,357.38L435.10,355.91L436.03,357.45ZM446.30,357.59L447.03,356.03L448.02,357.54ZM458.46,357.44L459.19,355.94L460.12,357.48ZM470.73,357.03L471.51,355.71L472.23,357.36ZM482.82,356.92L483.65,355.65L484.27,357.34ZM494.89,356.87L495.75,355.63L496.33,357.33ZM507.00,356.64L507.97,355.52L508.32,357.29ZM519.15,356.41L520.22,355.45L520.33,357.24ZM531.23,356.34L532.34,355.42L532.36,357.22ZM542.99,356.08L544.36,355.35L544.11,357.14ZM554.93,355.74L556.47,355.26L555.95,356.98ZM567.02,356.11L568.41,355.36L568.21,357.15ZM579.05,356.32L580.36,355.42L580.36,357.22ZM591.09,356.50L592.33,355.48L592.49,357.28ZM602.82,357.33L603.88,355.89L604.60,357.54ZM614.62,357.92L615.65,356.23L616.59,357.76ZM626.85,357.53L627.91,356.00L628.71,357.61ZM99.81,344.91L98.34,345.28L99.02,343.61ZM111.89,344.90L110.42,345.28L111.09,343.61ZM123.96,344.91L122.49,345.28L123.16,343.61ZM136.08,344.90L134.59,345.29L135.25,343.61ZM148.28,344.88L146.76,345.30L147.36,343.61ZM160.47,344.89L158.91,345.32L159.48,343.61ZM172.57,344.90L171.00,345.32L171.57,343.62ZM184.61,344.87L183.06,345.31L183.61,343.60ZM196.62,344.75L195.13,345.28L195.60,343.54ZM208.70,344.62L207.26,345.25L207.61,343.49ZM220.82,344.57L219.38,345.24L219.68,343.47ZM232.92,344.57L231.47,345.24L231.76,343.47ZM244.94,344.46L243.56,345.21L243.76,343.42ZM257.05,344.26L255.74,345.15L255.75,343.35ZM269.09,344.26L267.79,345.15L267.81,343.35ZM280.84,344.33L279.63,345.17L279.72,343.37ZM292.49,344.37L291.41,345.16L291.60,343.37ZM304.45,344.34L303.44,345.16L303.59,343.36ZM316.72,344.26L315.69,345.15L315.71,343.35ZM328.68,344.29L327.67,345.16L327.73,343.36ZM339.77,344.57L338.67,344.42L340.26,343.57ZM350.88,344.93L351.00,343.64L352.18,345.00ZM362.71,345.04L362.98,343.70L364.08,345.12ZM374.76,345.03L375.06,343.69L376.14,345.13ZM386.51,345.29L386.93,343.84L388.02,345.27ZM398.33,345.36L398.90,343.88L399.93,345.36ZM410.13,345.51L410.83,343.96L411.83,345.46ZM422.54,345.23L423.12,343.80L424.09,345.32ZM434.56,345.26L435.17,343.81L436.13,345.33ZM446.32,345.52L447.03,343.96L448.03,345.47ZM458.55,345.34L459.22,343.86L460.18,345.39ZM470.89,344.90L471.60,343.61L472.33,345.25ZM482.83,344.89L483.63,343.60L484.30,345.28ZM494.91,344.88L495.71,343.60L496.37,345.27ZM507.17,344.53L508.07,343.43L508.42,345.20ZM519.34,344.26L520.38,343.35L520.39,345.15ZM531.42,344.25L532.46,343.35L532.46,345.15ZM543.22,343.85L544.58,343.27L544.14,345.01ZM554.97,343.60L556.52,343.18L555.94,344.88ZM567.13,343.78L568.59,343.23L568.13,344.97ZM579.07,344.06L580.46,343.29L580.28,345.08ZM591.15,344.07L592.53,343.30L592.36,345.09ZM602.98,344.36L604.33,343.39L604.42,345.19ZM614.92,344.95L616.08,343.65L616.61,345.37ZM626.70,345.21L627.93,343.79L628.56,345.48ZM99.72,332.95L98.24,333.21L99.05,331.60ZM111.80,332.94L110.32,333.21L111.12,331.59ZM123.89,332.94L122.40,333.21L123.19,331.59ZM136.03,332.91L134.53,333.22L135.27,331.58ZM148.21,332.88L146.69,333.24L147.37,331.57ZM160.36,332.88L158.81,333.25L159.47,331.57ZM172.45,332.88L170.91,333.25L171.54,331.57ZM184.52,332.83L182.99,333.24L183.59,331.54ZM196.61,332.71L195.11,333.22L195.61,331.49ZM208.71,332.60L207.25,333.19L207.64,331.44ZM220.82,332.55L219.36,333.19L219.70,331.42ZM232.91,332.51L231.46,333.18L231.76,331.40ZM244.99,332.37L243.60,333.14L243.77,331.35ZM257.07,332.21L255.74,333.09L255.77,331.29ZM269.13,332.20L267.81,333.09L267.83,331.29ZM281.02,332.25L279.75,333.10L279.82,331.30ZM292.81,332.25L291.64,333.10L291.73,331.30ZM304.76,332.22L303.66,333.09L303.72,331.29ZM316.78,332.19L315.72,333.08L315.74,331.28ZM328.80,332.20L327.76,333.08L327.79,331.28ZM340.44,332.27L339.50,333.07L339.69,331.28ZM351.94,332.36L350.92,332.76L351.91,331.26ZM363.86,332.37L362.78,332.35L364.30,331.39ZM376.00,332.36L374.94,332.59L376.19,331.29ZM387.72,332.50L387.19,331.53L388.82,332.31ZM399.21,332.75L399.36,331.50L400.46,332.92ZM410.96,332.90L411.31,331.58L412.32,333.06ZM423.09,332.82L423.44,331.53L424.41,333.04ZM435.05,332.96L435.40,331.61L436.43,333.09ZM446.92,333.19L447.31,331.75L448.41,333.18ZM459.03,333.04L459.47,331.66L460.48,333.15ZM471.18,332.72L471.76,331.47L472.50,333.11ZM483.16,332.67L483.84,331.45L484.48,333.13ZM495.22,332.63L495.93,331.43L496.53,333.13ZM507.37,332.37L508.23,331.32L508.51,333.10ZM519.56,332.01L520.64,331.27L520.37,333.05ZM531.66,331.88L532.82,331.27L532.33,333.01ZM543.50,331.47L544.91,331.22L544.04,332.79ZM555.56,330.89L557.09,331.14L555.82,332.42ZM567.41,331.34L568.91,331.14L568.05,332.72ZM579.06,331.22L580.71,331.03L579.91,332.65ZM591.31,331.73L592.75,331.17L592.30,332.91ZM602.88,332.17L604.32,331.28L604.32,333.08ZM615.26,332.42L616.46,331.37L616.68,333.15ZM627.04,332.93L628.16,331.61L628.73,333.31ZM99.57,321.05L98.08,321.12L99.10,319.63ZM111.60,321.07L110.11,321.11L111.17,319.65ZM123.74,321.03L122.24,321.12L123.23,319.62ZM135.97,320.94L134.46,321.15L135.30,319.56ZM148.17,320.89L146.64,321.17L147.39,319.54ZM160.25,320.96L158.69,321.19L159.50,319.58ZM172.28,321.03L170.72,321.19L171.59,319.62ZM184.42,320.91L182.87,321.19L183.63,319.55ZM196.61,320.69L195.09,321.16L195.63,319.44ZM208.76,320.57L207.26,321.14L207.68,319.39ZM220.87,320.62L219.34,321.15L219.79,319.41ZM232.94,320.67L231.39,321.17L231.89,319.43ZM245.12,320.40L243.63,321.10L243.89,319.32ZM257.46,320.16L255.96,321.03L256.00,319.23ZM269.49,320.14L268.02,321.02L268.04,319.22ZM281.24,320.17L279.89,321.03L279.94,319.23ZM293.06,320.16L291.81,321.02L291.86,319.22ZM305.22,320.13L303.95,321.01L303.96,319.21ZM317.65,320.11L316.24,321.01L316.24,319.21ZM329.58,320.10L328.23,321.01L328.22,319.21ZM341.05,320.03L340.00,320.99L339.90,319.19ZM352.75,319.89L351.99,320.96L351.63,319.20ZM364.99,319.81L364.20,320.93L363.77,319.18ZM377.60,319.94L376.45,320.95L376.27,319.16ZM389.25,319.96L388.28,320.97L388.08,319.18ZM399.66,320.53L399.33,319.43L400.80,320.46ZM411.06,321.02L411.20,319.64L412.44,320.95ZM423.41,320.60L423.57,319.37L424.63,320.83ZM435.27,320.95L435.39,319.60L436.62,320.91ZM446.96,321.67L447.11,320.07L448.50,321.20ZM459.17,321.29L459.34,319.82L460.63,321.06ZM471.46,320.55L471.90,319.34L472.68,320.96ZM483.72,320.44L484.09,319.28L484.85,320.91ZM495.73,320.46L496.14,319.29L496.88,320.93ZM507.46,320.38L508.21,319.27L508.62,321.03ZM519.85,319.67L521.06,319.31L520.19,320.88ZM532.06,319.47L533.32,319.44L532.06,320.73ZM543.71,319.61L544.99,319.21L544.23,320.84ZM555.73,319.22L557.15,319.19L556.03,320.61ZM568.32,319.47L569.57,319.47L568.27,320.72ZM579.97,319.46L581.30,319.23L580.34,320.76ZM592.65,319.08L593.85,319.63L592.18,320.31ZM604.79,319.05L605.95,319.69L604.24,320.25ZM616.05,319.97L617.13,319.19L616.92,320.98ZM627.98,320.43L628.79,319.31L629.22,321.05ZM99.54,309.02L98.05,309.04L99.11,307.59ZM111.57,309.02L110.09,309.03L111.17,307.59ZM123.70,309.02L122.20,309.05L123.25,307.59ZM135.95,308.93L134.43,309.09L135.33,307.53ZM148.20,308.83L146.66,309.11L147.41,307.48ZM160.26,308.91L158.70,309.12L159.51,307.52ZM172.25,309.01L170.68,309.12L171.60,307.58ZM184.44,308.86L182.88,309.12L183.64,307.49ZM196.65,308.62L195.12,309.09L195.65,307.37ZM208.84,308.49L207.32,309.07L207.71,307.31ZM220.92,308.57L219.37,309.09L219.83,307.35ZM232.92,308.69L231.35,309.12L231.92,307.41ZM245.16,308.35L243.65,309.04L243.92,307.26ZM257.59,308.05L256.06,308.94L256.07,307.14ZM269.59,308.05L268.08,308.94L268.09,307.14ZM281.34,308.09L279.95,308.96L279.99,307.16ZM293.20,308.08L291.90,308.95L291.94,307.15ZM305.38,308.04L304.05,308.94L304.05,307.14ZM317.91,308.04L316.39,308.94L316.39,307.14ZM329.81,308.03L328.37,308.94L328.36,307.14ZM341.35,307.85L340.22,308.88L340.03,307.09ZM353.16,307.52L352.37,308.75L351.77,307.05ZM365.43,307.33L364.61,308.65L363.92,306.99ZM378.03,307.93L376.65,308.90L376.56,307.10ZM389.82,307.66L388.69,308.80L388.35,307.03ZM399.58,308.44L399.42,307.29L400.73,308.53ZM410.74,309.31L410.99,307.79L412.26,309.07ZM423.70,308.18L424.02,307.11L424.64,308.80ZM435.72,308.29L435.89,307.16L436.78,308.72ZM447.10,309.37L447.21,307.86L448.58,309.02ZM459.38,308.89L459.52,307.54L460.74,308.86ZM471.61,308.26L472.15,307.17L472.65,308.89ZM483.64,308.40L484.06,307.22L484.80,308.87ZM495.16,308.83L495.70,307.47L496.61,309.03ZM507.03,308.86L507.69,307.49L508.53,309.08ZM519.50,308.15L520.39,307.16L520.56,308.95ZM531.70,307.93L532.72,307.13L532.52,308.92ZM543.51,308.31L544.34,307.22L544.72,308.98ZM556.11,307.93L557.05,307.16L556.78,308.94ZM568.92,307.39L569.83,308.15L568.03,308.17ZM580.60,307.46L581.79,307.60L580.31,308.63ZM592.85,306.96L593.92,307.72L592.16,308.07ZM604.96,306.86L606.00,307.71L604.22,307.98ZM616.83,306.91L618.00,307.57L616.29,308.14ZM628.93,307.11L630.09,307.65L628.41,308.28ZM99.61,297.06L98.08,297.01L99.18,295.59ZM111.69,297.12L110.15,297.03L111.28,295.63ZM123.77,297.05L122.24,297.02L123.32,295.58ZM135.98,296.92L134.44,297.04L135.37,295.50ZM148.26,296.75L146.70,297.05L147.42,295.40ZM160.59,296.51L159.03,297.03L159.49,295.29ZM172.84,296.35L171.27,296.99L171.58,295.22ZM184.74,296.49L183.18,297.02L183.62,295.28ZM196.75,296.48L195.22,297.01L195.66,295.27ZM208.95,296.33L207.42,296.98L207.73,295.21ZM221.25,296.17L219.70,296.94L219.85,295.15ZM233.50,296.03L231.93,296.89L231.97,295.09ZM245.29,296.12L243.80,296.92L243.92,295.12ZM257.11,295.98L255.77,296.87L255.79,295.07ZM269.20,295.99L267.85,296.88L267.87,295.08ZM281.28,296.03L279.91,296.89L279.96,295.09ZM293.23,296.01L291.91,296.88L291.95,295.08ZM305.25,295.97L303.98,296.87L303.98,295.07ZM317.15,295.97L315.95,296.87L315.95,295.07ZM329.27,295.94L328.06,296.86L328.03,295.06ZM341.34,295.64L340.29,296.76L339.96,294.99ZM353.33,295.19L352.57,296.54L351.80,294.91ZM365.47,294.66L364.89,296.23L363.81,294.79ZM377.74,293.78L377.28,295.66L375.93,294.47ZM389.57,293.93L389.24,295.74L387.86,294.59ZM400.80,294.24L401.03,295.80L399.42,295.01ZM412.39,295.01L412.89,296.20L411.22,295.55ZM424.65,294.80L425.01,296.13L423.39,295.35ZM436.60,294.96L437.04,296.20L435.39,295.48ZM448.76,294.83L449.15,296.13L447.51,295.38ZM460.20,295.43L461.22,295.99L459.45,296.31ZM471.91,295.49L473.10,295.43L471.80,296.67ZM483.46,296.06L484.28,295.08L484.44,296.87ZM494.63,297.18L495.35,295.65L496.32,297.16ZM506.80,297.01L507.52,295.55L508.43,297.10ZM518.93,296.82L519.69,295.44L520.49,297.05ZM530.88,297.17L531.57,295.64L532.55,297.15ZM542.67,297.77L543.35,296.01L544.51,297.39ZM555.01,297.53L555.58,295.87L556.74,297.25ZM567.84,296.64L568.25,295.34L569.19,296.87ZM580.86,295.14L581.89,295.82L580.11,296.13ZM593.52,294.25L594.08,295.68L592.34,295.22ZM605.01,294.57L606.00,295.56L604.21,295.73ZM617.21,294.02L618.11,295.33L616.31,295.33ZM629.26,294.67L630.18,295.70L628.38,295.72ZM99.63,285.03L98.09,284.96L99.20,283.54ZM111.70,285.06L110.15,284.96L111.29,283.57ZM123.81,285.01L122.26,284.97L123.34,283.53ZM136.02,284.97L134.44,285.00L135.43,283.50ZM148.20,284.86L146.61,285.00L147.49,283.43ZM160.64,284.41L159.07,284.95L159.50,283.21ZM172.87,284.24L171.31,284.92L171.58,283.14ZM184.83,284.33L183.27,284.94L183.63,283.17ZM196.79,284.37L195.26,284.94L195.66,283.19ZM208.98,284.24L207.45,284.91L207.73,283.13ZM221.33,284.02L219.77,284.85L219.87,283.05ZM233.54,283.92L231.96,284.81L231.98,283.01ZM245.33,284.03L243.83,284.85L243.93,283.05ZM257.15,284.05L255.74,284.85L255.87,283.05ZM269.19,284.04L267.79,284.84L267.92,283.05ZM281.24,284.03L279.86,284.84L279.97,283.04ZM293.26,283.98L291.92,284.82L291.99,283.03ZM305.28,283.91L303.99,284.80L304.00,283.00ZM317.33,283.87L316.07,284.79L316.04,282.99ZM329.37,283.78L328.16,284.76L328.05,282.97ZM341.36,283.42L340.38,284.62L339.91,282.88ZM353.39,283.05L352.63,284.43L351.83,282.82ZM365.55,282.45L364.97,284.07L363.85,282.66ZM377.52,281.92L377.16,283.71L375.80,282.53ZM389.18,281.30L389.22,283.23L387.61,282.42ZM400.93,280.98L401.22,282.95L399.51,282.38ZM412.81,282.18L413.09,283.72L411.46,282.97ZM424.74,282.61L425.05,284.00L423.44,283.19ZM436.73,282.70L437.09,284.04L435.46,283.27ZM448.82,282.65L449.18,284.00L447.55,283.24ZM460.43,282.77L461.21,283.84L459.43,283.63ZM472.51,282.14L473.31,283.44L471.51,283.30ZM484.50,282.16L485.36,283.41L483.56,283.35ZM495.39,283.83L496.41,282.99L496.30,284.79ZM506.76,284.72L507.60,283.35L508.34,284.99ZM518.40,285.18L519.32,283.62L520.21,285.19ZM530.48,285.61L531.26,283.88L532.35,285.31ZM542.19,286.50L542.99,284.43L544.26,285.70ZM554.26,286.50L555.06,284.43L556.33,285.70ZM567.63,285.20L567.89,283.67L569.16,284.94ZM580.52,283.69L581.54,283.16L580.81,284.80ZM593.49,282.26L594.06,283.65L592.32,283.20ZM604.84,282.99L605.97,283.56L604.27,284.12ZM616.95,282.59L618.04,283.45L616.27,283.80ZM628.95,282.79L630.09,283.48L628.37,283.99ZM99.61,272.94L98.07,272.88L99.19,271.46ZM111.70,272.96L110.15,272.89L111.27,271.47ZM123.86,272.94L122.30,272.91L123.36,271.46ZM136.03,272.99L134.43,272.95L135.48,271.49ZM148.11,272.98L146.51,272.95L147.54,271.48ZM160.40,272.62L158.82,272.92L159.52,271.27ZM172.64,272.39L171.08,272.89L171.56,271.16ZM184.70,272.37L183.15,272.89L183.62,271.15ZM196.76,272.35L195.22,272.88L195.67,271.14ZM208.90,272.27L207.36,272.86L207.74,271.10ZM221.08,272.18L219.54,272.84L219.82,271.06ZM233.19,272.12L231.65,272.83L231.89,271.04ZM245.13,272.10L243.65,272.82L243.88,271.03ZM257.07,272.03L255.67,272.79L255.85,271.00ZM269.14,272.03L267.74,272.79L267.92,271.00ZM281.26,272.03L279.84,272.79L280.02,271.00ZM293.34,271.96L291.94,272.77L292.06,270.98ZM305.38,271.87L304.04,272.74L304.07,270.94ZM317.41,271.83L316.10,272.73L316.10,270.93ZM329.47,271.81L328.18,272.72L328.16,270.92ZM341.38,271.41L340.36,272.57L339.95,270.82ZM353.30,271.18L352.49,272.47L351.82,270.80ZM365.69,269.88L365.16,271.68L363.89,270.41ZM377.98,270.05L377.26,271.80L376.12,270.41ZM389.79,269.77L389.32,271.61L388.00,270.38ZM401.33,269.61L401.26,271.43L399.73,270.48ZM413.13,270.02L413.18,271.67L411.64,270.73ZM424.96,270.39L425.11,271.88L423.57,270.95ZM436.79,270.54L437.12,271.92L435.50,271.13ZM448.58,270.54L449.17,271.80L447.43,271.32ZM460.31,270.33L461.20,271.46L459.40,271.45ZM472.61,269.73L473.35,271.20L471.56,270.99ZM484.74,269.64L485.44,271.17L483.66,270.92ZM495.22,271.45L496.49,270.89L495.99,272.61ZM506.91,272.24L507.87,271.08L508.31,272.82ZM518.53,272.98L519.42,271.47L520.28,273.06ZM530.29,273.60L531.17,271.85L532.23,273.30ZM542.25,273.78L543.15,271.95L544.25,273.38ZM554.74,273.80L555.37,271.99L556.60,273.30ZM567.26,273.58L567.65,271.87L568.95,273.11ZM579.69,272.96L580.03,271.48L581.20,272.84ZM591.86,272.74L592.22,271.34L593.30,272.78ZM603.79,272.87L604.20,271.42L605.29,272.85ZM616.29,271.65L617.34,270.94L616.99,272.70ZM628.54,270.91L629.86,271.12L628.46,272.25ZM99.53,260.97L98.01,260.80L99.21,259.46ZM111.59,261.02L110.06,260.80L111.30,259.50ZM123.77,260.93L122.22,260.82L123.36,259.43ZM136.02,260.88L134.43,260.87L135.45,259.39ZM148.14,260.83L146.54,260.87L147.52,259.36ZM160.41,260.51L158.84,260.85L159.51,259.18ZM172.56,260.41L170.99,260.84L171.57,259.13ZM184.63,260.39L183.07,260.83L183.63,259.12ZM196.72,260.34L195.17,260.82L195.68,259.10ZM208.83,260.31L207.27,260.82L207.76,259.08ZM220.90,260.34L219.34,260.82L219.84,259.10ZM232.95,260.37L231.38,260.83L231.91,259.11ZM245.08,260.24L243.54,260.80L243.95,259.05ZM257.13,260.06L255.66,260.75L255.93,258.97ZM269.21,260.05L267.75,260.75L268.00,258.97ZM281.36,260.07L279.86,260.76L280.12,258.98ZM293.49,259.98L292.00,260.74L292.19,258.94ZM305.59,259.89L304.12,260.70L304.23,258.91ZM317.56,259.83L316.16,260.68L316.22,258.88ZM329.60,259.92L328.17,260.71L328.31,258.92ZM341.54,260.10L340.09,260.76L340.40,258.98ZM353.50,259.72L352.26,260.65L352.22,258.85ZM365.37,260.08L364.03,260.73L364.37,258.97ZM377.76,257.81L377.23,259.61L375.96,258.34ZM389.83,257.49L389.38,259.40L388.01,258.22ZM401.78,257.84L401.33,259.62L400.02,258.38ZM413.40,257.97L413.23,259.66L411.81,258.56ZM425.33,257.95L425.27,259.62L423.79,258.61ZM437.04,258.16L437.22,259.70L435.65,258.83ZM448.60,258.06L449.22,259.44L447.46,259.07ZM460.32,257.40L461.21,258.89L459.41,258.87ZM471.96,257.77L473.11,258.90L471.35,259.27ZM482.82,259.76L483.99,258.86L483.99,260.66ZM494.56,259.76L495.87,258.86L495.87,260.66ZM507.02,259.77L508.16,258.86L508.17,260.66ZM519.08,260.22L519.96,259.02L520.46,260.75ZM530.69,261.05L531.47,259.49L532.44,261.01ZM542.60,261.38L543.38,259.69L544.45,261.13ZM555.00,261.63L555.49,259.86L556.76,261.13ZM566.98,262.36L567.37,260.34L568.81,261.42ZM579.26,261.77L579.63,259.97L580.99,261.15ZM591.20,261.86L591.64,260.02L592.98,261.21ZM603.23,261.94L603.68,260.06L605.03,261.25ZM616.10,259.49L617.26,258.85L616.84,260.60ZM628.61,257.88L629.90,258.83L628.21,259.44ZM99.50,248.93L97.98,248.72L99.22,247.41ZM111.57,248.99L110.04,248.73L111.31,247.46ZM123.68,248.90L122.15,248.73L123.36,247.39ZM135.95,248.70L134.40,248.76L135.38,247.25ZM148.20,248.54L146.64,248.77L147.44,247.16ZM160.46,248.36L158.90,248.77L159.50,247.07ZM172.57,248.34L171.00,248.77L171.57,247.06ZM184.63,248.33L183.07,248.76L183.63,247.05ZM196.70,248.32L195.14,248.76L195.70,247.05ZM208.80,248.32L207.23,248.76L207.78,247.05ZM220.86,248.33L219.29,248.77L219.85,247.06ZM232.92,248.34L231.35,248.77L231.92,247.06ZM245.10,248.31L243.51,248.77L244.02,247.05ZM257.36,248.31L255.70,248.79L256.18,247.05ZM269.44,248.29L267.79,248.78L268.25,247.04ZM281.53,248.16L279.91,248.75L280.28,246.98ZM293.72,248.04L292.10,248.71L292.36,246.93ZM306.04,247.97L304.35,248.70L304.53,246.91ZM318.49,248.00L316.64,248.71L316.83,246.92ZM330.14,248.15L328.40,248.76L328.72,246.99ZM341.55,248.66L339.89,248.84L340.70,247.23ZM353.62,248.66L351.96,248.84L352.76,247.23ZM365.74,247.61L364.45,248.56L364.38,246.76ZM378.43,246.70L377.19,248.13L376.55,246.45ZM390.34,246.34L389.31,247.93L388.45,246.35ZM401.93,246.09L401.29,247.77L400.15,246.37ZM413.40,245.81L413.26,247.53L411.81,246.46ZM425.39,245.75L425.32,247.47L423.83,246.47ZM437.25,245.85L437.32,247.50L435.77,246.58ZM448.76,245.62L449.29,247.19L447.54,246.74ZM460.50,244.58L461.28,246.43L459.48,246.31ZM472.64,243.94L473.39,246.06L471.60,245.93ZM483.79,246.72L485.09,247.04L483.59,248.04ZM494.89,247.69L496.06,246.79L496.06,248.59ZM506.96,247.69L508.13,246.79L508.13,248.59ZM519.31,248.15L520.05,246.95L520.64,248.65ZM531.35,248.24L532.05,246.99L532.72,248.66ZM543.28,248.57L543.88,247.18L544.79,248.73ZM555.26,249.05L555.72,247.48L556.89,248.85ZM567.19,249.60L567.59,247.83L568.92,249.04ZM579.33,249.30L579.76,247.64L581.01,248.93ZM591.30,249.34L591.79,247.65L593.01,248.97ZM603.37,249.23L603.89,247.58L605.07,248.94ZM615.87,247.75L616.89,246.80L616.96,248.60ZM628.45,246.21L629.82,246.82L628.26,247.71ZM99.43,236.64L97.96,236.59L99.11,235.20ZM111.52,236.70L110.03,236.61L111.21,235.25ZM123.64,236.62L122.15,236.61L123.25,235.19ZM135.89,236.49L134.39,236.65L135.30,235.10ZM148.20,236.36L146.67,236.68L147.38,235.03ZM160.46,236.25L158.91,236.69L159.47,234.98ZM172.58,236.23L171.02,236.69L171.56,234.97ZM184.65,236.23L183.09,236.69L183.63,234.97ZM196.70,236.28L195.13,236.70L195.71,234.99ZM208.78,236.33L207.19,236.71L207.81,235.02ZM220.85,236.36L219.26,236.72L219.89,235.03ZM232.95,236.35L231.35,236.72L231.97,235.03ZM245.22,236.33L243.56,236.74L244.12,235.02ZM257.40,236.27L255.72,236.73L256.22,235.00ZM269.50,236.27L267.81,236.73L268.30,235.00ZM281.72,236.21L280.00,236.72L280.41,234.97ZM293.96,236.11L292.21,236.70L292.54,234.93ZM306.32,236.00L304.49,236.67L304.72,234.88ZM318.67,235.95L316.75,236.66L316.93,234.87ZM330.56,235.98L328.70,236.67L328.91,234.88ZM341.82,236.22L340.18,236.71L340.65,234.97ZM353.78,236.11L352.21,236.67L352.62,234.91ZM366.16,235.41L364.74,236.44L364.58,234.64ZM378.95,234.96L377.34,236.22L376.97,234.46ZM390.87,234.81L389.38,236.15L388.91,234.41ZM402.31,234.16L401.38,235.79L400.43,234.26ZM413.87,233.79L413.38,235.54L412.11,234.26ZM425.61,233.65L425.39,235.41L423.96,234.31ZM437.51,233.34L437.47,235.17L435.92,234.26ZM449.14,233.16L449.43,234.96L447.74,234.34ZM460.63,232.91L461.33,234.64L459.54,234.42ZM472.32,233.17L473.25,234.67L471.45,234.70ZM483.81,234.48L485.10,234.96L483.53,235.83ZM495.44,235.28L496.63,234.72L496.09,236.43ZM507.37,235.67L508.33,234.73L508.41,236.53ZM519.36,236.23L519.97,234.95L520.73,236.58ZM531.56,235.97L532.26,234.82L532.78,236.54ZM543.52,236.13L544.17,234.90L544.85,236.57ZM555.31,236.55L555.92,235.14L556.85,236.68ZM567.32,236.71L567.90,235.23L568.91,236.72ZM579.26,236.84L579.87,235.31L580.91,236.79ZM590.64,237.48L591.50,235.69L592.59,237.12ZM602.60,237.57L603.50,235.74L604.60,237.17ZM614.99,237.24L615.78,235.55L616.85,237.00ZM626.47,238.05L627.43,236.03L628.61,237.39ZM99.24,224.26L97.89,224.43L98.91,222.94ZM111.27,224.22L109.94,224.41L110.94,222.92ZM123.44,224.27L122.07,224.45L123.06,222.95ZM135.80,224.30L134.36,224.54L135.21,222.96ZM148.21,224.21L146.71,224.60L147.35,222.92ZM160.60,224.04L159.05,224.59L159.47,222.84ZM172.82,223.93L171.26,224.57L171.57,222.80ZM184.75,224.06L183.19,224.60L183.62,222.85ZM196.69,224.23L195.12,224.63L195.72,222.93ZM208.74,224.37L207.13,224.66L207.84,223.01ZM220.70,224.48L219.10,224.66L219.92,223.07ZM232.69,224.52L231.10,224.66L231.98,223.09ZM245.26,224.45L243.54,224.72L244.21,223.05ZM258.06,224.25L256.14,224.72L256.56,222.97ZM270.13,224.24L268.22,224.71L268.62,222.96ZM282.03,224.26L280.17,224.71L280.61,222.97ZM294.29,224.25L292.36,224.72L292.77,222.97ZM306.64,224.10L304.65,224.68L304.95,222.90ZM319.08,223.92L316.99,224.61L317.17,222.82ZM330.98,223.91L328.96,224.60L329.14,222.81ZM342.35,223.87L340.61,224.57L340.81,222.79ZM354.24,223.68L352.63,224.50L352.72,222.70ZM366.67,223.41L364.99,224.39L364.91,222.59ZM379.32,223.34L377.42,224.36L377.31,222.56ZM391.17,222.89L389.49,224.15L389.14,222.38ZM402.78,221.22L401.79,223.20L400.65,221.81ZM414.67,221.07L413.82,223.10L412.59,221.78ZM426.09,221.03L425.65,223.02L424.24,221.91ZM438.02,220.05L437.81,222.36L436.22,221.52ZM449.82,220.22L449.76,222.44L448.13,221.66ZM460.85,219.95L461.44,222.08L459.66,221.81ZM472.69,219.42L473.42,221.70L471.62,221.56ZM484.33,221.73L485.30,222.93L483.51,223.04ZM495.88,223.76L496.33,222.66L496.91,224.37ZM507.97,223.48L508.82,222.67L508.62,224.46ZM519.94,223.23L521.06,222.75L520.32,224.39ZM531.90,223.40L532.90,222.67L532.57,224.44ZM543.35,224.15L544.06,222.88L544.75,224.54ZM554.38,225.33L555.29,223.57L556.34,225.03ZM566.78,224.95L567.60,223.34L568.59,224.85ZM579.15,224.62L579.90,223.14L580.80,224.70ZM590.09,225.87L591.17,223.89L592.27,225.31ZM602.01,226.03L603.14,223.99L604.26,225.40ZM614.89,225.39L615.69,223.61L616.80,225.02ZM626.49,226.00L627.43,223.97L628.62,225.33ZM99.19,212.14L97.87,212.34L98.86,210.84ZM111.25,212.13L109.93,212.33L110.92,210.83ZM123.38,212.15L122.04,212.36L123.02,210.85ZM135.74,212.19L134.32,212.45L135.17,210.87ZM148.16,212.15L146.66,212.52L147.33,210.85ZM160.51,212.02L158.97,212.53L159.45,210.79ZM172.86,211.83L171.30,212.50L171.57,210.72ZM184.64,212.04L183.10,212.54L183.60,210.81ZM196.63,212.22L195.06,212.57L195.72,210.89ZM208.73,212.39L207.10,212.61L207.88,210.99ZM220.67,212.49L219.06,212.60L219.95,211.04ZM232.61,212.46L231.04,212.57L231.96,211.03ZM245.28,212.70L243.48,212.74L244.34,211.16ZM258.28,212.18L256.28,212.66L256.67,210.90ZM270.35,212.18L268.35,212.66L268.74,210.90ZM282.27,212.36L280.29,212.72L280.79,210.99ZM294.79,212.54L292.61,212.81L293.13,211.09ZM307.05,212.48L304.81,212.80L305.28,211.06ZM319.31,211.85L317.13,212.54L317.30,210.75ZM331.28,211.86L329.13,212.55L329.32,210.76ZM342.68,211.89L340.79,212.54L341.02,210.76ZM354.67,211.76L352.84,212.49L353.01,210.70ZM367.21,211.85L365.18,212.54L365.37,210.75ZM379.64,211.50L377.54,212.39L377.55,210.59ZM391.45,210.98L389.60,212.15L389.35,210.37ZM402.90,208.75L401.92,210.88L400.70,209.56ZM414.88,208.75L413.95,210.88L412.71,209.58ZM426.29,208.76L425.76,210.84L424.36,209.71ZM438.11,207.67L437.87,210.11L436.27,209.29ZM450.24,207.89L449.94,210.26L448.37,209.38ZM461.49,208.05L461.68,210.24L459.98,209.65ZM472.86,207.74L473.48,209.91L471.70,209.67ZM484.78,209.29L485.45,210.83L483.67,210.55ZM496.21,210.93L497.37,211.17L495.78,212.03ZM508.75,209.58L509.53,210.95L507.74,210.79ZM520.82,209.53L521.60,210.91L519.81,210.76ZM532.37,210.60L533.54,211.10L531.86,211.76ZM543.45,211.85L544.25,210.69L544.73,212.43ZM554.05,213.60L555.08,211.70L556.16,213.14ZM566.68,212.83L567.58,211.24L568.50,212.78ZM579.19,211.99L580.18,210.78L580.67,212.51ZM591.05,212.59L591.90,211.10L592.76,212.68ZM602.93,212.97L603.76,211.33L604.76,212.82ZM615.21,212.98L615.90,211.34L616.98,212.78ZM627.16,213.19L627.87,211.46L629.00,212.86ZM99.18,200.06L97.85,200.26L98.85,198.76ZM111.26,200.07L109.94,200.27L110.93,198.77ZM123.43,200.10L122.07,200.30L123.03,198.78ZM135.72,200.13L134.31,200.38L135.17,198.80ZM148.01,200.17L146.53,200.44L147.33,198.82ZM160.02,200.27L158.52,200.44L159.43,198.88ZM171.92,200.38L170.44,200.40L171.52,198.96ZM184.21,200.26L182.71,200.45L183.58,198.88ZM196.53,200.25L194.95,200.50L195.73,198.87ZM208.77,200.40L207.11,200.56L207.93,198.96ZM220.92,200.57L219.20,200.62L220.10,199.06ZM233.18,200.89L231.34,200.75L232.35,199.25ZM245.32,201.03L243.44,200.80L244.49,199.33ZM257.91,200.82L255.90,200.81L256.71,199.20ZM270.14,200.59L268.11,200.75L268.78,199.08ZM282.37,200.53L280.30,200.74L280.91,199.05ZM295.09,200.67L292.76,200.84L293.33,199.13ZM307.28,200.71L304.90,200.86L305.47,199.16ZM319.04,200.66L316.78,200.83L317.38,199.13ZM330.95,200.56L328.77,200.78L329.34,199.07ZM342.72,200.17L340.72,200.61L341.15,198.86ZM354.87,199.95L352.90,200.53L353.20,198.75ZM367.56,200.31L365.28,200.70L365.69,198.94ZM379.61,200.27L377.35,200.68L377.74,198.93ZM391.11,198.64L389.49,199.95L389.07,198.20ZM403.20,196.49L402.08,198.70L400.88,197.37ZM414.93,197.04L413.90,199.04L412.77,197.64ZM426.40,197.09L425.73,199.04L424.45,197.77ZM438.36,196.32L437.89,198.53L436.42,197.49ZM450.83,195.84L450.18,198.26L448.73,197.20ZM462.47,196.12L462.04,198.40L460.54,197.41ZM473.93,196.11L473.88,198.31L472.25,197.55ZM485.95,196.09L485.94,198.30L484.30,197.55ZM497.33,196.49L497.72,198.43L495.99,197.94ZM509.55,195.19L509.91,197.63L508.16,197.23ZM521.40,196.13L521.85,198.18L520.10,197.78ZM532.89,197.80L533.66,199.06L531.87,198.87ZM544.23,198.59L545.49,198.84L544.00,199.85ZM555.69,199.03L556.93,198.49L556.37,200.20ZM567.42,199.24L568.65,198.47L568.44,200.26ZM578.73,199.73L580.04,198.64L580.29,200.42ZM591.20,200.10L592.14,198.79L592.75,200.48ZM602.54,201.03L603.57,199.33L604.52,200.86ZM615.16,200.96L615.87,199.30L616.95,200.73ZM626.68,201.36L627.62,199.53L628.70,200.97ZM99.18,188.01L97.86,188.19L98.87,186.71ZM111.28,188.02L109.94,188.20L110.95,186.71ZM123.45,188.05L122.08,188.24L123.06,186.73ZM135.70,188.10L134.27,188.30L135.19,186.75ZM147.90,188.15L146.43,188.35L147.32,186.79ZM159.96,188.22L158.48,188.35L159.43,186.83ZM172.00,188.26L170.51,188.35L171.51,186.85ZM184.18,188.24L182.67,188.38L183.60,186.83ZM196.47,188.27L194.89,188.43L195.75,186.85ZM208.79,188.41L207.10,188.51L207.97,186.93ZM221.06,188.60L219.28,188.60L220.19,187.05ZM233.31,188.82L231.44,188.70L232.40,187.18ZM245.76,189.03L243.73,188.83L244.68,187.30ZM258.35,189.29L256.12,188.99L257.04,187.45ZM270.23,189.04L268.09,188.88L268.96,187.31ZM282.27,188.67L280.20,188.74L280.92,187.09ZM294.76,188.62L292.55,188.76L293.18,187.07ZM306.96,188.81L304.67,188.84L305.36,187.18ZM319.02,189.56L316.64,189.14L317.59,187.61ZM331.04,189.45L328.69,189.09L329.62,187.55ZM342.73,188.55L340.64,188.71L341.29,187.03ZM354.72,187.99L352.78,188.50L353.15,186.73ZM367.08,188.07L365.01,188.54L365.39,186.78ZM379.06,188.78L376.89,188.80L377.62,187.15ZM391.12,189.47L388.86,189.06L389.85,187.56ZM402.93,185.99L401.61,187.58L400.86,185.94ZM414.75,185.62L413.67,187.36L412.71,185.84ZM426.42,185.50L425.62,187.28L424.50,185.87ZM438.46,184.87L437.82,186.87L436.51,185.65ZM450.72,184.41L450.05,186.59L448.68,185.43ZM462.48,184.48L461.99,186.61L460.55,185.52ZM474.24,183.72L474.03,186.08L472.44,185.26ZM486.35,183.52L486.14,185.96L484.53,185.15ZM497.73,184.23L497.88,186.31L496.20,185.66ZM509.64,183.89L509.91,186.06L508.19,185.53ZM521.60,184.42L521.91,186.38L520.20,185.83ZM533.60,184.94L533.91,186.72L532.22,186.10ZM544.79,185.68L545.69,186.86L543.89,186.87ZM555.56,186.36L557.04,186.35L555.96,187.79ZM567.31,186.37L568.87,186.26L567.95,187.80ZM579.05,187.34L580.36,186.44L580.36,188.24ZM591.12,187.67L592.28,186.56L592.57,188.34ZM602.87,188.96L603.70,187.27L604.74,188.73ZM614.94,188.96L615.77,187.27L616.81,188.73ZM627.33,189.29L627.86,187.49L629.13,188.76ZM99.07,176.03L97.74,176.06L98.92,174.70ZM111.19,176.02L109.85,176.09L110.99,174.70ZM123.40,176.03L122.03,176.16L123.08,174.69ZM135.63,176.07L134.21,176.22L135.20,174.71ZM147.76,176.14L146.31,176.24L147.32,174.76ZM159.76,176.22L158.31,176.23L159.42,174.81ZM171.78,176.25L170.34,176.21L171.50,174.83ZM184.00,176.24L182.52,176.26L183.59,174.82ZM196.37,176.27L194.81,176.36L195.75,174.82ZM208.76,176.40L207.07,176.45L207.98,174.90ZM221.05,176.59L219.26,176.55L220.20,175.01ZM233.26,176.76L231.40,176.62L232.38,175.12ZM245.66,176.96L243.67,176.74L244.64,175.23ZM258.10,177.14L255.96,176.86L256.91,175.34ZM270.09,177.01L267.99,176.80L268.91,175.26ZM282.10,176.72L280.06,176.69L280.88,175.09ZM294.35,176.67L292.26,176.69L293.01,175.06ZM306.61,176.97L304.41,176.83L305.25,175.24ZM318.82,177.34L316.53,176.99L317.47,175.45ZM330.85,177.27L328.58,176.95L329.51,175.41ZM342.63,176.64L340.55,176.68L341.29,175.04ZM354.48,175.98L352.60,176.44L353.05,174.69ZM366.51,175.84L364.69,176.39L365.05,174.62ZM378.57,176.15L376.67,176.49L377.22,174.78ZM390.66,175.74L388.86,176.35L389.17,174.58ZM402.87,173.00L401.82,174.96L400.71,173.54ZM414.68,173.67L413.61,175.36L412.69,173.82ZM426.36,173.88L425.46,175.49L424.52,173.95ZM438.61,173.13L437.81,175.02L436.62,173.67ZM451.15,172.35L450.22,174.55L448.95,173.28ZM462.84,172.69L462.08,174.75L460.79,173.49ZM474.16,172.71L473.87,174.70L472.39,173.67ZM486.02,172.43L485.91,174.48L484.33,173.61ZM497.82,172.14L497.91,174.25L496.25,173.55ZM509.88,171.37L510.04,173.75L508.33,173.18ZM521.92,172.01L522.05,174.16L520.37,173.50ZM534.41,171.85L534.29,174.12L532.68,173.32ZM546.44,171.84L546.35,174.10L544.73,173.32ZM556.86,173.97L557.76,175.01L555.96,175.01ZM568.93,173.32L569.83,174.63L568.03,174.63ZM580.35,174.62L581.61,174.61L580.34,175.88ZM592.10,175.27L593.00,174.37L593.00,176.17ZM603.52,176.57L604.02,175.01L605.15,176.42ZM615.91,176.89L616.06,175.27L617.47,176.39ZM629.28,177.54L628.38,176.10L630.18,176.10ZM98.98,163.98L97.67,163.94L98.94,162.67ZM111.08,163.98L109.76,163.96L111.01,162.66ZM123.32,163.99L121.96,164.05L123.09,162.65ZM135.57,164.04L134.15,164.13L135.21,162.67ZM147.65,164.13L146.21,164.14L147.33,162.73ZM159.58,164.22L158.17,164.08L159.43,162.80ZM171.60,164.24L170.19,164.06L171.50,162.83ZM183.78,164.22L182.34,164.11L183.58,162.80ZM196.24,164.24L194.70,164.26L195.73,162.78ZM208.70,164.37L207.02,164.38L207.98,162.86ZM220.98,164.56L219.20,164.47L220.19,162.97ZM233.01,164.69L231.22,164.50L232.29,163.05ZM245.05,164.72L243.27,164.50L244.36,163.07ZM258.03,165.15L255.90,164.81L256.90,163.31ZM269.95,164.97L267.90,164.73L268.86,163.21ZM281.92,164.69L279.94,164.61L280.81,163.04ZM294.11,164.66L292.09,164.62L292.93,163.02ZM306.42,164.97L304.27,164.76L305.18,163.20ZM318.70,165.32L316.44,164.92L317.43,163.42ZM330.73,165.26L328.50,164.89L329.47,163.38ZM342.49,164.62L340.44,164.62L341.23,163.00ZM354.26,163.92L352.46,164.36L352.95,162.62ZM366.18,163.63L364.52,164.25L364.83,162.48ZM378.13,163.72L376.48,164.27L376.88,162.52ZM390.16,163.82L388.49,164.30L388.96,162.56ZM402.29,162.47L401.11,163.78L400.57,162.06ZM414.24,162.40L413.15,163.75L412.55,162.06ZM426.15,162.43L425.14,163.77L424.51,162.08ZM438.28,162.15L437.35,163.61L436.55,162.00ZM450.53,161.81L449.61,163.42L448.68,161.88ZM462.36,161.97L461.54,163.51L460.61,161.97ZM474.02,161.91L473.50,163.46L472.39,162.04ZM485.92,161.35L485.69,163.07L484.29,161.95ZM498.03,160.50L497.94,162.50L496.37,161.62ZM510.18,159.92L510.10,162.13L508.49,161.34ZM522.23,160.31L522.12,162.38L520.54,161.52ZM534.40,160.51L534.20,162.53L532.67,161.57ZM546.31,161.03L546.13,162.86L544.66,161.82ZM558.16,161.90L557.90,163.43L556.63,162.16ZM569.90,162.22L569.78,163.62L568.51,162.35ZM581.33,163.20L580.70,164.10L580.68,162.30ZM593.27,163.40L592.19,163.60L593.47,162.32ZM605.79,164.50L604.49,163.91L606.10,163.11ZM617.41,165.15L616.38,163.93L618.17,163.75ZM629.28,165.47L628.38,164.03L630.18,164.03ZM98.99,151.91L97.68,151.88L98.94,150.59ZM111.10,151.92L109.77,151.90L111.01,150.59ZM123.32,151.94L121.95,151.98L123.10,150.59ZM135.54,152.00L134.13,152.05L135.22,150.62ZM147.63,152.08L146.19,152.06L147.34,150.67ZM159.60,152.15L158.18,152.02L159.43,150.73ZM171.62,152.17L170.21,152.00L171.50,150.75ZM183.80,152.16L182.36,152.05L183.59,150.73ZM196.22,152.19L194.68,152.18L195.74,150.73ZM208.64,152.31L206.98,152.30L207.96,150.79ZM220.91,152.47L219.16,152.39L220.16,150.89ZM233.01,152.60L231.23,152.43L232.28,150.97ZM245.14,152.65L243.33,152.45L244.39,150.99ZM257.51,152.72L255.60,152.53L256.59,151.03ZM269.63,152.69L267.71,152.53L268.67,151.02ZM281.72,152.57L279.81,152.50L280.72,150.94ZM293.91,152.58L291.96,152.52L292.84,150.95ZM306.13,152.82L304.10,152.62L305.04,151.09ZM318.25,153.02L316.17,152.70L317.18,151.21ZM330.31,152.96L328.25,152.68L329.23,151.17ZM342.25,152.48L340.29,152.49L341.11,150.89ZM354.07,151.84L352.34,152.27L352.85,150.54ZM365.95,151.48L364.40,152.15L364.68,150.37ZM377.90,151.42L376.41,152.12L376.66,150.34ZM389.84,151.32L388.44,152.09L388.61,150.30ZM401.58,151.13L400.40,152.03L400.40,150.23ZM413.82,150.99L412.64,151.98L412.50,150.19ZM425.98,151.01L424.75,151.99L424.64,150.19ZM438.06,151.07L436.80,152.01L436.75,150.21ZM450.18,151.45L448.73,152.12L449.02,150.35ZM462.05,151.28L460.75,152.07L460.90,150.28ZM473.81,150.99L472.80,151.99L472.63,150.20ZM485.83,150.12L485.38,151.56L484.32,150.11ZM498.30,148.56L498.01,150.55L496.53,149.52ZM510.85,147.56L510.40,149.95L508.88,148.98ZM522.67,148.10L522.30,150.27L520.81,149.27ZM534.88,148.05L534.43,150.25L532.96,149.22ZM547.06,148.84L546.40,150.78L545.13,149.51ZM558.81,149.18L558.28,150.98L557.01,149.71ZM570.75,149.31L570.28,151.06L569.00,149.78ZM582.28,150.40L581.76,151.73L580.87,150.17ZM595.02,151.13L593.71,152.03L593.71,150.23ZM606.76,151.33L605.48,152.08L605.70,150.29ZM618.83,152.10L617.27,152.21L618.19,150.67ZM630.58,152.75L629.02,152.25L630.43,151.13ZM99.11,139.90L97.76,139.87L98.98,138.55ZM111.21,139.91L109.85,139.89L111.05,138.55ZM123.37,139.92L121.99,139.94L123.14,138.55ZM135.55,139.96L134.12,139.98L135.24,138.57ZM147.64,140.03L146.20,140.00L147.35,138.62ZM159.68,140.09L158.24,139.99L159.45,138.66ZM171.75,140.11L170.30,139.99L171.53,138.68ZM183.92,140.11L182.44,140.03L183.61,138.67ZM196.22,140.14L194.68,140.12L195.75,138.67ZM208.56,140.22L206.92,140.21L207.93,138.71ZM220.78,140.33L219.08,140.27L220.09,138.78ZM232.93,140.42L231.19,140.31L232.22,138.83ZM245.19,140.51L243.38,140.37L244.39,138.88ZM257.38,140.55L255.53,140.41L256.52,138.91ZM269.42,140.52L267.58,140.39L268.56,138.89ZM281.53,140.44L279.69,140.38L280.62,138.84ZM293.72,140.47L291.84,140.41L292.75,138.85ZM305.92,140.73L303.95,140.51L304.94,139.01ZM318.06,141.00L316.04,140.61L317.12,139.17ZM330.12,140.95L328.11,140.60L329.17,139.14ZM342.05,140.41L340.16,140.40L341.03,138.82ZM353.90,139.75L352.23,140.18L352.76,138.46ZM365.78,139.38L364.30,140.06L364.58,138.28ZM377.76,139.35L376.32,140.05L376.59,138.27ZM389.83,139.38L388.38,140.05L388.67,138.28ZM401.69,139.10L400.45,139.97L400.49,138.17ZM413.74,139.03L412.54,139.95L412.51,138.15ZM425.97,139.20L424.63,140.00L424.76,138.21ZM438.08,139.22L436.71,140.01L436.86,138.21ZM449.98,139.31L448.63,140.03L448.89,138.25ZM461.92,139.71L460.45,140.09L461.12,138.42ZM473.67,139.38L472.43,140.00L472.86,138.26ZM485.46,138.37L485.13,139.68L484.11,138.19ZM497.96,137.18L497.77,138.90L496.34,137.81ZM510.60,136.12L510.22,138.27L508.74,137.24ZM522.69,136.38L522.26,138.43L520.82,137.35ZM535.03,136.36L534.43,138.45L533.06,137.28ZM547.58,136.27L546.71,138.42L545.43,137.14ZM559.04,136.85L558.42,138.76L557.14,137.49ZM571.20,136.79L570.54,138.72L569.27,137.45ZM583.12,137.61L582.33,139.24L581.32,137.75ZM595.54,138.28L594.31,139.61L593.77,137.90ZM607.41,139.06L605.97,139.96L605.97,138.16ZM619.16,139.26L617.76,140.02L617.94,138.23ZM631.23,139.71L629.66,140.14L630.23,138.43ZM99.18,127.95L97.78,127.84L99.04,126.56ZM111.26,127.94L109.87,127.85L111.11,126.55ZM123.39,127.91L121.98,127.87L123.17,126.52ZM135.54,127.93L134.11,127.91L135.26,126.53ZM147.63,128.02L146.18,127.93L147.38,126.59ZM159.64,128.11L158.20,127.92L159.48,126.66ZM171.69,128.14L170.25,127.91L171.56,126.68ZM183.84,128.11L182.38,127.94L183.63,126.65ZM196.15,128.09L194.62,128.03L195.74,126.61ZM208.45,128.13L206.85,128.10L207.89,126.63ZM220.57,128.19L218.94,128.13L220.00,126.67ZM232.53,128.22L230.94,128.11L232.05,126.69ZM244.66,128.25L243.04,128.13L244.15,126.71ZM256.98,128.34L255.27,128.22L256.33,126.76ZM269.13,128.34L267.40,128.23L268.42,126.75ZM281.33,128.30L279.56,128.25L280.52,126.73ZM293.54,128.32L291.73,128.28L292.65,126.74ZM305.67,128.48L303.81,128.34L304.80,126.83ZM317.71,128.58L315.85,128.37L316.89,126.90ZM329.79,128.54L327.93,128.36L328.95,126.87ZM341.83,128.21L340.04,128.25L340.90,126.67ZM353.76,127.65L352.14,128.08L352.68,126.37ZM365.64,127.31L364.21,127.98L364.51,126.20ZM377.60,127.24L376.23,127.96L376.49,126.18ZM389.59,127.21L388.27,127.95L388.50,126.16ZM401.49,127.04L400.32,127.90L400.38,126.10ZM413.65,126.98L412.47,127.89L412.47,126.09ZM425.73,126.99L424.55,127.89L424.55,126.09ZM437.86,127.01L436.64,127.90L436.67,126.10ZM449.71,127.03L448.57,127.90L448.62,126.10ZM461.74,127.16L460.54,127.92L460.75,126.14ZM473.46,126.74L472.72,127.83L472.31,126.08ZM484.77,125.69L485.38,126.93L483.64,126.50ZM497.64,125.39L497.62,126.98L496.15,125.94ZM510.61,124.48L510.15,126.48L508.76,125.34ZM522.82,124.46L522.28,126.48L520.91,125.30ZM535.19,124.38L534.47,126.45L533.17,125.21ZM547.71,124.07L546.78,126.27L545.51,125.00ZM559.38,124.50L558.61,126.53L557.35,125.25ZM571.72,124.20L570.85,126.35L569.57,125.07ZM583.60,124.52L582.78,126.54L581.54,125.24ZM595.86,125.69L594.63,127.26L593.87,125.63ZM608.39,126.66L606.63,127.74L606.45,125.95ZM619.64,126.99L618.13,127.89L618.13,126.09ZM632.07,127.31L630.31,128.02L630.52,126.23ZM99.18,115.89L97.78,115.77L99.05,114.50ZM111.25,115.89L109.86,115.78L111.12,114.50ZM123.38,115.86L121.97,115.80L123.18,114.47ZM135.54,115.88L134.11,115.84L135.27,114.47ZM147.61,115.98L146.16,115.85L147.39,114.55ZM159.61,116.07L158.17,115.83L159.49,114.62ZM171.66,116.09L170.22,115.83L171.57,114.63ZM183.77,116.07L182.33,115.85L183.64,114.61ZM196.07,116.03L194.57,115.93L195.72,114.56ZM208.37,116.04L206.80,116.01L207.86,114.55ZM220.43,116.09L218.85,116.02L219.94,114.59ZM232.32,116.10L230.79,115.96L231.98,114.60ZM244.35,116.09L242.83,115.94L244.03,114.60ZM256.73,116.22L255.11,116.07L256.23,114.66ZM268.87,116.21L267.23,116.09L268.32,114.65ZM281.17,116.16L279.46,116.13L280.44,114.62ZM293.40,116.18L291.64,116.17L292.57,114.63ZM305.45,116.29L303.68,116.19L304.68,114.69ZM317.42,116.35L315.67,116.19L316.73,114.73ZM329.50,116.34L327.75,116.19L328.80,114.73ZM341.66,116.06L339.93,116.13L340.80,114.56ZM353.64,115.54L352.07,115.99L352.62,114.27ZM365.53,115.23L364.14,115.90L364.44,114.13ZM377.45,115.21L376.12,115.89L376.44,114.12ZM389.50,115.24L388.16,115.89L388.51,114.13ZM401.25,114.92L400.21,115.82L400.21,114.02ZM413.48,114.91L412.38,115.82L412.37,114.02ZM425.69,114.87L424.55,115.81L424.50,114.01ZM437.62,114.86L436.55,115.81L436.48,114.01ZM449.53,114.92L448.49,115.82L448.49,114.02ZM461.62,114.96L460.54,115.83L460.59,114.03ZM473.67,115.24L472.43,115.86L472.86,114.12ZM485.43,114.24L485.12,115.54L484.10,114.06ZM498.18,112.92L497.86,114.71L496.48,113.56ZM510.85,112.00L510.31,114.16L508.89,113.05ZM522.92,112.32L522.33,114.37L520.97,113.18ZM535.16,112.34L534.46,114.39L533.15,113.16ZM547.58,112.13L546.71,114.28L545.43,113.00ZM559.47,112.38L558.65,114.43L557.40,113.14ZM571.72,112.13L570.85,114.28L569.57,113.00ZM583.79,112.32L582.88,114.40L581.65,113.08ZM595.99,113.30L594.78,115.00L593.91,113.43ZM608.39,114.40L606.69,115.58L606.40,113.81ZM620.03,114.62L618.46,115.69L618.27,113.90ZM632.53,114.73L630.73,115.73L630.63,113.94Z" fill="#111" stroke="none"/>
</g>
<path d="M96.8,103.5H640.4V405.3H96.8" fill="none" stroke="#666" stroke-width="1"/>
<line x1="97" x2="97" y1="103" y2="405.8" stroke="#aaa" stroke-width="1.6"/>
<text transform="translate(290.8,206.5) rotate(-14)" text-anchor="middle" font-family="Liberation Serif, serif" font-size="11" fill="#333">4</text>
<text transform="translate(297.8,204.8) rotate(-14)" text-anchor="middle" font-family="Liberation Serif, serif" font-size="11" fill="#333">0</text>
<text transform="translate(305.5,202.5) rotate(-14)" text-anchor="middle" font-family="Liberation Serif, serif" font-size="11" fill="#333">.</text>
<text transform="translate(315.8,200.2) rotate(-14)" text-anchor="middle" font-family="Liberation Serif, serif" font-size="11" fill="#333">0</text>
<rect x="655.3" y="103.3" width="22.2" height="16.00" fill="#ff4c00"/>
<rect x="655.3" y="119.0" width="22.2" height="15.80" fill="#ff6000"/>
<rect x="655.3" y="134.5" width="22.2" height="15.20" fill="#ff7400"/>
<rect x="655.3" y="149.4" width="22.2" height="15.90" fill="#ff8600"/>
<rect x="655.3" y="165.0" width="22.2" height="16.30" fill="#ffa000"/>
<rect x="655.3" y="181.0" width="22.2" height="15.10" fill="#ffa600"/>
<rect x="655.3" y="195.8" width="22.2" height="16.00" fill="#ffc000"/>
<rect x="655.3" y="211.5" width="22.2" height="15.80" fill="#ffd400"/>
<rect x="655.3" y="227.0" width="22.2" height="16.00" fill="#ffdf00"/>
<rect x="655.3" y="242.7" width="22.2" height="15.80" fill="#ffea00"/>
<rect x="655.3" y="258.2" width="22.2" height="15.80" fill="#fff200"/>
<rect x="655.3" y="273.7" width="22.2" height="15.20" fill="#ffff00"/>
<rect x="655.3" y="288.6" width="22.2" height="16.60" fill="#ffff20"/>
<rect x="655.3" y="304.9" width="22.2" height="15.30" fill="#ffff40"/>
<rect x="655.3" y="319.9" width="22.2" height="15.70" fill="#ffff60"/>
<rect x="655.3" y="335.3" width="22.2" height="16.00" fill="#ffff70"/>
<rect x="655.3" y="351.0" width="22.2" height="15.60" fill="#ffff90"/>
<rect x="655.3" y="366.3" width="22.2" height="16.40" fill="#ffffa8"/>
<rect x="655.3" y="382.4" width="22.2" height="15.50" fill="#ffffc0"/>
<rect x="655.3" y="397.6" width="22.2" height="8.10" fill="#ffffd8"/>
<line x1="655.3" x2="677.5" y1="181.4" y2="181.4" stroke="#555" stroke-width="0.8"/>
<line x1="655.3" x2="677.5" y1="258.2" y2="258.2" stroke="#555" stroke-width="0.8"/>
<line x1="655.3" x2="677.5" y1="296.9" y2="296.9" stroke="#555" stroke-width="0.8"/>
<line x1="655.3" x2="677.5" y1="335.3" y2="335.3" stroke="#555" stroke-width="0.8"/>
<line x1="655.3" x2="677.5" y1="366.3" y2="366.3" stroke="#555" stroke-width="0.8"/>
<line x1="655.3" x2="677.5" y1="382.4" y2="382.4" stroke="#555" stroke-width="0.8"/>
<line x1="655.3" x2="677.5" y1="397.6" y2="397.6" stroke="#555" stroke-width="0.8"/>
<line x1="655.3" x2="677.5" y1="103.6" y2="103.6" stroke="#333" stroke-width="0.9"/>
<line x1="666.3" x2="677.5" y1="405.2" y2="405.2" stroke="#333" stroke-width="0.9"/>
<line x1="678.0" x2="678.0" y1="103.3" y2="405.4" stroke="#999" stroke-width="1"/>
<g stroke="#777" stroke-width="1" fill="none"><path d="M52.9,413.2V450.2H89.8"/><path d="M48.4,424.7L52.9,413.2L57.3,424.7"/><path d="M78.1,446L89.8,450.2L78.1,454.6"/></g>
<g font-family="Liberation Serif, serif" font-size="23.4" fill="#333" ><text transform="translate(154.6,43.6) scale(0.900,1)" text-anchor="middle">U</text><text transform="translate(186.8,43.6) scale(0.900,1)" text-anchor="middle">V</text><text transform="translate(203.2,43.6) scale(0.900,1)" text-anchor="middle">&amp;</text><text transform="translate(218.8,43.6) scale(0.900,1)" text-anchor="middle">D</text><text transform="translate(235.2,43.6) scale(0.900,1)" text-anchor="middle">u</text><text transform="translate(251.6,43.6) scale(0.900,1)" text-anchor="middle">s</text><text transform="translate(268.6,43.6) scale(0.900,1)" text-anchor="middle">t</text><text transform="translate(300.0,43.6) scale(0.900,1)" text-anchor="middle">t</text><text transform="translate(315.5,43.6) scale(0.900,1)" text-anchor="middle">o</text><text transform="translate(331.2,43.6) scale(0.900,1)" text-anchor="middle">t</text><text transform="translate(347.7,43.6) scale(0.900,1)" text-anchor="middle">a</text><text transform="translate(366.1,43.6) scale(0.900,1)" text-anchor="middle">l</text><text transform="translate(396.7,43.6) scale(0.900,1)" text-anchor="middle">m</text><text transform="translate(411.0,45.6) scale(1.900,1.150)" text-anchor="middle">/</text><text transform="translate(429.5,43.6) scale(0.900,1)" text-anchor="middle">s</text><text transform="translate(445.0,43.6) scale(0.900,1)" text-anchor="middle">&amp;</text><text transform="translate(460.3,43.6) scale(0.900,1)" text-anchor="middle">u</text><text transform="translate(477.3,43.6) scale(0.900,1)" text-anchor="middle">g</text><text transform="translate(491.5,45.6) scale(1.900,1.150)" text-anchor="middle">/</text><text transform="translate(509.8,43.6) scale(0.900,1)" text-anchor="middle">m</text><text transform="translate(525.5,43.6) scale(0.900,1)" text-anchor="middle">3</text><text transform="translate(550.6,43.6) scale(0.900,1)" text-anchor="middle">J</text><text transform="translate(566.5,43.6) scale(0.900,1)" text-anchor="middle">S</text><text transform="translate(583.6,43.6) scale(0.900,1)" text-anchor="middle">T</text></g>
<rect x="163.8" y="35.9" width="13" height="1.3" fill="#333"/>
<g font-family="Liberation Serif, serif" font-size="22.0" fill="#333" ><text transform="translate(292.2,70.7) scale(1.050,1)" text-anchor="middle">2</text><text transform="translate(309.3,70.7) scale(1.050,1)" text-anchor="middle">0</text><text transform="translate(325.2,70.7) scale(1.050,1)" text-anchor="middle">1</text><text transform="translate(341.7,70.7) scale(1.050,1)" text-anchor="middle">5</text><text transform="translate(355.0,72.5) scale(2.200,1.120)" text-anchor="middle">/</text><text transform="translate(373.0,70.7) scale(1.050,1)" text-anchor="middle">0</text><text transform="translate(390.2,70.7) scale(1.050,1)" text-anchor="middle">4</text><text transform="translate(405.5,72.5) scale(2.200,1.120)" text-anchor="middle">/</text><text transform="translate(423.0,70.7) scale(1.050,1)" text-anchor="middle">0</text><text transform="translate(438.0,70.7) scale(1.050,1)" text-anchor="middle">9</text><text transform="translate(454.0,70.7) scale(1.050,1)" text-anchor="middle">.</text><text transform="translate(470.1,70.7) scale(1.050,1)" text-anchor="middle">0</text><text transform="translate(486.5,70.7) scale(1.050,1)" text-anchor="middle">9</text><text transform="translate(502.0,70.7) scale(1.050,1)" text-anchor="middle">:</text><text transform="translate(518.7,70.7) scale(1.050,1)" text-anchor="middle">0</text><text transform="translate(534.5,70.7) scale(1.050,1)" text-anchor="middle">0</text><text transform="translate(551.0,70.7) scale(1.050,1)" text-anchor="middle">:</text><text transform="translate(567.3,70.7) scale(1.050,1)" text-anchor="middle">0</text><text transform="translate(582.5,70.7) scale(1.050,1)" text-anchor="middle">0</text></g>
<g font-family="Liberation Serif, serif" font-size="11.8" fill="#111" ><text transform="translate(201.2,419.8) scale(1.150,1)" text-anchor="middle">l</text><text transform="translate(208.4,419.8) scale(1.150,1)" text-anchor="middle">e</text><text transform="translate(216.3,419.8) scale(1.150,1)" text-anchor="middle">v</text><text transform="translate(225.6,419.8) scale(1.150,1)" text-anchor="middle">=</text><text transform="translate(244.5,419.8) scale(1.150,1)" text-anchor="middle">1</text><text transform="translate(253.4,419.8) scale(1.150,1)" text-anchor="middle">0</text><text transform="translate(262.3,419.8) scale(1.150,1)" text-anchor="middle">.</text><text transform="translate(271.2,419.8) scale(1.150,1)" text-anchor="middle">0</text><text transform="translate(289.0,419.8) scale(1.150,1)" text-anchor="middle">2</text><text transform="translate(297.9,419.8) scale(1.150,1)" text-anchor="middle">0</text><text transform="translate(306.8,419.8) scale(1.150,1)" text-anchor="middle">.</text><text transform="translate(315.7,419.8) scale(1.150,1)" text-anchor="middle">0</text><text transform="translate(333.5,419.8) scale(1.150,1)" text-anchor="middle">4</text><text transform="translate(342.4,419.8) scale(1.150,1)" text-anchor="middle">0</text><text transform="translate(351.3,419.8) scale(1.150,1)" text-anchor="middle">.</text><text transform="translate(360.2,419.8) scale(1.150,1)" text-anchor="middle">0</text><text transform="translate(378.0,419.8) scale(1.150,1)" text-anchor="middle">6</text><text transform="translate(386.9,419.8) scale(1.150,1)" text-anchor="middle">0</text><text transform="translate(395.8,419.8) scale(1.150,1)" text-anchor="middle">.</text><text transform="translate(404.7,419.8) scale(1.150,1)" text-anchor="middle">0</text><text transform="translate(422.5,419.8) scale(1.150,1)" text-anchor="middle">1</text><text transform="translate(431.4,419.8) scale(1.150,1)" text-anchor="middle">0</text><text transform="translate(440.3,419.8) scale(1.150,1)" text-anchor="middle">0</text><text transform="translate(449.2,419.8) scale(1.150,1)" text-anchor="middle">.</text><text transform="translate(467.0,419.8) scale(1.150,1)" text-anchor="middle">1</text><text transform="translate(475.9,419.8) scale(1.150,1)" text-anchor="middle">5</text><text transform="translate(484.8,419.8) scale(1.150,1)" text-anchor="middle">0</text><text transform="translate(493.7,419.8) scale(1.150,1)" text-anchor="middle">.</text><text transform="translate(511.5,419.8) scale(1.150,1)" text-anchor="middle">2</text><text transform="translate(520.4,419.8) scale(1.150,1)" text-anchor="middle">0</text><text transform="translate(529.3,419.8) scale(1.150,1)" text-anchor="middle">0</text><text transform="translate(538.2,419.8) scale(1.150,1)" text-anchor="middle">.</text></g>
<g font-family="Liberation Serif, serif" font-size="11.8" fill="#111" ><text transform="translate(337.9,434.2) scale(1.150,1)" text-anchor="middle">3</text><text transform="translate(346.8,434.2) scale(1.150,1)" text-anchor="middle">0</text><text transform="translate(355.7,434.2) scale(1.150,1)" text-anchor="middle">0</text><text transform="translate(364.6,434.2) scale(1.150,1)" text-anchor="middle">.</text><text transform="translate(382.4,434.2) scale(1.150,1)" text-anchor="middle">4</text><text transform="translate(391.3,434.2) scale(1.150,1)" text-anchor="middle">0</text><text transform="translate(400.2,434.2) scale(1.150,1)" text-anchor="middle">0</text><text transform="translate(409.1,434.2) scale(1.150,1)" text-anchor="middle">.</text></g>
<g font-family="Liberation Serif, serif" font-size="14.0" fill="#111" ><text transform="translate(215.2,465.1) scale(1.000,1)" text-anchor="middle">X</text><text transform="translate(226.5,465.1) scale(1.000,1)" text-anchor="middle">U</text><text transform="translate(237.2,465.1) scale(1.000,1)" text-anchor="middle">N</text><text transform="translate(246.8,465.1) scale(1.000,1)" text-anchor="middle">I</text><text transform="translate(254.7,465.1) scale(1.000,1)" text-anchor="middle">T</text><text transform="translate(268.5,465.1) scale(1.000,1)" text-anchor="middle">=</text><text transform="translate(285.3,465.1) scale(1.000,1)" text-anchor="middle">6</text><text transform="translate(294.3,465.1) scale(1.000,1)" text-anchor="middle">.</text><text transform="translate(302.7,465.1) scale(1.000,1)" text-anchor="middle">0</text><text transform="translate(312.8,465.1) scale(1.000,1)" text-anchor="middle">0</text><text transform="translate(322.1,465.1) scale(1.000,1)" text-anchor="middle">0</text><text transform="translate(330.9,465.1) scale(1.000,1)" text-anchor="middle">E</text><text transform="translate(340.6,465.1) scale(1.000,1)" text-anchor="middle">+</text><text transform="translate(350.8,465.1) scale(1.000,1)" text-anchor="middle">0</text><text transform="translate(358.7,465.1) scale(1.000,1)" text-anchor="middle">1</text><text transform="translate(365.5,465.1) scale(1.000,1)" text-anchor="middle">,</text><text transform="translate(383.1,465.1) scale(1.000,1)" text-anchor="middle">Y</text><text transform="translate(394.4,465.1) scale(1.000,1)" text-anchor="middle">U</text><text transform="translate(404.5,465.1) scale(1.000,1)" text-anchor="middle">N</text><text transform="translate(414.3,465.1) scale(1.000,1)" text-anchor="middle">I</text><text transform="translate(421.5,465.1) scale(1.000,1)" text-anchor="middle">T</text><text transform="translate(436.0,465.1) scale(1.000,1)" text-anchor="middle">=</text><text transform="translate(452.7,465.1) scale(1.000,1)" text-anchor="middle">6</text><text transform="translate(461.7,465.1) scale(1.000,1)" text-anchor="middle">.</text><text transform="translate(470.1,465.1) scale(1.000,1)" text-anchor="middle">0</text><text transform="translate(480.3,465.1) scale(1.000,1)" text-anchor="middle">0</text><text transform="translate(489.3,465.1) scale(1.000,1)" text-anchor="middle">0</text><text transform="translate(498.4,465.1) scale(1.000,1)" text-anchor="middle">E</text><text transform="translate(508.1,465.1) scale(1.000,1)" text-anchor="middle">+</text><text transform="translate(518.2,465.1) scale(1.000,1)" text-anchor="middle">0</text><text transform="translate(526.2,465.1) scale(1.000,1)" text-anchor="middle">1</text></g>
<g font-family="Liberation Serif, serif" font-size="11.8" fill="#111" ><text transform="translate(687.5,107.1) scale(1.150,1)" text-anchor="middle">4</text><text transform="translate(696.2,107.1) scale(1.150,1)" text-anchor="middle">0</text><text transform="translate(705.1,107.1) scale(1.150,1)" text-anchor="middle">0</text></g>
<g font-family="Liberation Serif, serif" font-size="11.8" fill="#111" ><text transform="translate(696.3,409.0) scale(1.150,1)" text-anchor="middle">1</text><text transform="translate(704.8,409.0) scale(1.150,1)" text-anchor="middle">0</text></g>
<g font-family="Liberation Sans, Noto Sans CJK JP, sans-serif" fill="#111"><text x="156.7" y="509.6" font-size="19" text-anchor="middle">©</text><text x="173.8" y="509.6" font-size="17" text-anchor="middle">九</text><text x="191.8" y="509.6" font-size="17" text-anchor="middle">州</text><text x="209.3" y="509.6" font-size="17" text-anchor="middle">大</text><text x="225.8" y="509.6" font-size="17" text-anchor="middle">学</text><text x="243.4" y="509.6" font-size="17" text-anchor="middle">応</text><text x="260.4" y="509.6" font-size="17" text-anchor="middle">用</text><text x="279.6" y="509.6" font-size="17" text-anchor="middle">力</text><text x="297.4" y="509.6" font-size="17" text-anchor="middle">学</text><text x="314.6" y="509.6" font-size="17" text-anchor="middle">研</text><text x="334.5" y="509.6" font-size="17" text-anchor="middle">究</text><text x="352.2" y="509.6" font-size="17" text-anchor="middle">所</text><text x="364.0" y="509.6" font-size="18" text-anchor="middle">(</text><text x="374.2" y="509.6" font-size="18" text-anchor="middle">R</text><text x="383.2" y="509.6" font-size="18" text-anchor="middle">I</text><text x="392.3" y="509.6" font-size="18" text-anchor="middle">A</text><text x="406.0" y="509.6" font-size="18" text-anchor="middle">M</text><text x="415.1" y="509.6" font-size="18" text-anchor="middle">)</text><text x="422.0" y="509.6" font-size="18" text-anchor="middle">/</text><text x="436.3" y="509.6" font-size="17" text-anchor="middle">国</text><text x="454.2" y="509.6" font-size="17" text-anchor="middle">立</text><text x="472.2" y="509.6" font-size="17" text-anchor="middle">環</text><text x="489.5" y="509.6" font-size="17" text-anchor="middle">境</text><text x="506.8" y="509.6" font-size="17" text-anchor="middle">研</text><text x="525.4" y="509.6" font-size="17" text-anchor="middle">究</text><text x="542.0" y="509.6" font-size="17" text-anchor="middle">所</text><text x="552.5" y="509.6" font-size="18" text-anchor="middle">(</text><text x="564.0" y="509.6" font-size="18" text-anchor="middle">N</text><text x="573.6" y="509.6" font-size="18" text-anchor="middle">I</text><text x="581.2" y="509.6" font-size="18" text-anchor="middle">E</text><text x="592.5" y="509.6" font-size="18" text-anchor="middle">S</text><text x="601.6" y="509.6" font-size="18" text-anchor="middle">)</text></g>
</svg>
</body></html>
